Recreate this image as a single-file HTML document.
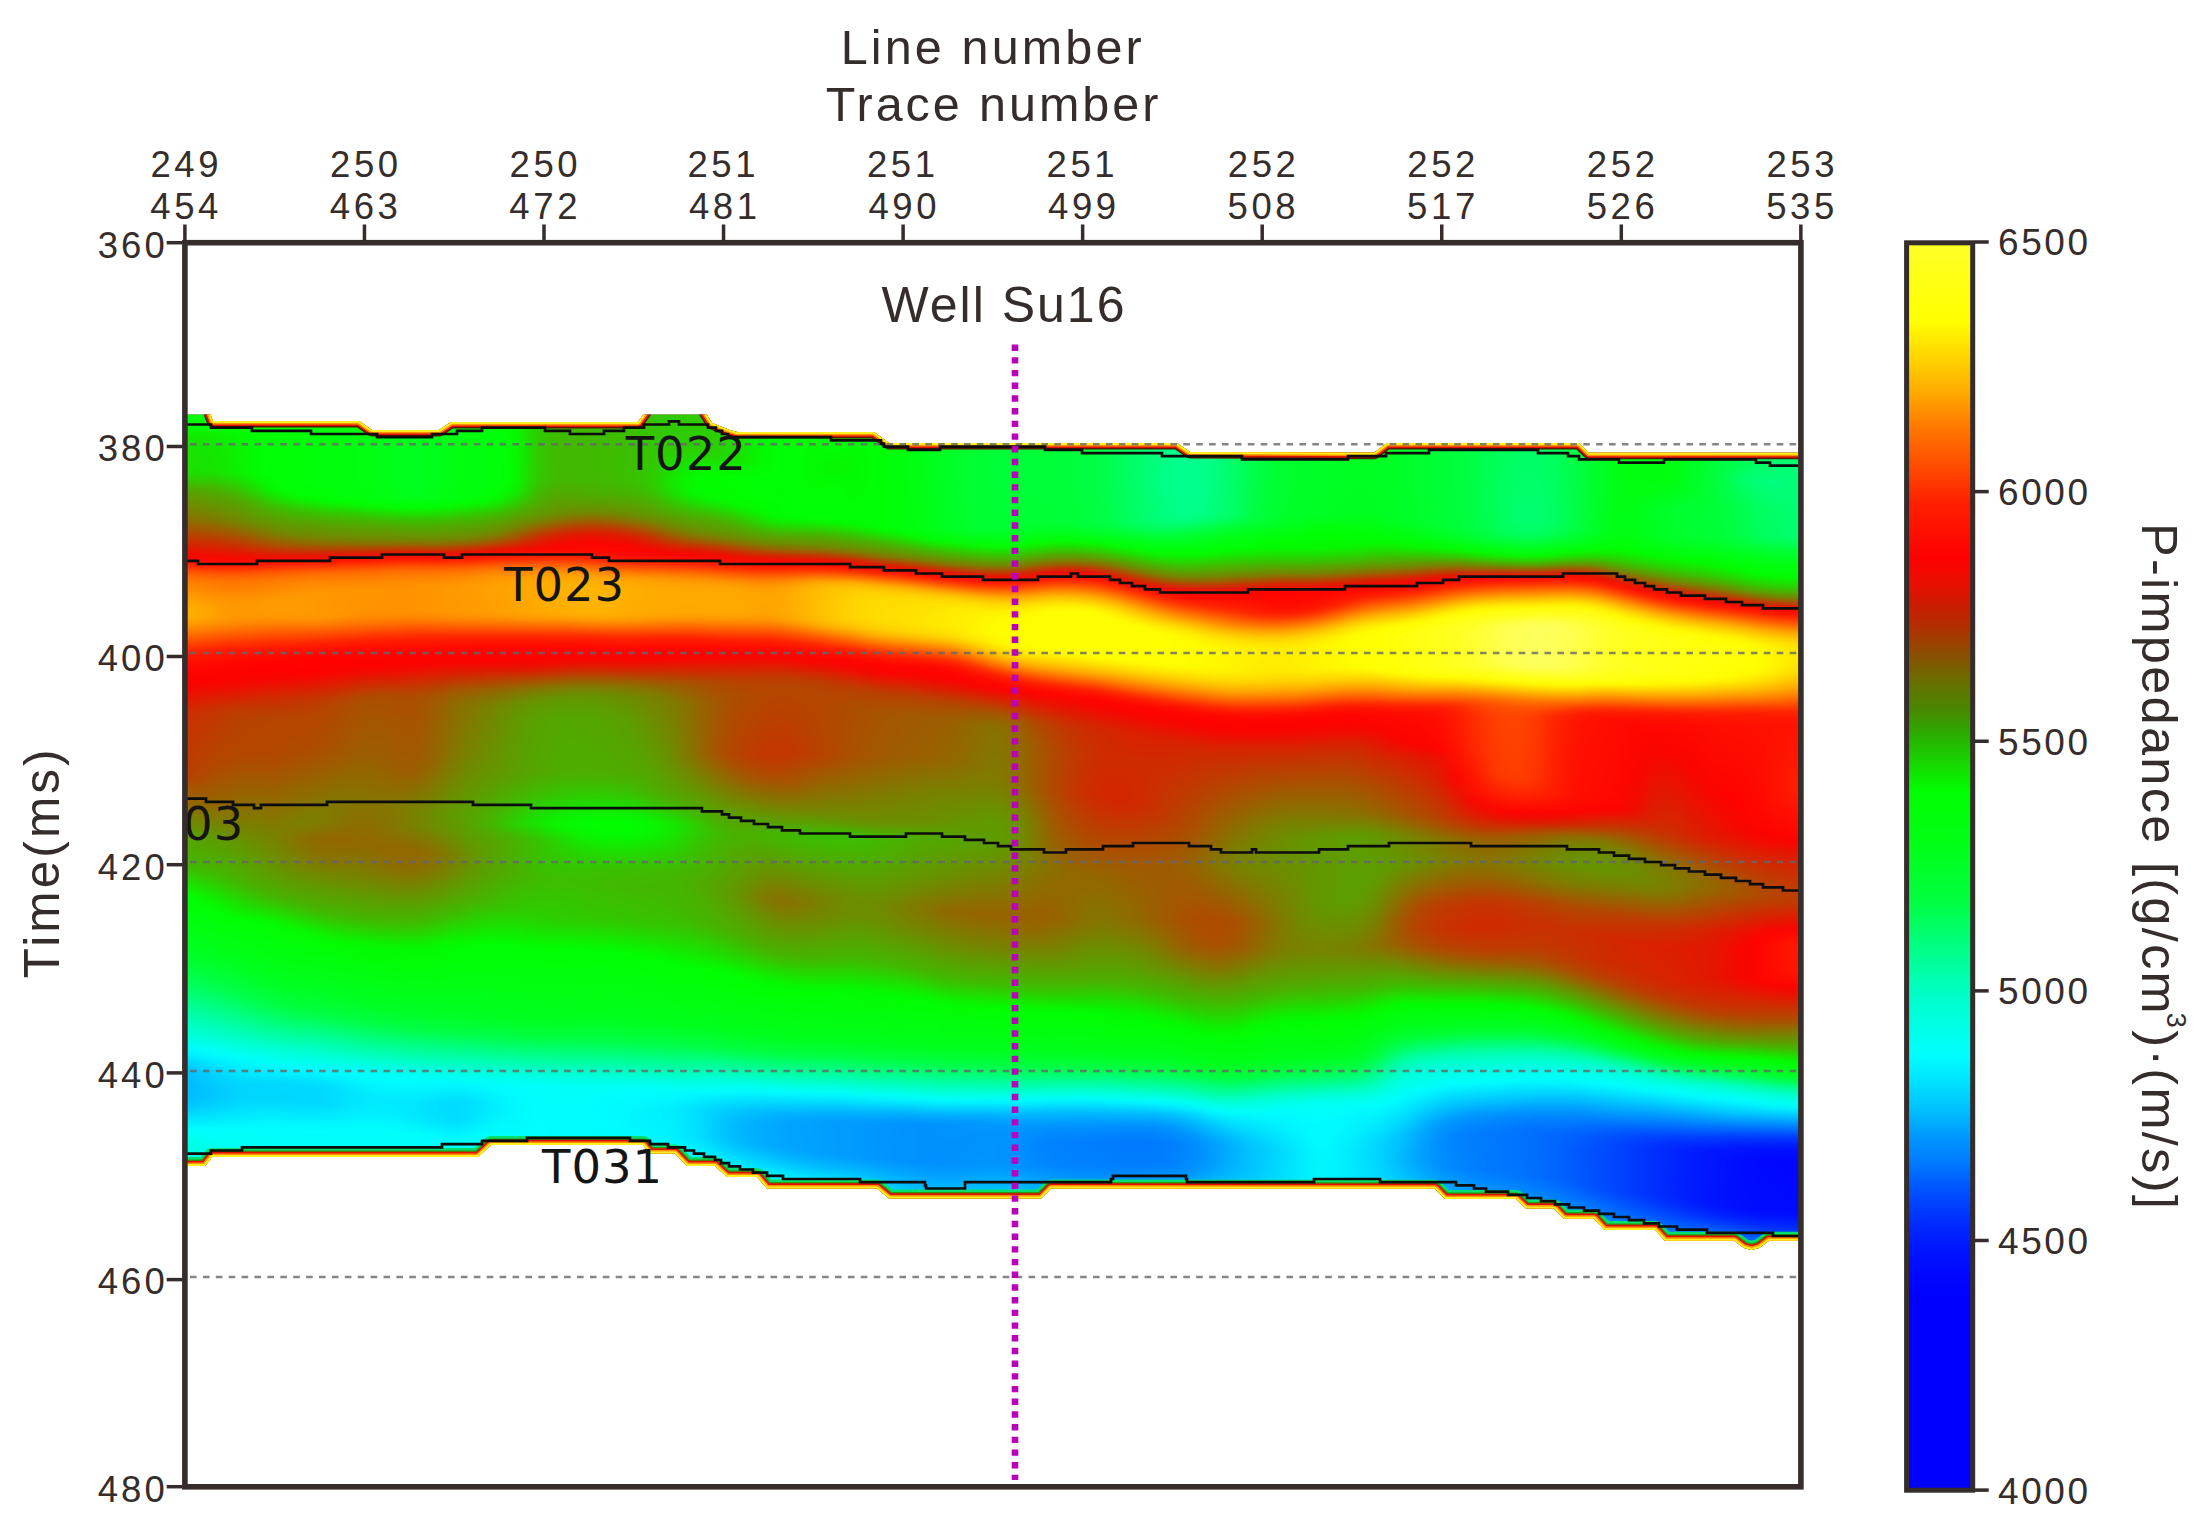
<!DOCTYPE html>
<html lang="en"><head><meta charset="utf-8"><title>P-impedance section</title><style>html,body{margin:0;padding:0;background:#fff}svg{display:block}</style></head><body>
<svg width="2211" height="1539" viewBox="0 0 2211 1539">
<defs>
<linearGradient id="c0" x1="0" y1="0" x2="0" y2="1"><stop offset="0" stop-color="#00ff16"/><stop offset="0.02326" stop-color="#00ff0f"/><stop offset="0.03256" stop-color="#00ff01"/><stop offset="0.04186" stop-color="#16e500"/><stop offset="0.08372" stop-color="#1ddd00"/><stop offset="0.1047" stop-color="#57a300"/><stop offset="0.1372" stop-color="#897100"/><stop offset="0.1814" stop-color="#fc0200"/><stop offset="0.186" stop-color="#ff0d00"/><stop offset="0.1907" stop-color="#ff2200"/><stop offset="0.1977" stop-color="#ff5400"/><stop offset="0.2047" stop-color="#ff7300"/><stop offset="0.2326" stop-color="#ffa900"/><stop offset="0.2465" stop-color="#ffb700"/><stop offset="0.2605" stop-color="#ff9d00"/><stop offset="0.293" stop-color="#ff1e00"/><stop offset="0.3163" stop-color="#ff0200"/><stop offset="0.3349" stop-color="#fc0200"/><stop offset="0.3605" stop-color="#d02a00"/><stop offset="0.393" stop-color="#c63400"/><stop offset="0.4326" stop-color="#c03a00"/><stop offset="0.4721" stop-color="#8e6c00"/><stop offset="0.5023" stop-color="#5b9f00"/><stop offset="0.5419" stop-color="#3fbb00"/><stop offset="0.5721" stop-color="#00ff00"/><stop offset="0.6372" stop-color="#00ff23"/><stop offset="0.6651" stop-color="#00ff48"/><stop offset="0.7535" stop-color="#00fcff"/><stop offset="0.7744" stop-color="#00c5ff"/><stop offset="0.7884" stop-color="#00b4ff"/><stop offset="0.814" stop-color="#00b8ff"/><stop offset="0.8488" stop-color="#00fffc"/><stop offset="0.8674" stop-color="#00ffe0"/><stop offset="0.9605" stop-color="#00ffdc"/><stop offset="1" stop-color="#00ffdc"/></linearGradient>
<linearGradient id="c1" x1="0" y1="0" x2="0" y2="1"><stop offset="0" stop-color="#00ff15"/><stop offset="0.02326" stop-color="#00ff0e"/><stop offset="0.03256" stop-color="#00ff01"/><stop offset="0.04186" stop-color="#16e500"/><stop offset="0.08372" stop-color="#1ddd00"/><stop offset="0.09302" stop-color="#35c500"/><stop offset="0.1023" stop-color="#52a800"/><stop offset="0.1395" stop-color="#8d6d00"/><stop offset="0.1814" stop-color="#fa0300"/><stop offset="0.1837" stop-color="#ff0300"/><stop offset="0.1907" stop-color="#ff1f00"/><stop offset="0.2" stop-color="#ff5e00"/><stop offset="0.2093" stop-color="#ff7d00"/><stop offset="0.2395" stop-color="#ffb200"/><stop offset="0.2488" stop-color="#ffb400"/><stop offset="0.2628" stop-color="#ff9600"/><stop offset="0.293" stop-color="#ff1f00"/><stop offset="0.3163" stop-color="#ff0200"/><stop offset="0.3349" stop-color="#fb0300"/><stop offset="0.3605" stop-color="#d02a00"/><stop offset="0.393" stop-color="#c53500"/><stop offset="0.4326" stop-color="#c03a00"/><stop offset="0.4721" stop-color="#8e6c00"/><stop offset="0.5023" stop-color="#5c9e00"/><stop offset="0.5419" stop-color="#40ba00"/><stop offset="0.5721" stop-color="#01fe00"/><stop offset="0.6372" stop-color="#00ff22"/><stop offset="0.6651" stop-color="#00ff46"/><stop offset="0.7535" stop-color="#00fdff"/><stop offset="0.7744" stop-color="#00c7ff"/><stop offset="0.7884" stop-color="#00b6ff"/><stop offset="0.814" stop-color="#00b9ff"/><stop offset="0.8488" stop-color="#00fffc"/><stop offset="0.8674" stop-color="#00ffe1"/><stop offset="0.9605" stop-color="#00ffdc"/><stop offset="1" stop-color="#00ffdc"/></linearGradient>
<linearGradient id="c2" x1="0" y1="0" x2="0" y2="1"><stop offset="0" stop-color="#00ff10"/><stop offset="0.02558" stop-color="#00ff09"/><stop offset="0.03256" stop-color="#00ff00"/><stop offset="0.04186" stop-color="#14e700"/><stop offset="0.08372" stop-color="#1bdf00"/><stop offset="0.09302" stop-color="#2fcb00"/><stop offset="0.1023" stop-color="#4eac00"/><stop offset="0.1395" stop-color="#887200"/><stop offset="0.1767" stop-color="#e91100"/><stop offset="0.1837" stop-color="#fd0200"/><stop offset="0.1907" stop-color="#ff1800"/><stop offset="0.2023" stop-color="#ff6200"/><stop offset="0.2116" stop-color="#ff7d00"/><stop offset="0.2395" stop-color="#ffaa00"/><stop offset="0.2512" stop-color="#ffad00"/><stop offset="0.2628" stop-color="#ff9300"/><stop offset="0.293" stop-color="#ff1d00"/><stop offset="0.3163" stop-color="#ff0200"/><stop offset="0.3326" stop-color="#f90400"/><stop offset="0.3628" stop-color="#ca3000"/><stop offset="0.4372" stop-color="#b74300"/><stop offset="0.4767" stop-color="#8a7000"/><stop offset="0.507" stop-color="#5b9f00"/><stop offset="0.5442" stop-color="#41b900"/><stop offset="0.5791" stop-color="#00ff00"/><stop offset="0.6395" stop-color="#00ff1f"/><stop offset="0.6698" stop-color="#00ff45"/><stop offset="0.7558" stop-color="#00fdff"/><stop offset="0.7767" stop-color="#00ccff"/><stop offset="0.7953" stop-color="#00bdff"/><stop offset="0.8163" stop-color="#00c2ff"/><stop offset="0.8488" stop-color="#00fffd"/><stop offset="0.8698" stop-color="#00ffe3"/><stop offset="0.9628" stop-color="#00ffe1"/><stop offset="1" stop-color="#00ffe1"/></linearGradient>
<linearGradient id="c3" x1="0" y1="0" x2="0" y2="1"><stop offset="0" stop-color="#00ff08"/><stop offset="0.03256" stop-color="#01fd00"/><stop offset="0.04419" stop-color="#12e900"/><stop offset="0.08372" stop-color="#16e500"/><stop offset="0.107" stop-color="#50aa00"/><stop offset="0.1395" stop-color="#7e7c00"/><stop offset="0.1744" stop-color="#e11900"/><stop offset="0.186" stop-color="#ff0100"/><stop offset="0.193" stop-color="#ff1b00"/><stop offset="0.2023" stop-color="#ff5900"/><stop offset="0.2093" stop-color="#ff7300"/><stop offset="0.2349" stop-color="#ff9b00"/><stop offset="0.2512" stop-color="#ffa100"/><stop offset="0.2605" stop-color="#ff9100"/><stop offset="0.2907" stop-color="#ff1d00"/><stop offset="0.3093" stop-color="#ff0500"/><stop offset="0.3279" stop-color="#fc0200"/><stop offset="0.3628" stop-color="#c33700"/><stop offset="0.4256" stop-color="#b24800"/><stop offset="0.4651" stop-color="#986200"/><stop offset="0.4953" stop-color="#728800"/><stop offset="0.5116" stop-color="#5c9e00"/><stop offset="0.5488" stop-color="#44b600"/><stop offset="0.5907" stop-color="#00ff01"/><stop offset="0.6465" stop-color="#00ff1d"/><stop offset="0.6791" stop-color="#00ff47"/><stop offset="0.7605" stop-color="#00feff"/><stop offset="0.7814" stop-color="#00d5ff"/><stop offset="0.807" stop-color="#00c7ff"/><stop offset="0.8233" stop-color="#00d4ff"/><stop offset="0.8488" stop-color="#00fffe"/><stop offset="0.8744" stop-color="#00ffe9"/><stop offset="0.9674" stop-color="#00ffe8"/><stop offset="1" stop-color="#00ffe8"/></linearGradient>
<linearGradient id="c4" x1="0" y1="0" x2="0" y2="1"><stop offset="0" stop-color="#00ff02"/><stop offset="0.03488" stop-color="#03fb00"/><stop offset="0.05349" stop-color="#0bf100"/><stop offset="0.08605" stop-color="#0fed00"/><stop offset="0.1116" stop-color="#4dad00"/><stop offset="0.1419" stop-color="#778300"/><stop offset="0.1767" stop-color="#e11900"/><stop offset="0.186" stop-color="#fc0200"/><stop offset="0.193" stop-color="#ff1a00"/><stop offset="0.2023" stop-color="#ff5700"/><stop offset="0.2093" stop-color="#ff7100"/><stop offset="0.2349" stop-color="#ff9600"/><stop offset="0.2535" stop-color="#ff9700"/><stop offset="0.2628" stop-color="#ff8200"/><stop offset="0.2884" stop-color="#ff1e00"/><stop offset="0.307" stop-color="#ff0300"/><stop offset="0.3279" stop-color="#fb0300"/><stop offset="0.3628" stop-color="#bc3e00"/><stop offset="0.4186" stop-color="#b14900"/><stop offset="0.4884" stop-color="#847600"/><stop offset="0.514" stop-color="#629800"/><stop offset="0.5581" stop-color="#46b400"/><stop offset="0.5884" stop-color="#13e900"/><stop offset="0.6023" stop-color="#00ff01"/><stop offset="0.6558" stop-color="#00ff1e"/><stop offset="0.686" stop-color="#00ff43"/><stop offset="0.7628" stop-color="#00fffb"/><stop offset="0.7953" stop-color="#00d3ff"/><stop offset="0.8163" stop-color="#00d4ff"/><stop offset="0.8488" stop-color="#00fffd"/><stop offset="0.8791" stop-color="#00ffee"/><stop offset="0.9721" stop-color="#00ffee"/><stop offset="1" stop-color="#00ffee"/></linearGradient>
<linearGradient id="c5" x1="0" y1="0" x2="0" y2="1"><stop offset="0" stop-color="#00ff03"/><stop offset="0.08837" stop-color="#02fd00"/><stop offset="0.1023" stop-color="#1ae000"/><stop offset="0.1209" stop-color="#4baf00"/><stop offset="0.1465" stop-color="#718900"/><stop offset="0.1651" stop-color="#ac4e00"/><stop offset="0.186" stop-color="#ff0100"/><stop offset="0.193" stop-color="#ff1f00"/><stop offset="0.2023" stop-color="#ff5d00"/><stop offset="0.2116" stop-color="#ff7900"/><stop offset="0.2349" stop-color="#ff9900"/><stop offset="0.2512" stop-color="#ff9800"/><stop offset="0.2605" stop-color="#ff8400"/><stop offset="0.2884" stop-color="#ff1c00"/><stop offset="0.3047" stop-color="#ff0300"/><stop offset="0.3256" stop-color="#fa0400"/><stop offset="0.3558" stop-color="#c33700"/><stop offset="0.3721" stop-color="#b64400"/><stop offset="0.4163" stop-color="#b24800"/><stop offset="0.5047" stop-color="#748600"/><stop offset="0.5674" stop-color="#49b100"/><stop offset="0.593" stop-color="#19e100"/><stop offset="0.6047" stop-color="#01fe00"/><stop offset="0.6651" stop-color="#00ff1e"/><stop offset="0.6977" stop-color="#00ff47"/><stop offset="0.7395" stop-color="#00ffb4"/><stop offset="0.7581" stop-color="#00ffe7"/><stop offset="0.7721" stop-color="#00fcff"/><stop offset="0.7953" stop-color="#00d6ff"/><stop offset="0.8163" stop-color="#00d8ff"/><stop offset="0.8488" stop-color="#00fffc"/><stop offset="0.886" stop-color="#00fff0"/><stop offset="0.9791" stop-color="#00fff0"/><stop offset="1" stop-color="#00fff0"/></linearGradient>
<linearGradient id="c6" x1="0" y1="0" x2="0" y2="1"><stop offset="0" stop-color="#00ff05"/><stop offset="0.09302" stop-color="#00ff04"/><stop offset="0.1047" stop-color="#01fe00"/><stop offset="0.1279" stop-color="#46b400"/><stop offset="0.1558" stop-color="#788200"/><stop offset="0.1698" stop-color="#ac4e00"/><stop offset="0.1837" stop-color="#f60700"/><stop offset="0.186" stop-color="#ff0500"/><stop offset="0.193" stop-color="#ff2900"/><stop offset="0.2" stop-color="#ff5800"/><stop offset="0.207" stop-color="#ff7400"/><stop offset="0.2302" stop-color="#ff9900"/><stop offset="0.2465" stop-color="#ff9f00"/><stop offset="0.2581" stop-color="#ff8900"/><stop offset="0.286" stop-color="#ff1e00"/><stop offset="0.3023" stop-color="#ff0200"/><stop offset="0.3233" stop-color="#fb0300"/><stop offset="0.3488" stop-color="#ca3000"/><stop offset="0.3698" stop-color="#b64400"/><stop offset="0.4163" stop-color="#b14900"/><stop offset="0.5" stop-color="#7d7d00"/><stop offset="0.5442" stop-color="#679300"/><stop offset="0.5791" stop-color="#45b500"/><stop offset="0.6093" stop-color="#01fe00"/><stop offset="0.6767" stop-color="#00ff20"/><stop offset="0.707" stop-color="#00ff48"/><stop offset="0.7581" stop-color="#00ffde"/><stop offset="0.7744" stop-color="#00ffff"/><stop offset="0.793" stop-color="#00d9ff"/><stop offset="0.814" stop-color="#00d7ff"/><stop offset="0.8465" stop-color="#00fffe"/><stop offset="0.8884" stop-color="#00fff2"/><stop offset="0.9814" stop-color="#00fff2"/><stop offset="1" stop-color="#00fff2"/></linearGradient>
<linearGradient id="c7" x1="0" y1="0" x2="0" y2="1"><stop offset="0" stop-color="#00ff07"/><stop offset="0.09302" stop-color="#00ff07"/><stop offset="0.1116" stop-color="#00ff00"/><stop offset="0.1302" stop-color="#40ba00"/><stop offset="0.1581" stop-color="#748600"/><stop offset="0.1698" stop-color="#a25800"/><stop offset="0.1837" stop-color="#f70600"/><stop offset="0.186" stop-color="#ff0600"/><stop offset="0.193" stop-color="#ff2f00"/><stop offset="0.2" stop-color="#ff5e00"/><stop offset="0.207" stop-color="#ff7800"/><stop offset="0.2256" stop-color="#ff9700"/><stop offset="0.2465" stop-color="#ff9e00"/><stop offset="0.2558" stop-color="#ff9100"/><stop offset="0.286" stop-color="#ff1c00"/><stop offset="0.3" stop-color="#ff0300"/><stop offset="0.3209" stop-color="#fc0200"/><stop offset="0.3465" stop-color="#ca3000"/><stop offset="0.3674" stop-color="#b64400"/><stop offset="0.414" stop-color="#ae4c00"/><stop offset="0.4907" stop-color="#7b7f00"/><stop offset="0.514" stop-color="#867400"/><stop offset="0.5512" stop-color="#6a9000"/><stop offset="0.586" stop-color="#45b500"/><stop offset="0.6163" stop-color="#02fd00"/><stop offset="0.6814" stop-color="#00ff1f"/><stop offset="0.7093" stop-color="#00ff41"/><stop offset="0.7581" stop-color="#00ffd6"/><stop offset="0.7767" stop-color="#00ffff"/><stop offset="0.7953" stop-color="#00d8ff"/><stop offset="0.8163" stop-color="#00d6ff"/><stop offset="0.8488" stop-color="#00fffd"/><stop offset="0.8907" stop-color="#00fff2"/><stop offset="0.9837" stop-color="#00fff2"/><stop offset="1" stop-color="#00fff2"/></linearGradient>
<linearGradient id="c8" x1="0" y1="0" x2="0" y2="1"><stop offset="0" stop-color="#00ff0a"/><stop offset="0.09302" stop-color="#00ff0a"/><stop offset="0.114" stop-color="#00ff03"/><stop offset="0.1163" stop-color="#01fd00"/><stop offset="0.1302" stop-color="#35c500"/><stop offset="0.1419" stop-color="#53a700"/><stop offset="0.1605" stop-color="#758500"/><stop offset="0.1698" stop-color="#9c5e00"/><stop offset="0.1814" stop-color="#ea1000"/><stop offset="0.1837" stop-color="#fa0400"/><stop offset="0.1884" stop-color="#ff1600"/><stop offset="0.2" stop-color="#ff6400"/><stop offset="0.2093" stop-color="#ff8100"/><stop offset="0.2233" stop-color="#ff9800"/><stop offset="0.2512" stop-color="#ff9900"/><stop offset="0.2581" stop-color="#ff8a00"/><stop offset="0.2837" stop-color="#ff1e00"/><stop offset="0.2977" stop-color="#ff0300"/><stop offset="0.3186" stop-color="#fd0200"/><stop offset="0.3465" stop-color="#c63400"/><stop offset="0.3628" stop-color="#b54500"/><stop offset="0.407" stop-color="#ae4c00"/><stop offset="0.4837" stop-color="#7b7f00"/><stop offset="0.4953" stop-color="#7e7c00"/><stop offset="0.5093" stop-color="#926800"/><stop offset="0.5326" stop-color="#867400"/><stop offset="0.593" stop-color="#43b700"/><stop offset="0.6233" stop-color="#03fc00"/><stop offset="0.686" stop-color="#00ff21"/><stop offset="0.7116" stop-color="#00ff3f"/><stop offset="0.7628" stop-color="#00ffdb"/><stop offset="0.7791" stop-color="#00fdff"/><stop offset="0.7977" stop-color="#00d8ff"/><stop offset="0.8163" stop-color="#00d5ff"/><stop offset="0.8488" stop-color="#00fffe"/><stop offset="0.8884" stop-color="#00fff2"/><stop offset="0.9814" stop-color="#00fff2"/><stop offset="1" stop-color="#00fff2"/></linearGradient>
<linearGradient id="c9" x1="0" y1="0" x2="0" y2="1"><stop offset="0" stop-color="#00ff0c"/><stop offset="0.09302" stop-color="#00ff0c"/><stop offset="0.114" stop-color="#00ff07"/><stop offset="0.1186" stop-color="#00ff00"/><stop offset="0.1326" stop-color="#36c400"/><stop offset="0.1442" stop-color="#54a600"/><stop offset="0.1605" stop-color="#718900"/><stop offset="0.1698" stop-color="#996100"/><stop offset="0.1791" stop-color="#e11900"/><stop offset="0.1837" stop-color="#ff0000"/><stop offset="0.1907" stop-color="#ff2900"/><stop offset="0.1977" stop-color="#ff5c00"/><stop offset="0.2047" stop-color="#ff7800"/><stop offset="0.2209" stop-color="#ff9600"/><stop offset="0.2512" stop-color="#ff9600"/><stop offset="0.2605" stop-color="#ff7c00"/><stop offset="0.2814" stop-color="#ff2000"/><stop offset="0.2953" stop-color="#ff0400"/><stop offset="0.3163" stop-color="#fc0200"/><stop offset="0.3512" stop-color="#b54500"/><stop offset="0.407" stop-color="#a75300"/><stop offset="0.4698" stop-color="#817900"/><stop offset="0.493" stop-color="#837700"/><stop offset="0.5093" stop-color="#966400"/><stop offset="0.5372" stop-color="#857500"/><stop offset="0.5977" stop-color="#44b600"/><stop offset="0.6302" stop-color="#01fe00"/><stop offset="0.6907" stop-color="#00ff21"/><stop offset="0.7163" stop-color="#00ff41"/><stop offset="0.7651" stop-color="#00ffda"/><stop offset="0.7814" stop-color="#00fdff"/><stop offset="0.8" stop-color="#00ddff"/><stop offset="0.8209" stop-color="#00deff"/><stop offset="0.8488" stop-color="#00fffd"/><stop offset="0.8907" stop-color="#00fff2"/><stop offset="0.9837" stop-color="#00fff2"/><stop offset="1" stop-color="#00fff2"/></linearGradient>
<linearGradient id="c10" x1="0" y1="0" x2="0" y2="1"><stop offset="0" stop-color="#00ff0f"/><stop offset="0.09302" stop-color="#00ff0f"/><stop offset="0.1163" stop-color="#00ff08"/><stop offset="0.1209" stop-color="#00ff00"/><stop offset="0.1302" stop-color="#27d300"/><stop offset="0.1419" stop-color="#4cae00"/><stop offset="0.1605" stop-color="#6f8b00"/><stop offset="0.1674" stop-color="#8a7000"/><stop offset="0.1744" stop-color="#be3c00"/><stop offset="0.1814" stop-color="#f40900"/><stop offset="0.1837" stop-color="#ff0500"/><stop offset="0.1907" stop-color="#ff2f00"/><stop offset="0.1977" stop-color="#ff6000"/><stop offset="0.207" stop-color="#ff7e00"/><stop offset="0.2209" stop-color="#ff9500"/><stop offset="0.2512" stop-color="#ff9200"/><stop offset="0.2628" stop-color="#ff6c00"/><stop offset="0.2814" stop-color="#ff1c00"/><stop offset="0.2953" stop-color="#ff0300"/><stop offset="0.314" stop-color="#fb0300"/><stop offset="0.3488" stop-color="#ac4e00"/><stop offset="0.407" stop-color="#9f5b00"/><stop offset="0.4651" stop-color="#847600"/><stop offset="0.514" stop-color="#936700"/><stop offset="0.5488" stop-color="#7c7e00"/><stop offset="0.6023" stop-color="#43b700"/><stop offset="0.6326" stop-color="#03fb00"/><stop offset="0.6977" stop-color="#00ff22"/><stop offset="0.7209" stop-color="#00ff42"/><stop offset="0.7698" stop-color="#00ffde"/><stop offset="0.7837" stop-color="#00ffff"/><stop offset="0.8047" stop-color="#00e5ff"/><stop offset="0.8256" stop-color="#00e9ff"/><stop offset="0.8488" stop-color="#00fffc"/><stop offset="0.893" stop-color="#00fff2"/><stop offset="0.986" stop-color="#00fff2"/><stop offset="1" stop-color="#00fff2"/></linearGradient>
<linearGradient id="c11" x1="0" y1="0" x2="0" y2="1"><stop offset="0" stop-color="#00ff13"/><stop offset="0.09302" stop-color="#00ff13"/><stop offset="0.1163" stop-color="#00ff0c"/><stop offset="0.1233" stop-color="#00ff00"/><stop offset="0.1326" stop-color="#28d200"/><stop offset="0.1442" stop-color="#4eac00"/><stop offset="0.1628" stop-color="#748600"/><stop offset="0.1698" stop-color="#996100"/><stop offset="0.1791" stop-color="#ea1000"/><stop offset="0.1814" stop-color="#fb0300"/><stop offset="0.1884" stop-color="#ff2300"/><stop offset="0.1953" stop-color="#ff5700"/><stop offset="0.2023" stop-color="#ff7500"/><stop offset="0.2186" stop-color="#ff9300"/><stop offset="0.2488" stop-color="#ff9200"/><stop offset="0.2581" stop-color="#ff7900"/><stop offset="0.2791" stop-color="#ff1f00"/><stop offset="0.293" stop-color="#ff0400"/><stop offset="0.3116" stop-color="#fc0200"/><stop offset="0.3465" stop-color="#a95100"/><stop offset="0.414" stop-color="#9c5e00"/><stop offset="0.4674" stop-color="#857500"/><stop offset="0.5209" stop-color="#916900"/><stop offset="0.5488" stop-color="#827800"/><stop offset="0.6047" stop-color="#44b600"/><stop offset="0.6349" stop-color="#04fa00"/><stop offset="0.6535" stop-color="#00ff07"/><stop offset="0.7047" stop-color="#00ff24"/><stop offset="0.7256" stop-color="#00ff43"/><stop offset="0.7744" stop-color="#00ffe4"/><stop offset="0.7884" stop-color="#00fdff"/><stop offset="0.8116" stop-color="#00eaff"/><stop offset="0.8326" stop-color="#00f0ff"/><stop offset="0.8488" stop-color="#00fffc"/><stop offset="0.893" stop-color="#00fff2"/><stop offset="0.986" stop-color="#00fff2"/><stop offset="1" stop-color="#00fff2"/></linearGradient>
<linearGradient id="c12" x1="0" y1="0" x2="0" y2="1"><stop offset="0" stop-color="#00ff1a"/><stop offset="0.09302" stop-color="#00ff1a"/><stop offset="0.114" stop-color="#00ff15"/><stop offset="0.1256" stop-color="#00ff00"/><stop offset="0.1326" stop-color="#21d900"/><stop offset="0.1442" stop-color="#4ab000"/><stop offset="0.1628" stop-color="#738700"/><stop offset="0.1698" stop-color="#9b5f00"/><stop offset="0.1767" stop-color="#de1c00"/><stop offset="0.1814" stop-color="#ff0100"/><stop offset="0.1884" stop-color="#ff2a00"/><stop offset="0.1953" stop-color="#ff5c00"/><stop offset="0.2023" stop-color="#ff7800"/><stop offset="0.2163" stop-color="#ff9200"/><stop offset="0.2488" stop-color="#ff9100"/><stop offset="0.2581" stop-color="#ff7600"/><stop offset="0.2791" stop-color="#ff1d00"/><stop offset="0.293" stop-color="#ff0300"/><stop offset="0.3116" stop-color="#f90400"/><stop offset="0.3442" stop-color="#ad4d00"/><stop offset="0.3698" stop-color="#a75300"/><stop offset="0.4302" stop-color="#9d5d00"/><stop offset="0.4721" stop-color="#817900"/><stop offset="0.4977" stop-color="#847600"/><stop offset="0.5233" stop-color="#936700"/><stop offset="0.5465" stop-color="#8b6f00"/><stop offset="0.6093" stop-color="#3ebc00"/><stop offset="0.6372" stop-color="#04fb00"/><stop offset="0.7047" stop-color="#00ff21"/><stop offset="0.7279" stop-color="#00ff41"/><stop offset="0.7767" stop-color="#00ffe5"/><stop offset="0.7884" stop-color="#00fffe"/><stop offset="0.8163" stop-color="#00e9ff"/><stop offset="0.8349" stop-color="#00efff"/><stop offset="0.8488" stop-color="#00fffd"/><stop offset="0.8907" stop-color="#00fff2"/><stop offset="0.9837" stop-color="#00fff2"/><stop offset="1" stop-color="#00fff2"/></linearGradient>
<linearGradient id="c13" x1="0" y1="0" x2="0" y2="1"><stop offset="0" stop-color="#00ff20"/><stop offset="0.09302" stop-color="#00ff20"/><stop offset="0.1116" stop-color="#00ff1c"/><stop offset="0.1256" stop-color="#00ff03"/><stop offset="0.1395" stop-color="#39c100"/><stop offset="0.1628" stop-color="#738700"/><stop offset="0.1698" stop-color="#9e5c00"/><stop offset="0.1767" stop-color="#e21800"/><stop offset="0.1791" stop-color="#f30900"/><stop offset="0.1814" stop-color="#ff0400"/><stop offset="0.186" stop-color="#ff1d00"/><stop offset="0.1953" stop-color="#ff6000"/><stop offset="0.2047" stop-color="#ff7f00"/><stop offset="0.2163" stop-color="#ff9300"/><stop offset="0.2488" stop-color="#ff9100"/><stop offset="0.2581" stop-color="#ff7400"/><stop offset="0.2767" stop-color="#ff2000"/><stop offset="0.293" stop-color="#ff0300"/><stop offset="0.3093" stop-color="#fa0400"/><stop offset="0.3442" stop-color="#ad4d00"/><stop offset="0.4326" stop-color="#9e5c00"/><stop offset="0.4744" stop-color="#798100"/><stop offset="0.4953" stop-color="#778300"/><stop offset="0.5233" stop-color="#946600"/><stop offset="0.5465" stop-color="#8e6c00"/><stop offset="0.6093" stop-color="#3ebc00"/><stop offset="0.6372" stop-color="#04fa00"/><stop offset="0.6558" stop-color="#00ff06"/><stop offset="0.7116" stop-color="#00ff24"/><stop offset="0.7326" stop-color="#00ff47"/><stop offset="0.7814" stop-color="#00ffed"/><stop offset="0.7907" stop-color="#00ffff"/><stop offset="0.8209" stop-color="#00e6ff"/><stop offset="0.8349" stop-color="#00e9ff"/><stop offset="0.8535" stop-color="#00fffc"/><stop offset="0.8953" stop-color="#00fff3"/><stop offset="0.9884" stop-color="#00fff3"/><stop offset="1" stop-color="#00fff3"/></linearGradient>
<linearGradient id="c14" x1="0" y1="0" x2="0" y2="1"><stop offset="0" stop-color="#00ff1a"/><stop offset="0.09302" stop-color="#00ff1a"/><stop offset="0.1163" stop-color="#00ff12"/><stop offset="0.1256" stop-color="#00ff01"/><stop offset="0.1349" stop-color="#28d200"/><stop offset="0.1465" stop-color="#4eac00"/><stop offset="0.1628" stop-color="#708a00"/><stop offset="0.1698" stop-color="#986200"/><stop offset="0.1767" stop-color="#dc1e00"/><stop offset="0.1814" stop-color="#ff0000"/><stop offset="0.1884" stop-color="#ff2900"/><stop offset="0.1953" stop-color="#ff5c00"/><stop offset="0.2023" stop-color="#ff7a00"/><stop offset="0.2163" stop-color="#ff9500"/><stop offset="0.2488" stop-color="#ff9500"/><stop offset="0.2558" stop-color="#ff8100"/><stop offset="0.2767" stop-color="#ff2000"/><stop offset="0.293" stop-color="#ff0300"/><stop offset="0.307" stop-color="#fb0300"/><stop offset="0.3419" stop-color="#a85200"/><stop offset="0.3581" stop-color="#9d5d00"/><stop offset="0.4209" stop-color="#946600"/><stop offset="0.4791" stop-color="#6b8f00"/><stop offset="0.4977" stop-color="#6d8d00"/><stop offset="0.5279" stop-color="#8b6f00"/><stop offset="0.5488" stop-color="#817900"/><stop offset="0.6047" stop-color="#3ebc00"/><stop offset="0.6349" stop-color="#04fa00"/><stop offset="0.6674" stop-color="#00ff0b"/><stop offset="0.714" stop-color="#00ff24"/><stop offset="0.7326" stop-color="#00ff41"/><stop offset="0.7837" stop-color="#00ffef"/><stop offset="0.793" stop-color="#00fcff"/><stop offset="0.8186" stop-color="#00deff"/><stop offset="0.8372" stop-color="#00e2ff"/><stop offset="0.8581" stop-color="#00ffff"/><stop offset="0.8953" stop-color="#00fff6"/><stop offset="0.9884" stop-color="#00fff6"/><stop offset="1" stop-color="#00fff6"/></linearGradient>
<linearGradient id="c15" x1="0" y1="0" x2="0" y2="1"><stop offset="0" stop-color="#00ff11"/><stop offset="0.09302" stop-color="#00ff11"/><stop offset="0.1163" stop-color="#00ff0b"/><stop offset="0.1233" stop-color="#02fd00"/><stop offset="0.1326" stop-color="#29d100"/><stop offset="0.1442" stop-color="#4eac00"/><stop offset="0.1605" stop-color="#6e8c00"/><stop offset="0.1674" stop-color="#8f6b00"/><stop offset="0.1767" stop-color="#e31700"/><stop offset="0.1791" stop-color="#f30900"/><stop offset="0.1814" stop-color="#ff0500"/><stop offset="0.1884" stop-color="#ff2f00"/><stop offset="0.1953" stop-color="#ff6000"/><stop offset="0.2047" stop-color="#ff8500"/><stop offset="0.2163" stop-color="#ff9900"/><stop offset="0.2488" stop-color="#ff9800"/><stop offset="0.2558" stop-color="#ff8400"/><stop offset="0.2767" stop-color="#ff1f00"/><stop offset="0.2907" stop-color="#ff0400"/><stop offset="0.3047" stop-color="#fd0200"/><stop offset="0.3163" stop-color="#df1b00"/><stop offset="0.3372" stop-color="#a45600"/><stop offset="0.3535" stop-color="#8e6c00"/><stop offset="0.4093" stop-color="#837700"/><stop offset="0.4814" stop-color="#5e9c00"/><stop offset="0.5023" stop-color="#649600"/><stop offset="0.5302" stop-color="#798100"/><stop offset="0.5535" stop-color="#6d8d00"/><stop offset="0.5977" stop-color="#3ebc00"/><stop offset="0.6302" stop-color="#05f900"/><stop offset="0.6442" stop-color="#00ff04"/><stop offset="0.714" stop-color="#00ff22"/><stop offset="0.7349" stop-color="#00ff42"/><stop offset="0.786" stop-color="#00fff1"/><stop offset="0.7953" stop-color="#00f9ff"/><stop offset="0.8163" stop-color="#00daff"/><stop offset="0.8372" stop-color="#00dbff"/><stop offset="0.8628" stop-color="#00feff"/><stop offset="0.9302" stop-color="#00fffa"/><stop offset="1" stop-color="#00fffa"/></linearGradient>
<linearGradient id="c16" x1="0" y1="0" x2="0" y2="1"><stop offset="0" stop-color="#00ff0e"/><stop offset="0.09302" stop-color="#00ff0e"/><stop offset="0.114" stop-color="#00ff09"/><stop offset="0.1209" stop-color="#03fb00"/><stop offset="0.1302" stop-color="#29d100"/><stop offset="0.1419" stop-color="#4eac00"/><stop offset="0.1581" stop-color="#6e8c00"/><stop offset="0.1651" stop-color="#8c6e00"/><stop offset="0.1767" stop-color="#ea1000"/><stop offset="0.1791" stop-color="#fb0300"/><stop offset="0.186" stop-color="#ff2200"/><stop offset="0.1953" stop-color="#ff6500"/><stop offset="0.2047" stop-color="#ff8b00"/><stop offset="0.2163" stop-color="#ff9d00"/><stop offset="0.2488" stop-color="#ff9b00"/><stop offset="0.2558" stop-color="#ff8700"/><stop offset="0.2767" stop-color="#ff1f00"/><stop offset="0.2907" stop-color="#ff0300"/><stop offset="0.3047" stop-color="#fc0200"/><stop offset="0.3163" stop-color="#dc1e00"/><stop offset="0.3372" stop-color="#9c5e00"/><stop offset="0.3558" stop-color="#807a00"/><stop offset="0.4302" stop-color="#6d8d00"/><stop offset="0.4884" stop-color="#51a900"/><stop offset="0.5349" stop-color="#669400"/><stop offset="0.5791" stop-color="#4dad00"/><stop offset="0.6093" stop-color="#20da00"/><stop offset="0.6326" stop-color="#00ff00"/><stop offset="0.7163" stop-color="#00ff22"/><stop offset="0.7372" stop-color="#00ff45"/><stop offset="0.786" stop-color="#00ffee"/><stop offset="0.7953" stop-color="#00fbff"/><stop offset="0.8163" stop-color="#00e1ff"/><stop offset="0.8372" stop-color="#00e5ff"/><stop offset="0.8581" stop-color="#00ffff"/><stop offset="0.9209" stop-color="#00fff9"/><stop offset="1" stop-color="#00fff9"/></linearGradient>
<linearGradient id="c17" x1="0" y1="0" x2="0" y2="1"><stop offset="0" stop-color="#00ff0a"/><stop offset="0.09302" stop-color="#00ff0a"/><stop offset="0.114" stop-color="#00ff03"/><stop offset="0.1163" stop-color="#01fe00"/><stop offset="0.1326" stop-color="#3ebc00"/><stop offset="0.1558" stop-color="#738700"/><stop offset="0.1628" stop-color="#936700"/><stop offset="0.1744" stop-color="#e71300"/><stop offset="0.1767" stop-color="#f60700"/><stop offset="0.1791" stop-color="#ff0600"/><stop offset="0.186" stop-color="#ff2e00"/><stop offset="0.1953" stop-color="#ff6f00"/><stop offset="0.2047" stop-color="#ff9400"/><stop offset="0.2163" stop-color="#ffa100"/><stop offset="0.2488" stop-color="#ff9e00"/><stop offset="0.2558" stop-color="#ff8800"/><stop offset="0.2767" stop-color="#ff1e00"/><stop offset="0.2907" stop-color="#ff0300"/><stop offset="0.3047" stop-color="#fc0200"/><stop offset="0.3163" stop-color="#d92100"/><stop offset="0.3372" stop-color="#956500"/><stop offset="0.3558" stop-color="#758500"/><stop offset="0.4349" stop-color="#639700"/><stop offset="0.493" stop-color="#3fbb00"/><stop offset="0.5116" stop-color="#55a500"/><stop offset="0.5512" stop-color="#55a500"/><stop offset="0.5884" stop-color="#3ac000"/><stop offset="0.6326" stop-color="#00ff01"/><stop offset="0.7186" stop-color="#00ff21"/><stop offset="0.7395" stop-color="#00ff46"/><stop offset="0.786" stop-color="#00ffe9"/><stop offset="0.7977" stop-color="#00fdff"/><stop offset="0.8209" stop-color="#00eeff"/><stop offset="0.8558" stop-color="#00fffc"/><stop offset="0.9488" stop-color="#00fff8"/><stop offset="1" stop-color="#00fff8"/></linearGradient>
<linearGradient id="c18" x1="0" y1="0" x2="0" y2="1"><stop offset="0" stop-color="#00ff01"/><stop offset="0.09302" stop-color="#00ff00"/><stop offset="0.107" stop-color="#08f500"/><stop offset="0.1302" stop-color="#4ab000"/><stop offset="0.1488" stop-color="#748600"/><stop offset="0.1628" stop-color="#b34700"/><stop offset="0.1767" stop-color="#fd0100"/><stop offset="0.1837" stop-color="#ff1f00"/><stop offset="0.1953" stop-color="#ff7300"/><stop offset="0.2047" stop-color="#ff9a00"/><stop offset="0.2163" stop-color="#ffa600"/><stop offset="0.2488" stop-color="#ffa300"/><stop offset="0.2558" stop-color="#ff8d00"/><stop offset="0.2767" stop-color="#ff1e00"/><stop offset="0.2907" stop-color="#ff0300"/><stop offset="0.3047" stop-color="#fb0300"/><stop offset="0.314" stop-color="#e11900"/><stop offset="0.3349" stop-color="#916900"/><stop offset="0.3512" stop-color="#6f8b00"/><stop offset="0.3721" stop-color="#619900"/><stop offset="0.4372" stop-color="#5aa000"/><stop offset="0.4721" stop-color="#3dbd00"/><stop offset="0.4907" stop-color="#28d200"/><stop offset="0.4977" stop-color="#2fcb00"/><stop offset="0.507" stop-color="#46b400"/><stop offset="0.5488" stop-color="#4baf00"/><stop offset="0.593" stop-color="#31c900"/><stop offset="0.6349" stop-color="#00ff01"/><stop offset="0.7186" stop-color="#00ff1f"/><stop offset="0.7395" stop-color="#00ff40"/><stop offset="0.786" stop-color="#00ffe6"/><stop offset="0.7977" stop-color="#00fffd"/><stop offset="0.8279" stop-color="#00f7ff"/><stop offset="0.8581" stop-color="#00fffa"/><stop offset="0.9512" stop-color="#00fff9"/><stop offset="1" stop-color="#00fff9"/></linearGradient>
<linearGradient id="c19" x1="0" y1="0" x2="0" y2="1"><stop offset="0" stop-color="#2bcf00"/><stop offset="0.09302" stop-color="#2fcb00"/><stop offset="0.1209" stop-color="#4eac00"/><stop offset="0.1395" stop-color="#6b8f00"/><stop offset="0.1512" stop-color="#9f5b00"/><stop offset="0.1605" stop-color="#cd2d00"/><stop offset="0.1744" stop-color="#fb0300"/><stop offset="0.1791" stop-color="#ff0e00"/><stop offset="0.1837" stop-color="#ff2200"/><stop offset="0.1953" stop-color="#ff7700"/><stop offset="0.2023" stop-color="#ff9800"/><stop offset="0.2116" stop-color="#ffa900"/><stop offset="0.2488" stop-color="#ffa800"/><stop offset="0.2558" stop-color="#ff9200"/><stop offset="0.2767" stop-color="#ff1e00"/><stop offset="0.2907" stop-color="#ff0300"/><stop offset="0.3047" stop-color="#fb0300"/><stop offset="0.314" stop-color="#de1c00"/><stop offset="0.3349" stop-color="#877300"/><stop offset="0.3488" stop-color="#679300"/><stop offset="0.3698" stop-color="#58a200"/><stop offset="0.4349" stop-color="#54a600"/><stop offset="0.4651" stop-color="#37c300"/><stop offset="0.4907" stop-color="#13e800"/><stop offset="0.5116" stop-color="#39c100"/><stop offset="0.5581" stop-color="#40ba00"/><stop offset="0.6047" stop-color="#28d200"/><stop offset="0.6372" stop-color="#00ff01"/><stop offset="0.7209" stop-color="#00ff1f"/><stop offset="0.7419" stop-color="#00ff40"/><stop offset="0.786" stop-color="#00ffe1"/><stop offset="0.7977" stop-color="#00fffb"/><stop offset="0.8488" stop-color="#00fffe"/><stop offset="0.9419" stop-color="#00fffa"/><stop offset="1" stop-color="#00fffa"/></linearGradient>
<linearGradient id="c20" x1="0" y1="0" x2="0" y2="1"><stop offset="0" stop-color="#3ebc00"/><stop offset="0.09302" stop-color="#41b900"/><stop offset="0.1302" stop-color="#659500"/><stop offset="0.1395" stop-color="#7f7b00"/><stop offset="0.1581" stop-color="#dc1e00"/><stop offset="0.1721" stop-color="#ff0100"/><stop offset="0.1814" stop-color="#ff1a00"/><stop offset="0.1977" stop-color="#ff8700"/><stop offset="0.2047" stop-color="#ffa400"/><stop offset="0.2163" stop-color="#ffaf00"/><stop offset="0.2488" stop-color="#ffac00"/><stop offset="0.2558" stop-color="#ff9500"/><stop offset="0.2744" stop-color="#ff2800"/><stop offset="0.286" stop-color="#ff0900"/><stop offset="0.3" stop-color="#fe0100"/><stop offset="0.3093" stop-color="#e91100"/><stop offset="0.3349" stop-color="#807a00"/><stop offset="0.3488" stop-color="#619900"/><stop offset="0.3721" stop-color="#53a700"/><stop offset="0.4349" stop-color="#4eac00"/><stop offset="0.4628" stop-color="#30ca00"/><stop offset="0.4907" stop-color="#07f700"/><stop offset="0.4977" stop-color="#0cf000"/><stop offset="0.5116" stop-color="#28d200"/><stop offset="0.5581" stop-color="#3cbe00"/><stop offset="0.6047" stop-color="#2cce00"/><stop offset="0.6372" stop-color="#00ff00"/><stop offset="0.7233" stop-color="#00ff20"/><stop offset="0.7442" stop-color="#00ff46"/><stop offset="0.786" stop-color="#00ffde"/><stop offset="0.7977" stop-color="#00fff8"/><stop offset="0.8326" stop-color="#00feff"/><stop offset="0.9256" stop-color="#00fffb"/><stop offset="1" stop-color="#00fffb"/></linearGradient>
<linearGradient id="c21" x1="0" y1="0" x2="0" y2="1"><stop offset="0" stop-color="#41b900"/><stop offset="0.09302" stop-color="#42b800"/><stop offset="0.1186" stop-color="#59a100"/><stop offset="0.1326" stop-color="#748600"/><stop offset="0.1558" stop-color="#e01a00"/><stop offset="0.1674" stop-color="#fd0100"/><stop offset="0.1767" stop-color="#ff0b00"/><stop offset="0.1837" stop-color="#ff2500"/><stop offset="0.1977" stop-color="#ff8600"/><stop offset="0.2047" stop-color="#ffa600"/><stop offset="0.2163" stop-color="#ffb400"/><stop offset="0.2488" stop-color="#ffb000"/><stop offset="0.2558" stop-color="#ff9800"/><stop offset="0.2744" stop-color="#ff2800"/><stop offset="0.286" stop-color="#ff0900"/><stop offset="0.3" stop-color="#fd0200"/><stop offset="0.3093" stop-color="#e41600"/><stop offset="0.3326" stop-color="#827800"/><stop offset="0.3465" stop-color="#629800"/><stop offset="0.3721" stop-color="#52a800"/><stop offset="0.4349" stop-color="#4dad00"/><stop offset="0.4628" stop-color="#2cce00"/><stop offset="0.4884" stop-color="#04fb00"/><stop offset="0.4977" stop-color="#04fa00"/><stop offset="0.5302" stop-color="#2bcf00"/><stop offset="0.5581" stop-color="#3dbd00"/><stop offset="0.6047" stop-color="#2ecc00"/><stop offset="0.6395" stop-color="#00ff01"/><stop offset="0.7209" stop-color="#00ff1e"/><stop offset="0.7442" stop-color="#00ff44"/><stop offset="0.786" stop-color="#00ffdb"/><stop offset="0.7977" stop-color="#00fff5"/><stop offset="0.8279" stop-color="#00feff"/><stop offset="0.9209" stop-color="#00fffb"/><stop offset="1" stop-color="#00fffb"/></linearGradient>
<linearGradient id="c22" x1="0" y1="0" x2="0" y2="1"><stop offset="0" stop-color="#40ba00"/><stop offset="0.09302" stop-color="#40ba00"/><stop offset="0.1116" stop-color="#4eac00"/><stop offset="0.1302" stop-color="#6e8c00"/><stop offset="0.1419" stop-color="#a45600"/><stop offset="0.1535" stop-color="#dc1e00"/><stop offset="0.1651" stop-color="#fc0200"/><stop offset="0.1791" stop-color="#ff0d00"/><stop offset="0.1837" stop-color="#ff1c00"/><stop offset="0.2" stop-color="#ff8b00"/><stop offset="0.207" stop-color="#ffa900"/><stop offset="0.2186" stop-color="#ffb600"/><stop offset="0.2488" stop-color="#ffb300"/><stop offset="0.2558" stop-color="#ff9f00"/><stop offset="0.2767" stop-color="#ff1f00"/><stop offset="0.2907" stop-color="#ff0300"/><stop offset="0.3023" stop-color="#f90400"/><stop offset="0.3116" stop-color="#da2000"/><stop offset="0.3326" stop-color="#817900"/><stop offset="0.3465" stop-color="#639700"/><stop offset="0.3721" stop-color="#54a600"/><stop offset="0.4349" stop-color="#4dad00"/><stop offset="0.4628" stop-color="#2ad000"/><stop offset="0.4884" stop-color="#01fe00"/><stop offset="0.5047" stop-color="#04fa00"/><stop offset="0.5465" stop-color="#39c100"/><stop offset="0.5674" stop-color="#3ebc00"/><stop offset="0.6047" stop-color="#31c900"/><stop offset="0.6395" stop-color="#00ff01"/><stop offset="0.7186" stop-color="#00ff1c"/><stop offset="0.7442" stop-color="#00ff44"/><stop offset="0.786" stop-color="#00ffda"/><stop offset="0.8" stop-color="#00fff7"/><stop offset="0.8256" stop-color="#00fdff"/><stop offset="0.9186" stop-color="#00fffc"/><stop offset="1" stop-color="#00fffc"/></linearGradient>
<linearGradient id="c23" x1="0" y1="0" x2="0" y2="1"><stop offset="0" stop-color="#3ebc00"/><stop offset="0.09302" stop-color="#3ebc00"/><stop offset="0.1093" stop-color="#48b200"/><stop offset="0.1326" stop-color="#6f8b00"/><stop offset="0.1419" stop-color="#976300"/><stop offset="0.1535" stop-color="#d32700"/><stop offset="0.1651" stop-color="#f70600"/><stop offset="0.1721" stop-color="#ff0300"/><stop offset="0.1814" stop-color="#ff0d00"/><stop offset="0.186" stop-color="#ff1c00"/><stop offset="0.2023" stop-color="#ff8c00"/><stop offset="0.2093" stop-color="#ffa900"/><stop offset="0.2233" stop-color="#ffb300"/><stop offset="0.2512" stop-color="#ffae00"/><stop offset="0.2581" stop-color="#ff9400"/><stop offset="0.2767" stop-color="#ff2200"/><stop offset="0.2907" stop-color="#ff0400"/><stop offset="0.3023" stop-color="#fa0400"/><stop offset="0.3116" stop-color="#dc1e00"/><stop offset="0.3326" stop-color="#867400"/><stop offset="0.3442" stop-color="#6b8f00"/><stop offset="0.3698" stop-color="#59a100"/><stop offset="0.4349" stop-color="#4eac00"/><stop offset="0.4605" stop-color="#2fcb00"/><stop offset="0.4884" stop-color="#01fe00"/><stop offset="0.507" stop-color="#03fb00"/><stop offset="0.5465" stop-color="#3bbf00"/><stop offset="0.5651" stop-color="#41b900"/><stop offset="0.607" stop-color="#31c900"/><stop offset="0.6419" stop-color="#00ff01"/><stop offset="0.7209" stop-color="#00ff1e"/><stop offset="0.7465" stop-color="#00ff48"/><stop offset="0.7884" stop-color="#00ffe0"/><stop offset="0.8" stop-color="#00fff8"/><stop offset="0.8209" stop-color="#00faff"/><stop offset="0.914" stop-color="#00fffd"/><stop offset="1" stop-color="#00fffd"/></linearGradient>
<linearGradient id="c24" x1="0" y1="0" x2="0" y2="1"><stop offset="0" stop-color="#3bbf00"/><stop offset="0.09302" stop-color="#39c100"/><stop offset="0.1093" stop-color="#45b500"/><stop offset="0.1349" stop-color="#6c8e00"/><stop offset="0.1442" stop-color="#926800"/><stop offset="0.1558" stop-color="#cd2d00"/><stop offset="0.1651" stop-color="#eb0f00"/><stop offset="0.1744" stop-color="#ff0100"/><stop offset="0.1837" stop-color="#ff1000"/><stop offset="0.1884" stop-color="#ff2000"/><stop offset="0.2023" stop-color="#ff8300"/><stop offset="0.2093" stop-color="#ffa400"/><stop offset="0.2209" stop-color="#ffaf00"/><stop offset="0.2512" stop-color="#ffaa00"/><stop offset="0.2581" stop-color="#ff9000"/><stop offset="0.2767" stop-color="#ff2200"/><stop offset="0.2907" stop-color="#ff0400"/><stop offset="0.3023" stop-color="#fb0300"/><stop offset="0.3116" stop-color="#dd1d00"/><stop offset="0.3326" stop-color="#8b6f00"/><stop offset="0.3442" stop-color="#728800"/><stop offset="0.3721" stop-color="#5f9b00"/><stop offset="0.4372" stop-color="#50aa00"/><stop offset="0.4605" stop-color="#37c300"/><stop offset="0.4884" stop-color="#03fc00"/><stop offset="0.5047" stop-color="#02fc00"/><stop offset="0.5465" stop-color="#3dbd00"/><stop offset="0.5651" stop-color="#43b700"/><stop offset="0.607" stop-color="#35c500"/><stop offset="0.6442" stop-color="#00ff00"/><stop offset="0.7209" stop-color="#00ff1c"/><stop offset="0.7465" stop-color="#00ff43"/><stop offset="0.7907" stop-color="#00ffe4"/><stop offset="0.8023" stop-color="#00fffd"/><stop offset="0.8326" stop-color="#00f4ff"/><stop offset="0.886" stop-color="#00ffff"/><stop offset="0.9791" stop-color="#00ffff"/><stop offset="1" stop-color="#00ffff"/></linearGradient>
<linearGradient id="c25" x1="0" y1="0" x2="0" y2="1"><stop offset="0" stop-color="#36c400"/><stop offset="0.07209" stop-color="#31c900"/><stop offset="0.1" stop-color="#2bcf00"/><stop offset="0.1326" stop-color="#5d9d00"/><stop offset="0.1442" stop-color="#7b7f00"/><stop offset="0.1628" stop-color="#d02a00"/><stop offset="0.1767" stop-color="#fc0300"/><stop offset="0.1837" stop-color="#ff0e00"/><stop offset="0.1884" stop-color="#ff1e00"/><stop offset="0.2047" stop-color="#ff8c00"/><stop offset="0.2116" stop-color="#ffa500"/><stop offset="0.2326" stop-color="#ffac00"/><stop offset="0.2512" stop-color="#ffa600"/><stop offset="0.2581" stop-color="#ff8a00"/><stop offset="0.2767" stop-color="#ff2000"/><stop offset="0.2907" stop-color="#ff0300"/><stop offset="0.3023" stop-color="#fa0400"/><stop offset="0.3116" stop-color="#dc1e00"/><stop offset="0.3326" stop-color="#926800"/><stop offset="0.3465" stop-color="#788200"/><stop offset="0.386" stop-color="#699100"/><stop offset="0.4512" stop-color="#50aa00"/><stop offset="0.4674" stop-color="#3cbe00"/><stop offset="0.4907" stop-color="#08f600"/><stop offset="0.5023" stop-color="#07f600"/><stop offset="0.5465" stop-color="#3fbb00"/><stop offset="0.5674" stop-color="#44b600"/><stop offset="0.6093" stop-color="#36c400"/><stop offset="0.6488" stop-color="#00ff00"/><stop offset="0.7233" stop-color="#00ff1c"/><stop offset="0.7488" stop-color="#00ff46"/><stop offset="0.7907" stop-color="#00ffe1"/><stop offset="0.8023" stop-color="#00fffd"/><stop offset="0.8279" stop-color="#00f0ff"/><stop offset="0.8558" stop-color="#00f6ff"/><stop offset="0.8791" stop-color="#00fffe"/><stop offset="0.9721" stop-color="#00fffe"/><stop offset="1" stop-color="#00fffe"/></linearGradient>
<linearGradient id="c26" x1="0" y1="0" x2="0" y2="1"><stop offset="0" stop-color="#31c900"/><stop offset="0.05814" stop-color="#2dcd00"/><stop offset="0.0907" stop-color="#0fed00"/><stop offset="0.107" stop-color="#14e700"/><stop offset="0.1209" stop-color="#34c600"/><stop offset="0.1349" stop-color="#55a500"/><stop offset="0.1488" stop-color="#718900"/><stop offset="0.1605" stop-color="#a35700"/><stop offset="0.1744" stop-color="#e91100"/><stop offset="0.1791" stop-color="#fc0300"/><stop offset="0.186" stop-color="#ff1200"/><stop offset="0.1907" stop-color="#ff2600"/><stop offset="0.2023" stop-color="#ff7800"/><stop offset="0.2093" stop-color="#ff9900"/><stop offset="0.2186" stop-color="#ffa900"/><stop offset="0.2488" stop-color="#ffa700"/><stop offset="0.2558" stop-color="#ff9300"/><stop offset="0.2767" stop-color="#ff2000"/><stop offset="0.2907" stop-color="#ff0300"/><stop offset="0.3023" stop-color="#f90500"/><stop offset="0.314" stop-color="#d22800"/><stop offset="0.3326" stop-color="#9a6000"/><stop offset="0.3512" stop-color="#807a00"/><stop offset="0.4186" stop-color="#708a00"/><stop offset="0.4651" stop-color="#51a900"/><stop offset="0.493" stop-color="#13e800"/><stop offset="0.5047" stop-color="#15e600"/><stop offset="0.5488" stop-color="#43b700"/><stop offset="0.5884" stop-color="#43b700"/><stop offset="0.614" stop-color="#34c600"/><stop offset="0.6535" stop-color="#01fd00"/><stop offset="0.7256" stop-color="#00ff1c"/><stop offset="0.7512" stop-color="#00ff48"/><stop offset="0.793" stop-color="#00ffe4"/><stop offset="0.8047" stop-color="#00ffff"/><stop offset="0.8233" stop-color="#00ecff"/><stop offset="0.8581" stop-color="#00f0ff"/><stop offset="0.8767" stop-color="#00fffe"/><stop offset="0.9698" stop-color="#00fffd"/><stop offset="1" stop-color="#00fffd"/></linearGradient>
<linearGradient id="c27" x1="0" y1="0" x2="0" y2="1"><stop offset="0" stop-color="#2fcb00"/><stop offset="0.05814" stop-color="#2bcf00"/><stop offset="0.08605" stop-color="#03fc00"/><stop offset="0.1093" stop-color="#03fc00"/><stop offset="0.1163" stop-color="#11eb00"/><stop offset="0.1326" stop-color="#46b400"/><stop offset="0.1535" stop-color="#6d8d00"/><stop offset="0.1628" stop-color="#996100"/><stop offset="0.1744" stop-color="#e31700"/><stop offset="0.1814" stop-color="#ff0100"/><stop offset="0.1907" stop-color="#ff2000"/><stop offset="0.2023" stop-color="#ff7300"/><stop offset="0.2116" stop-color="#ff9d00"/><stop offset="0.2233" stop-color="#ffa900"/><stop offset="0.2488" stop-color="#ffa600"/><stop offset="0.2558" stop-color="#ff9100"/><stop offset="0.2767" stop-color="#ff2000"/><stop offset="0.2907" stop-color="#ff0300"/><stop offset="0.3" stop-color="#fb0300"/><stop offset="0.3116" stop-color="#db1f00"/><stop offset="0.3302" stop-color="#a75300"/><stop offset="0.3535" stop-color="#906a00"/><stop offset="0.414" stop-color="#8b6f00"/><stop offset="0.4744" stop-color="#4eac00"/><stop offset="0.4953" stop-color="#27d300"/><stop offset="0.5581" stop-color="#4dad00"/><stop offset="0.607" stop-color="#42b800"/><stop offset="0.6605" stop-color="#00ff00"/><stop offset="0.7279" stop-color="#00ff1c"/><stop offset="0.7512" stop-color="#00ff44"/><stop offset="0.7884" stop-color="#00ffd5"/><stop offset="0.8047" stop-color="#00fdff"/><stop offset="0.8233" stop-color="#00e1ff"/><stop offset="0.8581" stop-color="#00e3ff"/><stop offset="0.8837" stop-color="#00fffd"/><stop offset="0.9767" stop-color="#00fffc"/><stop offset="1" stop-color="#00fffc"/></linearGradient>
<linearGradient id="c28" x1="0" y1="0" x2="0" y2="1"><stop offset="0" stop-color="#2dcd00"/><stop offset="0.06279" stop-color="#2ad000"/><stop offset="0.07442" stop-color="#16e500"/><stop offset="0.08605" stop-color="#00ff00"/><stop offset="0.1163" stop-color="#03fb00"/><stop offset="0.1372" stop-color="#47b300"/><stop offset="0.1558" stop-color="#6a9000"/><stop offset="0.1628" stop-color="#877300"/><stop offset="0.1767" stop-color="#e31700"/><stop offset="0.1837" stop-color="#ff0200"/><stop offset="0.193" stop-color="#ff2500"/><stop offset="0.2047" stop-color="#ff7700"/><stop offset="0.2116" stop-color="#ff9900"/><stop offset="0.2209" stop-color="#ffaa00"/><stop offset="0.2488" stop-color="#ffa800"/><stop offset="0.2558" stop-color="#ff9500"/><stop offset="0.2791" stop-color="#ff1b00"/><stop offset="0.2907" stop-color="#ff0400"/><stop offset="0.3" stop-color="#fb0300"/><stop offset="0.3279" stop-color="#b14900"/><stop offset="0.3535" stop-color="#a05a00"/><stop offset="0.4116" stop-color="#a65400"/><stop offset="0.5023" stop-color="#3cbe00"/><stop offset="0.5674" stop-color="#58a200"/><stop offset="0.614" stop-color="#46b400"/><stop offset="0.6442" stop-color="#1bdf00"/><stop offset="0.6628" stop-color="#00ff00"/><stop offset="0.7302" stop-color="#00ff1b"/><stop offset="0.7535" stop-color="#00ff44"/><stop offset="0.7884" stop-color="#00ffd7"/><stop offset="0.8047" stop-color="#00fcff"/><stop offset="0.8256" stop-color="#00d0ff"/><stop offset="0.8558" stop-color="#00cbff"/><stop offset="0.8767" stop-color="#00e6ff"/><stop offset="0.893" stop-color="#00fffe"/><stop offset="0.986" stop-color="#00fffb"/><stop offset="1" stop-color="#00fffb"/></linearGradient>
<linearGradient id="c29" x1="0" y1="0" x2="0" y2="1"><stop offset="0" stop-color="#21d900"/><stop offset="0.06977" stop-color="#1edc00"/><stop offset="0.08837" stop-color="#00ff01"/><stop offset="0.1209" stop-color="#02fd00"/><stop offset="0.1442" stop-color="#4ab000"/><stop offset="0.1605" stop-color="#6d8d00"/><stop offset="0.1674" stop-color="#8f6b00"/><stop offset="0.1791" stop-color="#e11900"/><stop offset="0.186" stop-color="#ff0200"/><stop offset="0.1953" stop-color="#ff2800"/><stop offset="0.207" stop-color="#ff7a00"/><stop offset="0.214" stop-color="#ff9a00"/><stop offset="0.2233" stop-color="#ffaa00"/><stop offset="0.2488" stop-color="#ffa900"/><stop offset="0.2558" stop-color="#ff9800"/><stop offset="0.2791" stop-color="#ff1e00"/><stop offset="0.293" stop-color="#ff0200"/><stop offset="0.3023" stop-color="#f50700"/><stop offset="0.3256" stop-color="#b94100"/><stop offset="0.3419" stop-color="#ad4d00"/><stop offset="0.414" stop-color="#b74300"/><stop offset="0.4395" stop-color="#996100"/><stop offset="0.4814" stop-color="#5b9f00"/><stop offset="0.507" stop-color="#48b200"/><stop offset="0.5744" stop-color="#639700"/><stop offset="0.6209" stop-color="#4baf00"/><stop offset="0.6488" stop-color="#20da00"/><stop offset="0.6674" stop-color="#00ff00"/><stop offset="0.7349" stop-color="#00ff1c"/><stop offset="0.7558" stop-color="#00ff43"/><stop offset="0.793" stop-color="#00ffe3"/><stop offset="0.8023" stop-color="#00ffff"/><stop offset="0.8279" stop-color="#00c4ff"/><stop offset="0.8419" stop-color="#00b8ff"/><stop offset="0.8651" stop-color="#00beff"/><stop offset="0.9" stop-color="#00ffff"/><stop offset="0.993" stop-color="#00fffb"/><stop offset="1" stop-color="#00fffb"/></linearGradient>
<linearGradient id="c30" x1="0" y1="0" x2="0" y2="1"><stop offset="0" stop-color="#09f400"/><stop offset="0.07442" stop-color="#07f600"/><stop offset="0.0907" stop-color="#00ff03"/><stop offset="0.1279" stop-color="#02fd00"/><stop offset="0.1442" stop-color="#2ecc00"/><stop offset="0.1535" stop-color="#4fab00"/><stop offset="0.1651" stop-color="#708a00"/><stop offset="0.1721" stop-color="#966400"/><stop offset="0.1814" stop-color="#e01a00"/><stop offset="0.186" stop-color="#f80500"/><stop offset="0.1884" stop-color="#ff0400"/><stop offset="0.1953" stop-color="#ff1e00"/><stop offset="0.207" stop-color="#ff7100"/><stop offset="0.2163" stop-color="#ff9a00"/><stop offset="0.2279" stop-color="#ffa700"/><stop offset="0.2512" stop-color="#ffa200"/><stop offset="0.2581" stop-color="#ff8c00"/><stop offset="0.2791" stop-color="#ff1f00"/><stop offset="0.293" stop-color="#ff0300"/><stop offset="0.3" stop-color="#f80500"/><stop offset="0.3256" stop-color="#ba4000"/><stop offset="0.3442" stop-color="#b14900"/><stop offset="0.414" stop-color="#c13900"/><stop offset="0.4395" stop-color="#a85200"/><stop offset="0.486" stop-color="#5b9f00"/><stop offset="0.5047" stop-color="#48b200"/><stop offset="0.5767" stop-color="#788200"/><stop offset="0.6349" stop-color="#48b200"/><stop offset="0.6744" stop-color="#01fe00"/><stop offset="0.7372" stop-color="#00ff1b"/><stop offset="0.7581" stop-color="#00ff43"/><stop offset="0.793" stop-color="#00ffdc"/><stop offset="0.8023" stop-color="#00fffc"/><stop offset="0.8256" stop-color="#00c2ff"/><stop offset="0.8419" stop-color="#00aeff"/><stop offset="0.8674" stop-color="#00b2ff"/><stop offset="0.9047" stop-color="#00ffff"/><stop offset="0.9977" stop-color="#00fffb"/><stop offset="1" stop-color="#00fffb"/></linearGradient>
<linearGradient id="c31" x1="0" y1="0" x2="0" y2="1"><stop offset="0" stop-color="#00ff03"/><stop offset="0.09302" stop-color="#00ff04"/><stop offset="0.1372" stop-color="#02fc00"/><stop offset="0.1581" stop-color="#53a700"/><stop offset="0.1698" stop-color="#7a8000"/><stop offset="0.1767" stop-color="#ac4e00"/><stop offset="0.1814" stop-color="#d72300"/><stop offset="0.186" stop-color="#f40900"/><stop offset="0.1884" stop-color="#ff0100"/><stop offset="0.1953" stop-color="#ff1c00"/><stop offset="0.207" stop-color="#ff7000"/><stop offset="0.2163" stop-color="#ff9900"/><stop offset="0.2279" stop-color="#ffa700"/><stop offset="0.2512" stop-color="#ffa300"/><stop offset="0.2581" stop-color="#ff8d00"/><stop offset="0.2791" stop-color="#ff2100"/><stop offset="0.293" stop-color="#ff0300"/><stop offset="0.3" stop-color="#fa0400"/><stop offset="0.3209" stop-color="#c13900"/><stop offset="0.3326" stop-color="#b34700"/><stop offset="0.4116" stop-color="#c53500"/><stop offset="0.4326" stop-color="#b74300"/><stop offset="0.4651" stop-color="#877300"/><stop offset="0.5047" stop-color="#42b800"/><stop offset="0.5209" stop-color="#4eac00"/><stop offset="0.5814" stop-color="#8b6f00"/><stop offset="0.6465" stop-color="#42b800"/><stop offset="0.6767" stop-color="#05f800"/><stop offset="0.6884" stop-color="#00ff03"/><stop offset="0.7419" stop-color="#00ff1e"/><stop offset="0.7605" stop-color="#00ff45"/><stop offset="0.7977" stop-color="#00ffe8"/><stop offset="0.8047" stop-color="#00feff"/><stop offset="0.8279" stop-color="#00b6ff"/><stop offset="0.8395" stop-color="#00a8ff"/><stop offset="0.8698" stop-color="#00a9ff"/><stop offset="0.8884" stop-color="#00ceff"/><stop offset="0.9047" stop-color="#00faff"/><stop offset="0.9302" stop-color="#00fffc"/><stop offset="1" stop-color="#00fffc"/></linearGradient>
<linearGradient id="c32" x1="0" y1="0" x2="0" y2="1"><stop offset="0" stop-color="#00ff05"/><stop offset="0.09302" stop-color="#00ff03"/><stop offset="0.1372" stop-color="#00ff02"/><stop offset="0.1419" stop-color="#0af300"/><stop offset="0.1581" stop-color="#4fab00"/><stop offset="0.1698" stop-color="#738700"/><stop offset="0.1767" stop-color="#a35700"/><stop offset="0.1837" stop-color="#e31700"/><stop offset="0.1884" stop-color="#fe0100"/><stop offset="0.1953" stop-color="#ff1d00"/><stop offset="0.2093" stop-color="#ff8800"/><stop offset="0.2163" stop-color="#ffa700"/><stop offset="0.2302" stop-color="#ffb100"/><stop offset="0.2535" stop-color="#ffad00"/><stop offset="0.2605" stop-color="#ff9800"/><stop offset="0.2814" stop-color="#ff2300"/><stop offset="0.293" stop-color="#ff0600"/><stop offset="0.3023" stop-color="#fa0400"/><stop offset="0.3233" stop-color="#bf3b00"/><stop offset="0.3349" stop-color="#b34700"/><stop offset="0.4116" stop-color="#c23800"/><stop offset="0.4465" stop-color="#a35700"/><stop offset="0.4814" stop-color="#6d8d00"/><stop offset="0.507" stop-color="#3ebc00"/><stop offset="0.5186" stop-color="#45b500"/><stop offset="0.5837" stop-color="#897100"/><stop offset="0.6465" stop-color="#48b200"/><stop offset="0.6837" stop-color="#01fd00"/><stop offset="0.7419" stop-color="#00ff1a"/><stop offset="0.7628" stop-color="#00ff46"/><stop offset="0.7977" stop-color="#00ffe2"/><stop offset="0.807" stop-color="#00faff"/><stop offset="0.8302" stop-color="#00afff"/><stop offset="0.8419" stop-color="#00a2ff"/><stop offset="0.8744" stop-color="#00a5ff"/><stop offset="0.8907" stop-color="#00c6ff"/><stop offset="0.9093" stop-color="#00fbff"/><stop offset="0.9651" stop-color="#00fffd"/><stop offset="1" stop-color="#00fffd"/></linearGradient>
<linearGradient id="c33" x1="0" y1="0" x2="0" y2="1"><stop offset="0" stop-color="#00ff06"/><stop offset="0.07907" stop-color="#04fb00"/><stop offset="0.1372" stop-color="#00ff03"/><stop offset="0.1395" stop-color="#00ff00"/><stop offset="0.1581" stop-color="#4dad00"/><stop offset="0.1698" stop-color="#6f8b00"/><stop offset="0.1767" stop-color="#9c5e00"/><stop offset="0.1837" stop-color="#e01a00"/><stop offset="0.1884" stop-color="#fc0200"/><stop offset="0.1953" stop-color="#ff1d00"/><stop offset="0.2093" stop-color="#ff9600"/><stop offset="0.214" stop-color="#ffb000"/><stop offset="0.2233" stop-color="#ffbe00"/><stop offset="0.2558" stop-color="#ffba00"/><stop offset="0.2628" stop-color="#ffa500"/><stop offset="0.2837" stop-color="#ff2700"/><stop offset="0.2953" stop-color="#ff0600"/><stop offset="0.3047" stop-color="#fa0400"/><stop offset="0.3279" stop-color="#ba4000"/><stop offset="0.3419" stop-color="#b34700"/><stop offset="0.414" stop-color="#ba4000"/><stop offset="0.4791" stop-color="#748600"/><stop offset="0.507" stop-color="#3ac000"/><stop offset="0.5209" stop-color="#45b500"/><stop offset="0.5814" stop-color="#7c7e00"/><stop offset="0.6023" stop-color="#738700"/><stop offset="0.6512" stop-color="#42b800"/><stop offset="0.686" stop-color="#00ff00"/><stop offset="0.7442" stop-color="#00ff1c"/><stop offset="0.7628" stop-color="#00ff43"/><stop offset="0.8" stop-color="#00ffe8"/><stop offset="0.807" stop-color="#00fcff"/><stop offset="0.8279" stop-color="#00b4ff"/><stop offset="0.8372" stop-color="#00a0ff"/><stop offset="0.8767" stop-color="#00a1ff"/><stop offset="0.8907" stop-color="#00baff"/><stop offset="0.9116" stop-color="#00f8ff"/><stop offset="0.9698" stop-color="#00fdff"/><stop offset="1" stop-color="#00fdff"/></linearGradient>
<linearGradient id="c34" x1="0" y1="0" x2="0" y2="1"><stop offset="0" stop-color="#00ff07"/><stop offset="0.05814" stop-color="#00ff02"/><stop offset="0.07674" stop-color="#09f400"/><stop offset="0.09767" stop-color="#00ff02"/><stop offset="0.1395" stop-color="#00ff03"/><stop offset="0.1419" stop-color="#00ff00"/><stop offset="0.1605" stop-color="#4eac00"/><stop offset="0.1721" stop-color="#718900"/><stop offset="0.1767" stop-color="#8c6e00"/><stop offset="0.186" stop-color="#e51500"/><stop offset="0.1907" stop-color="#ff0200"/><stop offset="0.1977" stop-color="#ff2900"/><stop offset="0.2116" stop-color="#ffaa00"/><stop offset="0.2186" stop-color="#ffc400"/><stop offset="0.2465" stop-color="#ffcc00"/><stop offset="0.2581" stop-color="#ffc600"/><stop offset="0.2651" stop-color="#ffb000"/><stop offset="0.2884" stop-color="#ff1f00"/><stop offset="0.3" stop-color="#ff0400"/><stop offset="0.307" stop-color="#fb0300"/><stop offset="0.3326" stop-color="#b94100"/><stop offset="0.3581" stop-color="#b14900"/><stop offset="0.4163" stop-color="#b14900"/><stop offset="0.4884" stop-color="#689200"/><stop offset="0.507" stop-color="#39c100"/><stop offset="0.5186" stop-color="#40ba00"/><stop offset="0.5791" stop-color="#738700"/><stop offset="0.6" stop-color="#708a00"/><stop offset="0.6488" stop-color="#44b600"/><stop offset="0.686" stop-color="#01fe00"/><stop offset="0.7442" stop-color="#00ff1c"/><stop offset="0.7628" stop-color="#00ff41"/><stop offset="0.8" stop-color="#00ffe6"/><stop offset="0.807" stop-color="#00feff"/><stop offset="0.8256" stop-color="#00b9ff"/><stop offset="0.8372" stop-color="#009dff"/><stop offset="0.8791" stop-color="#009eff"/><stop offset="0.893" stop-color="#00b9ff"/><stop offset="0.9116" stop-color="#00efff"/><stop offset="0.9744" stop-color="#00f4ff"/><stop offset="1" stop-color="#00f4ff"/></linearGradient>
<linearGradient id="c35" x1="0" y1="0" x2="0" y2="1"><stop offset="0" stop-color="#00ff07"/><stop offset="0.08605" stop-color="#04fa00"/><stop offset="0.1419" stop-color="#00ff03"/><stop offset="0.1465" stop-color="#06f800"/><stop offset="0.1628" stop-color="#4cae00"/><stop offset="0.1744" stop-color="#6f8b00"/><stop offset="0.1791" stop-color="#8c6e00"/><stop offset="0.186" stop-color="#d32700"/><stop offset="0.1907" stop-color="#f50800"/><stop offset="0.193" stop-color="#ff0400"/><stop offset="0.1977" stop-color="#ff1c00"/><stop offset="0.2116" stop-color="#ffa800"/><stop offset="0.2186" stop-color="#ffc900"/><stop offset="0.2326" stop-color="#ffd500"/><stop offset="0.2558" stop-color="#ffd400"/><stop offset="0.2651" stop-color="#ffc200"/><stop offset="0.2721" stop-color="#ff9d00"/><stop offset="0.2907" stop-color="#ff2300"/><stop offset="0.3023" stop-color="#ff0400"/><stop offset="0.3116" stop-color="#fa0400"/><stop offset="0.3349" stop-color="#bb3f00"/><stop offset="0.3535" stop-color="#ad4d00"/><stop offset="0.4163" stop-color="#a85200"/><stop offset="0.4698" stop-color="#7b7f00"/><stop offset="0.4907" stop-color="#699100"/><stop offset="0.507" stop-color="#3bbf00"/><stop offset="0.5186" stop-color="#40ba00"/><stop offset="0.5791" stop-color="#6d8d00"/><stop offset="0.6023" stop-color="#6a9000"/><stop offset="0.6488" stop-color="#44b600"/><stop offset="0.686" stop-color="#03fc00"/><stop offset="0.7465" stop-color="#00ff1c"/><stop offset="0.7651" stop-color="#00ff43"/><stop offset="0.8023" stop-color="#00ffe8"/><stop offset="0.8093" stop-color="#00fbff"/><stop offset="0.8279" stop-color="#00b3ff"/><stop offset="0.8395" stop-color="#009aff"/><stop offset="0.8814" stop-color="#009bff"/><stop offset="0.8977" stop-color="#00bbff"/><stop offset="0.914" stop-color="#00e4ff"/><stop offset="1" stop-color="#00e7ff"/></linearGradient>
<linearGradient id="c36" x1="0" y1="0" x2="0" y2="1"><stop offset="0" stop-color="#00ff09"/><stop offset="0.09302" stop-color="#00ff03"/><stop offset="0.1465" stop-color="#00ff04"/><stop offset="0.1512" stop-color="#06f800"/><stop offset="0.1651" stop-color="#46b400"/><stop offset="0.1791" stop-color="#758500"/><stop offset="0.1837" stop-color="#976300"/><stop offset="0.1907" stop-color="#e11900"/><stop offset="0.1953" stop-color="#ff0100"/><stop offset="0.2" stop-color="#ff1a00"/><stop offset="0.214" stop-color="#ffa800"/><stop offset="0.2209" stop-color="#ffcc00"/><stop offset="0.2326" stop-color="#ffda00"/><stop offset="0.2558" stop-color="#ffdc00"/><stop offset="0.2674" stop-color="#ffcb00"/><stop offset="0.2744" stop-color="#ffab00"/><stop offset="0.293" stop-color="#ff2d00"/><stop offset="0.2977" stop-color="#ff1700"/><stop offset="0.307" stop-color="#ff0300"/><stop offset="0.3163" stop-color="#fb0300"/><stop offset="0.3395" stop-color="#ba4000"/><stop offset="0.3628" stop-color="#a75300"/><stop offset="0.4163" stop-color="#a25800"/><stop offset="0.4651" stop-color="#7b7f00"/><stop offset="0.493" stop-color="#6a9000"/><stop offset="0.5093" stop-color="#3ebc00"/><stop offset="0.586" stop-color="#6e8c00"/><stop offset="0.607" stop-color="#6a9000"/><stop offset="0.6535" stop-color="#42b800"/><stop offset="0.6884" stop-color="#03fb00"/><stop offset="0.7488" stop-color="#00ff1d"/><stop offset="0.7674" stop-color="#00ff44"/><stop offset="0.8047" stop-color="#00ffea"/><stop offset="0.8093" stop-color="#00fffb"/><stop offset="0.8326" stop-color="#00a7ff"/><stop offset="0.8419" stop-color="#0096ff"/><stop offset="0.8837" stop-color="#0097ff"/><stop offset="0.9" stop-color="#00b5ff"/><stop offset="0.9163" stop-color="#00d8ff"/><stop offset="1" stop-color="#00ddff"/></linearGradient>
<linearGradient id="c37" x1="0" y1="0" x2="0" y2="1"><stop offset="0" stop-color="#00ff0d"/><stop offset="0.09302" stop-color="#00ff0a"/><stop offset="0.1488" stop-color="#00ff09"/><stop offset="0.1535" stop-color="#00ff02"/><stop offset="0.1651" stop-color="#33c700"/><stop offset="0.1721" stop-color="#53a700"/><stop offset="0.1814" stop-color="#738700"/><stop offset="0.186" stop-color="#966400"/><stop offset="0.193" stop-color="#e21800"/><stop offset="0.1977" stop-color="#ff0300"/><stop offset="0.2023" stop-color="#ff1c00"/><stop offset="0.2163" stop-color="#ffab00"/><stop offset="0.2233" stop-color="#ffce00"/><stop offset="0.2349" stop-color="#ffdd00"/><stop offset="0.2581" stop-color="#ffdf00"/><stop offset="0.2698" stop-color="#ffcf00"/><stop offset="0.2767" stop-color="#ffae00"/><stop offset="0.2977" stop-color="#ff2100"/><stop offset="0.3093" stop-color="#ff0400"/><stop offset="0.3186" stop-color="#fb0300"/><stop offset="0.3419" stop-color="#ba4000"/><stop offset="0.3651" stop-color="#a45600"/><stop offset="0.4163" stop-color="#9e5c00"/><stop offset="0.4628" stop-color="#7a8000"/><stop offset="0.493" stop-color="#6a9000"/><stop offset="0.507" stop-color="#48b200"/><stop offset="0.5279" stop-color="#4eac00"/><stop offset="0.5907" stop-color="#778300"/><stop offset="0.614" stop-color="#6d8d00"/><stop offset="0.6581" stop-color="#41b900"/><stop offset="0.6907" stop-color="#02fc00"/><stop offset="0.7488" stop-color="#00ff1b"/><stop offset="0.7674" stop-color="#00ff40"/><stop offset="0.8047" stop-color="#00ffe6"/><stop offset="0.8116" stop-color="#00fdff"/><stop offset="0.8279" stop-color="#00b5ff"/><stop offset="0.8395" stop-color="#0095ff"/><stop offset="0.8837" stop-color="#0092ff"/><stop offset="0.9023" stop-color="#00aeff"/><stop offset="0.9186" stop-color="#00cfff"/><stop offset="0.9465" stop-color="#00d6ff"/><stop offset="1" stop-color="#00d6ff"/></linearGradient>
<linearGradient id="c38" x1="0" y1="0" x2="0" y2="1"><stop offset="0" stop-color="#00ff13"/><stop offset="0.09302" stop-color="#00ff12"/><stop offset="0.1512" stop-color="#00ff0f"/><stop offset="0.1581" stop-color="#00ff03"/><stop offset="0.1605" stop-color="#05f900"/><stop offset="0.1721" stop-color="#44b600"/><stop offset="0.1837" stop-color="#708a00"/><stop offset="0.1884" stop-color="#926800"/><stop offset="0.1953" stop-color="#df1b00"/><stop offset="0.2" stop-color="#ff0100"/><stop offset="0.2047" stop-color="#ff1b00"/><stop offset="0.2186" stop-color="#ffa700"/><stop offset="0.2256" stop-color="#ffcf00"/><stop offset="0.2349" stop-color="#ffdf00"/><stop offset="0.2581" stop-color="#ffe300"/><stop offset="0.2698" stop-color="#ffd800"/><stop offset="0.2767" stop-color="#ffbd00"/><stop offset="0.3" stop-color="#ff2000"/><stop offset="0.3093" stop-color="#ff0600"/><stop offset="0.3209" stop-color="#fc0300"/><stop offset="0.3442" stop-color="#ba4000"/><stop offset="0.3651" stop-color="#a15900"/><stop offset="0.4163" stop-color="#9a6000"/><stop offset="0.4605" stop-color="#788200"/><stop offset="0.4907" stop-color="#6c8e00"/><stop offset="0.507" stop-color="#4dad00"/><stop offset="0.5512" stop-color="#619900"/><stop offset="0.5907" stop-color="#817900"/><stop offset="0.6116" stop-color="#778300"/><stop offset="0.6628" stop-color="#42b800"/><stop offset="0.6953" stop-color="#00ff00"/><stop offset="0.7512" stop-color="#00ff1d"/><stop offset="0.7698" stop-color="#00ff44"/><stop offset="0.8093" stop-color="#00fff3"/><stop offset="0.8116" stop-color="#00fffc"/><stop offset="0.8326" stop-color="#00a6ff"/><stop offset="0.8419" stop-color="#0091ff"/><stop offset="0.8884" stop-color="#0092ff"/><stop offset="0.9093" stop-color="#00b2ff"/><stop offset="0.9256" stop-color="#00ceff"/><stop offset="1" stop-color="#00d1ff"/></linearGradient>
<linearGradient id="c39" x1="0" y1="0" x2="0" y2="1"><stop offset="0" stop-color="#00ff1e"/><stop offset="0.09302" stop-color="#00ff1e"/><stop offset="0.1512" stop-color="#00ff1a"/><stop offset="0.1628" stop-color="#00ff03"/><stop offset="0.1651" stop-color="#07f700"/><stop offset="0.1767" stop-color="#47b300"/><stop offset="0.1884" stop-color="#798100"/><stop offset="0.193" stop-color="#a35700"/><stop offset="0.1977" stop-color="#d82200"/><stop offset="0.2023" stop-color="#fb0300"/><stop offset="0.207" stop-color="#ff1800"/><stop offset="0.2093" stop-color="#ff2800"/><stop offset="0.2209" stop-color="#ffa200"/><stop offset="0.2279" stop-color="#ffcf00"/><stop offset="0.2372" stop-color="#ffe300"/><stop offset="0.2605" stop-color="#ffe900"/><stop offset="0.2721" stop-color="#ffdc00"/><stop offset="0.2791" stop-color="#ffbf00"/><stop offset="0.3023" stop-color="#ff2000"/><stop offset="0.3116" stop-color="#ff0500"/><stop offset="0.3233" stop-color="#fd0200"/><stop offset="0.3349" stop-color="#dd1d00"/><stop offset="0.3512" stop-color="#b24800"/><stop offset="0.3721" stop-color="#9d5d00"/><stop offset="0.4163" stop-color="#986200"/><stop offset="0.4581" stop-color="#778300"/><stop offset="0.493" stop-color="#689200"/><stop offset="0.5093" stop-color="#51a900"/><stop offset="0.5512" stop-color="#669400"/><stop offset="0.593" stop-color="#8c6e00"/><stop offset="0.6186" stop-color="#798100"/><stop offset="0.6698" stop-color="#41b900"/><stop offset="0.7" stop-color="#00ff00"/><stop offset="0.7535" stop-color="#00ff1e"/><stop offset="0.7721" stop-color="#00ff46"/><stop offset="0.8116" stop-color="#00fff6"/><stop offset="0.814" stop-color="#00feff"/><stop offset="0.8326" stop-color="#00aaff"/><stop offset="0.8419" stop-color="#0092ff"/><stop offset="0.8884" stop-color="#008fff"/><stop offset="0.907" stop-color="#00a7ff"/><stop offset="0.9256" stop-color="#00ccff"/><stop offset="1" stop-color="#00d0ff"/></linearGradient>
<linearGradient id="c40" x1="0" y1="0" x2="0" y2="1"><stop offset="0" stop-color="#00ff2b"/><stop offset="0.09302" stop-color="#00ff2b"/><stop offset="0.1512" stop-color="#00ff27"/><stop offset="0.1674" stop-color="#04fb00"/><stop offset="0.1767" stop-color="#37c300"/><stop offset="0.1907" stop-color="#7a8000"/><stop offset="0.1953" stop-color="#a65400"/><stop offset="0.2" stop-color="#db1f00"/><stop offset="0.2047" stop-color="#fe0100"/><stop offset="0.2116" stop-color="#ff2b00"/><stop offset="0.2256" stop-color="#ffb600"/><stop offset="0.2326" stop-color="#ffda00"/><stop offset="0.2442" stop-color="#ffeb00"/><stop offset="0.2651" stop-color="#ffed00"/><stop offset="0.2744" stop-color="#ffe100"/><stop offset="0.2814" stop-color="#ffc400"/><stop offset="0.3" stop-color="#ff4700"/><stop offset="0.3047" stop-color="#ff2400"/><stop offset="0.314" stop-color="#ff0800"/><stop offset="0.3256" stop-color="#fe0100"/><stop offset="0.3372" stop-color="#e01a00"/><stop offset="0.3512" stop-color="#b74300"/><stop offset="0.3721" stop-color="#9a6000"/><stop offset="0.4186" stop-color="#926800"/><stop offset="0.4651" stop-color="#728800"/><stop offset="0.4977" stop-color="#619900"/><stop offset="0.514" stop-color="#55a500"/><stop offset="0.5512" stop-color="#6b8f00"/><stop offset="0.5953" stop-color="#946600"/><stop offset="0.6302" stop-color="#758500"/><stop offset="0.6744" stop-color="#42b800"/><stop offset="0.7023" stop-color="#03fb00"/><stop offset="0.7535" stop-color="#00ff1c"/><stop offset="0.7721" stop-color="#00ff41"/><stop offset="0.814" stop-color="#00fffe"/><stop offset="0.8326" stop-color="#00abff"/><stop offset="0.8419" stop-color="#0093ff"/><stop offset="0.8884" stop-color="#0090ff"/><stop offset="0.907" stop-color="#00a7ff"/><stop offset="0.9256" stop-color="#00ccff"/><stop offset="1" stop-color="#00d0ff"/></linearGradient>
<linearGradient id="c41" x1="0" y1="0" x2="0" y2="1"><stop offset="0" stop-color="#00ff32"/><stop offset="0.09302" stop-color="#00ff32"/><stop offset="0.1512" stop-color="#00ff2e"/><stop offset="0.1698" stop-color="#03fb00"/><stop offset="0.1814" stop-color="#42b800"/><stop offset="0.193" stop-color="#7b7f00"/><stop offset="0.1977" stop-color="#a85200"/><stop offset="0.2023" stop-color="#dc1e00"/><stop offset="0.207" stop-color="#ff0000"/><stop offset="0.214" stop-color="#ff2b00"/><stop offset="0.2279" stop-color="#ffb100"/><stop offset="0.2349" stop-color="#ffd800"/><stop offset="0.2465" stop-color="#fff000"/><stop offset="0.2674" stop-color="#fff500"/><stop offset="0.2791" stop-color="#ffe800"/><stop offset="0.2907" stop-color="#ffb500"/><stop offset="0.3023" stop-color="#ff6500"/><stop offset="0.3116" stop-color="#ff2000"/><stop offset="0.3233" stop-color="#ff0500"/><stop offset="0.3326" stop-color="#f90400"/><stop offset="0.3605" stop-color="#a75300"/><stop offset="0.3767" stop-color="#906a00"/><stop offset="0.4256" stop-color="#887200"/><stop offset="0.4907" stop-color="#639700"/><stop offset="0.5186" stop-color="#5aa000"/><stop offset="0.5605" stop-color="#788200"/><stop offset="0.5977" stop-color="#976300"/><stop offset="0.6372" stop-color="#738700"/><stop offset="0.6767" stop-color="#41b900"/><stop offset="0.7047" stop-color="#02fd00"/><stop offset="0.7558" stop-color="#00ff1e"/><stop offset="0.7744" stop-color="#00ff48"/><stop offset="0.814" stop-color="#00ffff"/><stop offset="0.8302" stop-color="#00b3ff"/><stop offset="0.8395" stop-color="#0097ff"/><stop offset="0.8605" stop-color="#0090ff"/><stop offset="0.893" stop-color="#0096ff"/><stop offset="0.9256" stop-color="#00cdff"/><stop offset="1" stop-color="#00d0ff"/></linearGradient>
<linearGradient id="c42" x1="0" y1="0" x2="0" y2="1"><stop offset="0" stop-color="#00ff36"/><stop offset="0.09302" stop-color="#00ff36"/><stop offset="0.1512" stop-color="#00ff32"/><stop offset="0.1698" stop-color="#00ff02"/><stop offset="0.193" stop-color="#738700"/><stop offset="0.1977" stop-color="#9c5e00"/><stop offset="0.2023" stop-color="#d22800"/><stop offset="0.207" stop-color="#f70600"/><stop offset="0.2093" stop-color="#ff0700"/><stop offset="0.214" stop-color="#ff1f00"/><stop offset="0.2302" stop-color="#ffb300"/><stop offset="0.2372" stop-color="#ffd800"/><stop offset="0.2488" stop-color="#fff600"/><stop offset="0.2674" stop-color="#fffe00"/><stop offset="0.2814" stop-color="#fff600"/><stop offset="0.293" stop-color="#ffd100"/><stop offset="0.3023" stop-color="#ff9c00"/><stop offset="0.3186" stop-color="#ff1f00"/><stop offset="0.3302" stop-color="#ff0300"/><stop offset="0.3372" stop-color="#f80500"/><stop offset="0.3651" stop-color="#a05a00"/><stop offset="0.3814" stop-color="#877300"/><stop offset="0.4442" stop-color="#7e7c00"/><stop offset="0.4907" stop-color="#5f9b00"/><stop offset="0.5233" stop-color="#5f9b00"/><stop offset="0.6" stop-color="#986200"/><stop offset="0.6326" stop-color="#7c7e00"/><stop offset="0.6791" stop-color="#3fbb00"/><stop offset="0.707" stop-color="#00ff00"/><stop offset="0.7558" stop-color="#00ff1c"/><stop offset="0.7744" stop-color="#00ff43"/><stop offset="0.8116" stop-color="#00fff3"/><stop offset="0.814" stop-color="#00fffd"/><stop offset="0.8326" stop-color="#00aeff"/><stop offset="0.8442" stop-color="#0095ff"/><stop offset="0.8884" stop-color="#0094ff"/><stop offset="0.9256" stop-color="#00ccff"/><stop offset="1" stop-color="#00cfff"/></linearGradient>
<linearGradient id="c43" x1="0" y1="0" x2="0" y2="1"><stop offset="0" stop-color="#00ff38"/><stop offset="0.09302" stop-color="#00ff38"/><stop offset="0.1488" stop-color="#00ff34"/><stop offset="0.1698" stop-color="#00ff01"/><stop offset="0.193" stop-color="#778300"/><stop offset="0.2047" stop-color="#e71300"/><stop offset="0.207" stop-color="#f80600"/><stop offset="0.2093" stop-color="#ff0700"/><stop offset="0.214" stop-color="#ff2000"/><stop offset="0.2302" stop-color="#ffaf00"/><stop offset="0.2395" stop-color="#ffdf00"/><stop offset="0.2512" stop-color="#fffd00"/><stop offset="0.286" stop-color="#fffd00"/><stop offset="0.2977" stop-color="#ffda00"/><stop offset="0.307" stop-color="#ffa400"/><stop offset="0.3233" stop-color="#ff2400"/><stop offset="0.3326" stop-color="#ff0800"/><stop offset="0.3395" stop-color="#fb0300"/><stop offset="0.3698" stop-color="#a45600"/><stop offset="0.3837" stop-color="#8f6b00"/><stop offset="0.4488" stop-color="#877300"/><stop offset="0.4907" stop-color="#689200"/><stop offset="0.5163" stop-color="#659500"/><stop offset="0.6023" stop-color="#996100"/><stop offset="0.6372" stop-color="#7a8000"/><stop offset="0.6814" stop-color="#3ebc00"/><stop offset="0.707" stop-color="#02fd00"/><stop offset="0.7581" stop-color="#00ff1e"/><stop offset="0.7767" stop-color="#00ff47"/><stop offset="0.8093" stop-color="#00ffe8"/><stop offset="0.814" stop-color="#00fffb"/><stop offset="0.8326" stop-color="#00b1ff"/><stop offset="0.8442" stop-color="#0095ff"/><stop offset="0.8767" stop-color="#008eff"/><stop offset="0.8953" stop-color="#0097ff"/><stop offset="0.9209" stop-color="#00c2ff"/><stop offset="0.9512" stop-color="#00c9ff"/><stop offset="1" stop-color="#00c9ff"/></linearGradient>
<linearGradient id="c44" x1="0" y1="0" x2="0" y2="1"><stop offset="0" stop-color="#00ff37"/><stop offset="0.09302" stop-color="#00ff37"/><stop offset="0.1465" stop-color="#00ff32"/><stop offset="0.1674" stop-color="#01fe00"/><stop offset="0.1814" stop-color="#4cae00"/><stop offset="0.1907" stop-color="#7e7c00"/><stop offset="0.2" stop-color="#d72300"/><stop offset="0.2047" stop-color="#f90500"/><stop offset="0.207" stop-color="#ff0800"/><stop offset="0.2116" stop-color="#ff2000"/><stop offset="0.2279" stop-color="#ffac00"/><stop offset="0.2372" stop-color="#ffde00"/><stop offset="0.2465" stop-color="#fffc00"/><stop offset="0.2907" stop-color="#fffd00"/><stop offset="0.3" stop-color="#ffdf00"/><stop offset="0.3116" stop-color="#ffa000"/><stop offset="0.3279" stop-color="#ff2500"/><stop offset="0.3372" stop-color="#ff0800"/><stop offset="0.3419" stop-color="#fe0100"/><stop offset="0.3767" stop-color="#ae4c00"/><stop offset="0.4023" stop-color="#9f5b00"/><stop offset="0.4512" stop-color="#9e5c00"/><stop offset="0.4907" stop-color="#847600"/><stop offset="0.5349" stop-color="#7c7e00"/><stop offset="0.5977" stop-color="#9b5f00"/><stop offset="0.6186" stop-color="#916900"/><stop offset="0.6814" stop-color="#42b800"/><stop offset="0.7093" stop-color="#01fe00"/><stop offset="0.7581" stop-color="#00ff1d"/><stop offset="0.7767" stop-color="#00ff44"/><stop offset="0.8093" stop-color="#00ffea"/><stop offset="0.814" stop-color="#00fffe"/><stop offset="0.8279" stop-color="#00c0ff"/><stop offset="0.8419" stop-color="#0098ff"/><stop offset="0.8628" stop-color="#0086ff"/><stop offset="0.8907" stop-color="#008aff"/><stop offset="0.9186" stop-color="#00b7ff"/><stop offset="0.9674" stop-color="#00bcff"/><stop offset="1" stop-color="#00bcff"/></linearGradient>
<linearGradient id="c45" x1="0" y1="0" x2="0" y2="1"><stop offset="0" stop-color="#00ff38"/><stop offset="0.09302" stop-color="#00ff38"/><stop offset="0.1442" stop-color="#00ff34"/><stop offset="0.1651" stop-color="#02fd00"/><stop offset="0.1814" stop-color="#59a100"/><stop offset="0.1884" stop-color="#827800"/><stop offset="0.1977" stop-color="#da2000"/><stop offset="0.2023" stop-color="#fa0300"/><stop offset="0.2093" stop-color="#ff2100"/><stop offset="0.2279" stop-color="#ffb900"/><stop offset="0.2372" stop-color="#ffe800"/><stop offset="0.2442" stop-color="#fffe00"/><stop offset="0.2907" stop-color="#ffff02"/><stop offset="0.2977" stop-color="#fff100"/><stop offset="0.3116" stop-color="#ffb200"/><stop offset="0.3326" stop-color="#ff1c00"/><stop offset="0.3442" stop-color="#ff0100"/><stop offset="0.3767" stop-color="#c03a00"/><stop offset="0.407" stop-color="#b14900"/><stop offset="0.4535" stop-color="#b34700"/><stop offset="0.5442" stop-color="#8c6e00"/><stop offset="0.6023" stop-color="#996100"/><stop offset="0.6442" stop-color="#738700"/><stop offset="0.6837" stop-color="#3ebc00"/><stop offset="0.7093" stop-color="#02fd00"/><stop offset="0.7581" stop-color="#00ff1c"/><stop offset="0.7767" stop-color="#00ff45"/><stop offset="0.8093" stop-color="#00ffee"/><stop offset="0.814" stop-color="#00faff"/><stop offset="0.8279" stop-color="#00bcff"/><stop offset="0.8442" stop-color="#0092ff"/><stop offset="0.8628" stop-color="#0080ff"/><stop offset="0.8907" stop-color="#0084ff"/><stop offset="0.9163" stop-color="#00adff"/><stop offset="1" stop-color="#00b0ff"/></linearGradient>
<linearGradient id="c46" x1="0" y1="0" x2="0" y2="1"><stop offset="0" stop-color="#00ff3c"/><stop offset="0.09302" stop-color="#00ff3c"/><stop offset="0.1442" stop-color="#00ff38"/><stop offset="0.1651" stop-color="#00ff00"/><stop offset="0.1767" stop-color="#3fbb00"/><stop offset="0.1884" stop-color="#837700"/><stop offset="0.1977" stop-color="#de1c00"/><stop offset="0.2023" stop-color="#fd0100"/><stop offset="0.2093" stop-color="#ff2100"/><stop offset="0.2279" stop-color="#ffb500"/><stop offset="0.2395" stop-color="#fff100"/><stop offset="0.2442" stop-color="#ffff01"/><stop offset="0.2907" stop-color="#ffff04"/><stop offset="0.2977" stop-color="#fffb00"/><stop offset="0.3116" stop-color="#ffc100"/><stop offset="0.3186" stop-color="#ff9800"/><stop offset="0.3349" stop-color="#ff1e00"/><stop offset="0.3465" stop-color="#ff0200"/><stop offset="0.3628" stop-color="#e41600"/><stop offset="0.3814" stop-color="#c83200"/><stop offset="0.4116" stop-color="#c13900"/><stop offset="0.4581" stop-color="#c53500"/><stop offset="0.5488" stop-color="#936700"/><stop offset="0.6093" stop-color="#8c6e00"/><stop offset="0.6744" stop-color="#4eac00"/><stop offset="0.6977" stop-color="#1ddd00"/><stop offset="0.7116" stop-color="#00ff00"/><stop offset="0.7581" stop-color="#00ff1a"/><stop offset="0.7767" stop-color="#00ff42"/><stop offset="0.8093" stop-color="#00ffee"/><stop offset="0.814" stop-color="#00fbff"/><stop offset="0.8279" stop-color="#00bcff"/><stop offset="0.8442" stop-color="#0092ff"/><stop offset="0.8628" stop-color="#007eff"/><stop offset="0.8907" stop-color="#0081ff"/><stop offset="0.9163" stop-color="#00a7ff"/><stop offset="1" stop-color="#00a8ff"/></linearGradient>
<linearGradient id="c47" x1="0" y1="0" x2="0" y2="1"><stop offset="0" stop-color="#00ff43"/><stop offset="0.09302" stop-color="#00ff43"/><stop offset="0.1442" stop-color="#00ff3f"/><stop offset="0.1535" stop-color="#00ff28"/><stop offset="0.1651" stop-color="#00ff04"/><stop offset="0.1674" stop-color="#04fb00"/><stop offset="0.1884" stop-color="#788200"/><stop offset="0.2" stop-color="#e31700"/><stop offset="0.2047" stop-color="#ff0100"/><stop offset="0.2116" stop-color="#ff2400"/><stop offset="0.2302" stop-color="#ffb400"/><stop offset="0.2419" stop-color="#fff200"/><stop offset="0.2465" stop-color="#ffff01"/><stop offset="0.293" stop-color="#ffff05"/><stop offset="0.3" stop-color="#fffd00"/><stop offset="0.314" stop-color="#ffc200"/><stop offset="0.3209" stop-color="#ff9a00"/><stop offset="0.3372" stop-color="#ff1f00"/><stop offset="0.3465" stop-color="#ff0500"/><stop offset="0.3535" stop-color="#fd0100"/><stop offset="0.3814" stop-color="#d12900"/><stop offset="0.407" stop-color="#cb2f00"/><stop offset="0.4581" stop-color="#d22800"/><stop offset="0.5023" stop-color="#b94100"/><stop offset="0.5488" stop-color="#966400"/><stop offset="0.614" stop-color="#807a00"/><stop offset="0.6744" stop-color="#4cae00"/><stop offset="0.6977" stop-color="#1cde00"/><stop offset="0.7116" stop-color="#01fe00"/><stop offset="0.7581" stop-color="#00ff19"/><stop offset="0.7767" stop-color="#00ff43"/><stop offset="0.8093" stop-color="#00ffef"/><stop offset="0.814" stop-color="#00f9ff"/><stop offset="0.8279" stop-color="#00bcff"/><stop offset="0.8442" stop-color="#0091ff"/><stop offset="0.8605" stop-color="#007dff"/><stop offset="0.8907" stop-color="#0080ff"/><stop offset="0.9163" stop-color="#00a2ff"/><stop offset="1" stop-color="#00a3ff"/></linearGradient>
<linearGradient id="c48" x1="0" y1="0" x2="0" y2="1"><stop offset="0" stop-color="#00ff54"/><stop offset="0.09302" stop-color="#00ff54"/><stop offset="0.1419" stop-color="#00ff51"/><stop offset="0.1558" stop-color="#00ff2b"/><stop offset="0.1651" stop-color="#00ff0d"/><stop offset="0.1698" stop-color="#00ff02"/><stop offset="0.1814" stop-color="#3cbe00"/><stop offset="0.193" stop-color="#7d7d00"/><stop offset="0.2047" stop-color="#e31700"/><stop offset="0.2093" stop-color="#ff0200"/><stop offset="0.2163" stop-color="#ff2500"/><stop offset="0.2349" stop-color="#ffb100"/><stop offset="0.2465" stop-color="#ffeb00"/><stop offset="0.2535" stop-color="#ffff01"/><stop offset="0.2977" stop-color="#ffff04"/><stop offset="0.3023" stop-color="#ffff00"/><stop offset="0.3163" stop-color="#ffc700"/><stop offset="0.3256" stop-color="#ff9000"/><stop offset="0.3419" stop-color="#ff1d00"/><stop offset="0.3512" stop-color="#ff0500"/><stop offset="0.3605" stop-color="#fc0200"/><stop offset="0.3837" stop-color="#d62400"/><stop offset="0.414" stop-color="#d02a00"/><stop offset="0.4674" stop-color="#d52500"/><stop offset="0.5465" stop-color="#9b5f00"/><stop offset="0.6116" stop-color="#847600"/><stop offset="0.6767" stop-color="#4ab000"/><stop offset="0.7116" stop-color="#04fa00"/><stop offset="0.7372" stop-color="#00ff0a"/><stop offset="0.7628" stop-color="#00ff1f"/><stop offset="0.7767" stop-color="#00ff3f"/><stop offset="0.807" stop-color="#00ffdf"/><stop offset="0.814" stop-color="#00ffff"/><stop offset="0.8279" stop-color="#00c0ff"/><stop offset="0.8419" stop-color="#0095ff"/><stop offset="0.8605" stop-color="#007bff"/><stop offset="0.8907" stop-color="#007eff"/><stop offset="0.914" stop-color="#00a0ff"/><stop offset="1" stop-color="#00a1ff"/></linearGradient>
<linearGradient id="c49" x1="0" y1="0" x2="0" y2="1"><stop offset="0" stop-color="#00ff67"/><stop offset="0.09302" stop-color="#00ff68"/><stop offset="0.1419" stop-color="#00ff63"/><stop offset="0.1488" stop-color="#00ff53"/><stop offset="0.1628" stop-color="#00ff1c"/><stop offset="0.1744" stop-color="#00ff00"/><stop offset="0.186" stop-color="#3ebc00"/><stop offset="0.1977" stop-color="#798100"/><stop offset="0.2093" stop-color="#dc1e00"/><stop offset="0.214" stop-color="#f90400"/><stop offset="0.2186" stop-color="#ff1300"/><stop offset="0.2233" stop-color="#ff2d00"/><stop offset="0.2419" stop-color="#ffb100"/><stop offset="0.2581" stop-color="#fff800"/><stop offset="0.2628" stop-color="#ffff02"/><stop offset="0.3047" stop-color="#ffff00"/><stop offset="0.3163" stop-color="#ffd600"/><stop offset="0.3279" stop-color="#ff9700"/><stop offset="0.3465" stop-color="#ff1c00"/><stop offset="0.3558" stop-color="#ff0400"/><stop offset="0.3674" stop-color="#f90500"/><stop offset="0.386" stop-color="#da2000"/><stop offset="0.4186" stop-color="#d02a00"/><stop offset="0.4698" stop-color="#d22800"/><stop offset="0.5419" stop-color="#a05a00"/><stop offset="0.607" stop-color="#8f6b00"/><stop offset="0.6791" stop-color="#4ab000"/><stop offset="0.7116" stop-color="#07f600"/><stop offset="0.7233" stop-color="#00ff02"/><stop offset="0.7628" stop-color="#00ff1d"/><stop offset="0.7791" stop-color="#00ff44"/><stop offset="0.8116" stop-color="#00fff0"/><stop offset="0.8163" stop-color="#00f8ff"/><stop offset="0.8326" stop-color="#00b0ff"/><stop offset="0.8465" stop-color="#008aff"/><stop offset="0.8628" stop-color="#0078ff"/><stop offset="0.8907" stop-color="#007dff"/><stop offset="0.914" stop-color="#00a0ff"/><stop offset="1" stop-color="#00a1ff"/></linearGradient>
<linearGradient id="c50" x1="0" y1="0" x2="0" y2="1"><stop offset="0" stop-color="#00ff79"/><stop offset="0.09302" stop-color="#00ff7d"/><stop offset="0.1395" stop-color="#00ff75"/><stop offset="0.1488" stop-color="#00ff5e"/><stop offset="0.1605" stop-color="#00ff2d"/><stop offset="0.1721" stop-color="#00ff0d"/><stop offset="0.1791" stop-color="#04fb00"/><stop offset="0.1953" stop-color="#56a400"/><stop offset="0.2023" stop-color="#758500"/><stop offset="0.2093" stop-color="#ac4e00"/><stop offset="0.214" stop-color="#d72300"/><stop offset="0.2186" stop-color="#f50800"/><stop offset="0.2209" stop-color="#ff0400"/><stop offset="0.2279" stop-color="#ff2000"/><stop offset="0.2488" stop-color="#ffae00"/><stop offset="0.2628" stop-color="#fff100"/><stop offset="0.2674" stop-color="#fffe00"/><stop offset="0.307" stop-color="#ffff00"/><stop offset="0.3186" stop-color="#ffda00"/><stop offset="0.3302" stop-color="#ff9e00"/><stop offset="0.3488" stop-color="#ff2100"/><stop offset="0.3581" stop-color="#ff0500"/><stop offset="0.3698" stop-color="#fc0200"/><stop offset="0.3907" stop-color="#db1f00"/><stop offset="0.4233" stop-color="#ce2c00"/><stop offset="0.4767" stop-color="#c83200"/><stop offset="0.5395" stop-color="#a05a00"/><stop offset="0.607" stop-color="#9a6000"/><stop offset="0.6628" stop-color="#639700"/><stop offset="0.6907" stop-color="#3dbd00"/><stop offset="0.7163" stop-color="#07f600"/><stop offset="0.7279" stop-color="#00ff03"/><stop offset="0.7628" stop-color="#00ff1b"/><stop offset="0.7791" stop-color="#00ff40"/><stop offset="0.8116" stop-color="#00ffec"/><stop offset="0.8163" stop-color="#00fdff"/><stop offset="0.8302" stop-color="#00bcff"/><stop offset="0.8442" stop-color="#0091ff"/><stop offset="0.8605" stop-color="#007bff"/><stop offset="0.8884" stop-color="#007dff"/><stop offset="0.914" stop-color="#00a3ff"/><stop offset="1" stop-color="#00a4ff"/></linearGradient>
<linearGradient id="c51" x1="0" y1="0" x2="0" y2="1"><stop offset="0" stop-color="#00ff87"/><stop offset="0.07442" stop-color="#00ff8c"/><stop offset="0.1047" stop-color="#00ff8d"/><stop offset="0.1372" stop-color="#00ff85"/><stop offset="0.1442" stop-color="#00ff75"/><stop offset="0.1581" stop-color="#00ff35"/><stop offset="0.1698" stop-color="#00ff13"/><stop offset="0.1791" stop-color="#00ff02"/><stop offset="0.2047" stop-color="#6e8c00"/><stop offset="0.2116" stop-color="#a25800"/><stop offset="0.2186" stop-color="#e31700"/><stop offset="0.2233" stop-color="#fe0100"/><stop offset="0.2349" stop-color="#ff2900"/><stop offset="0.2581" stop-color="#ffc200"/><stop offset="0.2698" stop-color="#fff600"/><stop offset="0.2767" stop-color="#ffff01"/><stop offset="0.3093" stop-color="#fffe00"/><stop offset="0.3209" stop-color="#ffdb00"/><stop offset="0.3326" stop-color="#ffa200"/><stop offset="0.3535" stop-color="#ff1b00"/><stop offset="0.3628" stop-color="#ff0300"/><stop offset="0.3767" stop-color="#f90500"/><stop offset="0.3977" stop-color="#d72300"/><stop offset="0.4907" stop-color="#b84200"/><stop offset="0.5419" stop-color="#9d5d00"/><stop offset="0.6047" stop-color="#a75300"/><stop offset="0.6372" stop-color="#936700"/><stop offset="0.6977" stop-color="#3bbf00"/><stop offset="0.7233" stop-color="#05f900"/><stop offset="0.7349" stop-color="#00ff05"/><stop offset="0.7651" stop-color="#00ff1c"/><stop offset="0.7814" stop-color="#00ff41"/><stop offset="0.814" stop-color="#00ffee"/><stop offset="0.8186" stop-color="#00fbff"/><stop offset="0.8326" stop-color="#00bcff"/><stop offset="0.8488" stop-color="#0090ff"/><stop offset="0.8651" stop-color="#007fff"/><stop offset="0.8907" stop-color="#0083ff"/><stop offset="0.914" stop-color="#00a7ff"/><stop offset="1" stop-color="#00a8ff"/></linearGradient>
<linearGradient id="c52" x1="0" y1="0" x2="0" y2="1"><stop offset="0" stop-color="#00ff89"/><stop offset="0.07442" stop-color="#00ff8d"/><stop offset="0.1023" stop-color="#00ff8f"/><stop offset="0.1349" stop-color="#00ff87"/><stop offset="0.1419" stop-color="#00ff77"/><stop offset="0.1535" stop-color="#00ff3c"/><stop offset="0.1674" stop-color="#00ff15"/><stop offset="0.1791" stop-color="#00ff01"/><stop offset="0.207" stop-color="#758500"/><stop offset="0.214" stop-color="#af4b00"/><stop offset="0.2186" stop-color="#db1f00"/><stop offset="0.2233" stop-color="#f70600"/><stop offset="0.2256" stop-color="#ff0300"/><stop offset="0.2372" stop-color="#ff2000"/><stop offset="0.2535" stop-color="#ff8500"/><stop offset="0.2605" stop-color="#ffb500"/><stop offset="0.2721" stop-color="#ffec00"/><stop offset="0.2814" stop-color="#fffd00"/><stop offset="0.3116" stop-color="#fffb00"/><stop offset="0.3233" stop-color="#ffdb00"/><stop offset="0.3349" stop-color="#ffa500"/><stop offset="0.3558" stop-color="#ff1d00"/><stop offset="0.3651" stop-color="#ff0400"/><stop offset="0.3791" stop-color="#fc0200"/><stop offset="0.4023" stop-color="#d52500"/><stop offset="0.4953" stop-color="#ab4f00"/><stop offset="0.5395" stop-color="#946600"/><stop offset="0.6023" stop-color="#ae4c00"/><stop offset="0.6349" stop-color="#a45600"/><stop offset="0.6628" stop-color="#7a8000"/><stop offset="0.7023" stop-color="#3bbf00"/><stop offset="0.7302" stop-color="#02fc00"/><stop offset="0.7674" stop-color="#00ff19"/><stop offset="0.7837" stop-color="#00ff3f"/><stop offset="0.814" stop-color="#00ffdf"/><stop offset="0.8209" stop-color="#00fffd"/><stop offset="0.8349" stop-color="#00c7ff"/><stop offset="0.8558" stop-color="#0094ff"/><stop offset="0.8721" stop-color="#008aff"/><stop offset="0.893" stop-color="#0090ff"/><stop offset="0.914" stop-color="#00b1ff"/><stop offset="1" stop-color="#00b2ff"/></linearGradient>
<linearGradient id="c53" x1="0" y1="0" x2="0" y2="1"><stop offset="0" stop-color="#00ff7d"/><stop offset="0.09302" stop-color="#00ff81"/><stop offset="0.1326" stop-color="#00ff7a"/><stop offset="0.1395" stop-color="#00ff69"/><stop offset="0.1488" stop-color="#00ff3c"/><stop offset="0.1651" stop-color="#00ff12"/><stop offset="0.1767" stop-color="#00ff00"/><stop offset="0.207" stop-color="#7a8000"/><stop offset="0.214" stop-color="#b34700"/><stop offset="0.2186" stop-color="#db1f00"/><stop offset="0.2256" stop-color="#ff0100"/><stop offset="0.2419" stop-color="#ff2600"/><stop offset="0.2698" stop-color="#ffcb00"/><stop offset="0.2791" stop-color="#ffee00"/><stop offset="0.2907" stop-color="#fffa00"/><stop offset="0.314" stop-color="#fff700"/><stop offset="0.3256" stop-color="#ffdb00"/><stop offset="0.3372" stop-color="#ffa900"/><stop offset="0.3558" stop-color="#ff3200"/><stop offset="0.3581" stop-color="#ff2100"/><stop offset="0.3674" stop-color="#ff0500"/><stop offset="0.3814" stop-color="#fd0100"/><stop offset="0.407" stop-color="#d42600"/><stop offset="0.5" stop-color="#986200"/><stop offset="0.5395" stop-color="#847600"/><stop offset="0.6047" stop-color="#b04a00"/><stop offset="0.6349" stop-color="#aa5000"/><stop offset="0.6605" stop-color="#867400"/><stop offset="0.7093" stop-color="#33c700"/><stop offset="0.7372" stop-color="#00ff00"/><stop offset="0.7721" stop-color="#00ff19"/><stop offset="0.7884" stop-color="#00ff42"/><stop offset="0.8163" stop-color="#00ffd8"/><stop offset="0.8256" stop-color="#00fffd"/><stop offset="0.8442" stop-color="#00c8ff"/><stop offset="0.8651" stop-color="#009fff"/><stop offset="0.8907" stop-color="#00a0ff"/><stop offset="0.914" stop-color="#00c0ff"/><stop offset="1" stop-color="#00c1ff"/></linearGradient>
<linearGradient id="c54" x1="0" y1="0" x2="0" y2="1"><stop offset="0" stop-color="#00ff66"/><stop offset="0.09302" stop-color="#00ff67"/><stop offset="0.1326" stop-color="#00ff63"/><stop offset="0.1395" stop-color="#00ff51"/><stop offset="0.1512" stop-color="#00ff28"/><stop offset="0.1628" stop-color="#00ff0f"/><stop offset="0.1744" stop-color="#00ff00"/><stop offset="0.2047" stop-color="#768400"/><stop offset="0.2116" stop-color="#a95100"/><stop offset="0.2186" stop-color="#e31700"/><stop offset="0.2233" stop-color="#fa0400"/><stop offset="0.2326" stop-color="#ff0e00"/><stop offset="0.2442" stop-color="#ff2200"/><stop offset="0.2605" stop-color="#ff7b00"/><stop offset="0.2698" stop-color="#ffb800"/><stop offset="0.2791" stop-color="#ffe200"/><stop offset="0.2884" stop-color="#fff400"/><stop offset="0.3163" stop-color="#fff200"/><stop offset="0.3279" stop-color="#ffd600"/><stop offset="0.3395" stop-color="#ffa400"/><stop offset="0.3605" stop-color="#ff1e00"/><stop offset="0.3698" stop-color="#ff0400"/><stop offset="0.386" stop-color="#fa0400"/><stop offset="0.407" stop-color="#d42600"/><stop offset="0.4977" stop-color="#8c6e00"/><stop offset="0.5279" stop-color="#788200"/><stop offset="0.5488" stop-color="#7c7e00"/><stop offset="0.607" stop-color="#ac4e00"/><stop offset="0.6349" stop-color="#a65400"/><stop offset="0.6605" stop-color="#827800"/><stop offset="0.707" stop-color="#37c300"/><stop offset="0.7349" stop-color="#02fd00"/><stop offset="0.7698" stop-color="#00ff15"/><stop offset="0.7884" stop-color="#00ff40"/><stop offset="0.8163" stop-color="#00ffd4"/><stop offset="0.8279" stop-color="#00fffc"/><stop offset="0.8558" stop-color="#00c4ff"/><stop offset="0.8698" stop-color="#00b3ff"/><stop offset="0.893" stop-color="#00b7ff"/><stop offset="0.9163" stop-color="#00cbff"/><stop offset="1" stop-color="#00ccff"/></linearGradient>
<linearGradient id="c55" x1="0" y1="0" x2="0" y2="1"><stop offset="0" stop-color="#00ff44"/><stop offset="0.09302" stop-color="#00ff44"/><stop offset="0.1349" stop-color="#00ff40"/><stop offset="0.1465" stop-color="#00ff2b"/><stop offset="0.1581" stop-color="#00ff0f"/><stop offset="0.1721" stop-color="#00ff00"/><stop offset="0.186" stop-color="#2dcd00"/><stop offset="0.2023" stop-color="#708a00"/><stop offset="0.2093" stop-color="#a15900"/><stop offset="0.2163" stop-color="#dd1d00"/><stop offset="0.2233" stop-color="#ff0000"/><stop offset="0.2465" stop-color="#ff1c00"/><stop offset="0.2512" stop-color="#ff2e00"/><stop offset="0.2721" stop-color="#ffb900"/><stop offset="0.2814" stop-color="#ffe100"/><stop offset="0.2907" stop-color="#fff000"/><stop offset="0.3163" stop-color="#ffed00"/><stop offset="0.3279" stop-color="#ffd400"/><stop offset="0.3395" stop-color="#ffa400"/><stop offset="0.3581" stop-color="#ff2f00"/><stop offset="0.3628" stop-color="#ff1600"/><stop offset="0.3721" stop-color="#ff0200"/><stop offset="0.386" stop-color="#fa0400"/><stop offset="0.407" stop-color="#d42600"/><stop offset="0.4977" stop-color="#807a00"/><stop offset="0.5209" stop-color="#728800"/><stop offset="0.5488" stop-color="#758500"/><stop offset="0.6093" stop-color="#9b5f00"/><stop offset="0.6395" stop-color="#916900"/><stop offset="0.6977" stop-color="#3fbb00"/><stop offset="0.7279" stop-color="#02fd00"/><stop offset="0.7674" stop-color="#00ff17"/><stop offset="0.786" stop-color="#00ff40"/><stop offset="0.814" stop-color="#00ffd3"/><stop offset="0.8279" stop-color="#00fffd"/><stop offset="0.8651" stop-color="#00c8ff"/><stop offset="0.893" stop-color="#00c6ff"/><stop offset="0.9209" stop-color="#00d4ff"/><stop offset="1" stop-color="#00d4ff"/></linearGradient>
<linearGradient id="c56" x1="0" y1="0" x2="0" y2="1"><stop offset="0" stop-color="#00ff32"/><stop offset="0.09302" stop-color="#00ff32"/><stop offset="0.1395" stop-color="#00ff2d"/><stop offset="0.1605" stop-color="#00ff06"/><stop offset="0.1721" stop-color="#03fb00"/><stop offset="0.186" stop-color="#2fcb00"/><stop offset="0.2023" stop-color="#788200"/><stop offset="0.2093" stop-color="#ae4c00"/><stop offset="0.214" stop-color="#d72300"/><stop offset="0.2209" stop-color="#fc0300"/><stop offset="0.2442" stop-color="#ff1000"/><stop offset="0.2512" stop-color="#ff2400"/><stop offset="0.2721" stop-color="#ffb600"/><stop offset="0.2814" stop-color="#ffdf00"/><stop offset="0.2907" stop-color="#ffed00"/><stop offset="0.3163" stop-color="#ffea00"/><stop offset="0.3302" stop-color="#ffc800"/><stop offset="0.3395" stop-color="#ffa000"/><stop offset="0.3605" stop-color="#ff1c00"/><stop offset="0.3698" stop-color="#ff0400"/><stop offset="0.3837" stop-color="#fc0200"/><stop offset="0.4093" stop-color="#d12900"/><stop offset="0.5023" stop-color="#728800"/><stop offset="0.5395" stop-color="#6c8e00"/><stop offset="0.6116" stop-color="#887200"/><stop offset="0.6419" stop-color="#7e7c00"/><stop offset="0.6884" stop-color="#49b100"/><stop offset="0.7209" stop-color="#03fb00"/><stop offset="0.7674" stop-color="#00ff1b"/><stop offset="0.7837" stop-color="#00ff42"/><stop offset="0.8116" stop-color="#00ffd3"/><stop offset="0.8233" stop-color="#00fff8"/><stop offset="0.8326" stop-color="#00f9ff"/><stop offset="0.8721" stop-color="#00d3ff"/><stop offset="0.9395" stop-color="#00dfff"/><stop offset="1" stop-color="#00dfff"/></linearGradient>
<linearGradient id="c57" x1="0" y1="0" x2="0" y2="1"><stop offset="0" stop-color="#00ff2b"/><stop offset="0.09302" stop-color="#00ff2b"/><stop offset="0.1372" stop-color="#00ff27"/><stop offset="0.1605" stop-color="#00ff03"/><stop offset="0.1721" stop-color="#04fb00"/><stop offset="0.186" stop-color="#2fcb00"/><stop offset="0.2023" stop-color="#788200"/><stop offset="0.2093" stop-color="#af4b00"/><stop offset="0.214" stop-color="#d82200"/><stop offset="0.2209" stop-color="#fc0200"/><stop offset="0.2419" stop-color="#ff0d00"/><stop offset="0.2488" stop-color="#ff1e00"/><stop offset="0.2698" stop-color="#ffb100"/><stop offset="0.2791" stop-color="#ffdd00"/><stop offset="0.2884" stop-color="#ffef00"/><stop offset="0.3163" stop-color="#ffec00"/><stop offset="0.3302" stop-color="#ffc700"/><stop offset="0.3395" stop-color="#ff9c00"/><stop offset="0.3605" stop-color="#ff1900"/><stop offset="0.3698" stop-color="#ff0300"/><stop offset="0.3837" stop-color="#fb0300"/><stop offset="0.4093" stop-color="#d02a00"/><stop offset="0.4953" stop-color="#768400"/><stop offset="0.514" stop-color="#669400"/><stop offset="0.5884" stop-color="#728800"/><stop offset="0.6395" stop-color="#798100"/><stop offset="0.6814" stop-color="#51a900"/><stop offset="0.7209" stop-color="#01fe00"/><stop offset="0.7674" stop-color="#00ff1d"/><stop offset="0.7814" stop-color="#00ff3f"/><stop offset="0.8093" stop-color="#00ffd0"/><stop offset="0.8209" stop-color="#00fff6"/><stop offset="0.8349" stop-color="#00fbff"/><stop offset="0.8791" stop-color="#00e5ff"/><stop offset="0.9488" stop-color="#00eeff"/><stop offset="1" stop-color="#00eeff"/></linearGradient>
<linearGradient id="c58" x1="0" y1="0" x2="0" y2="1"><stop offset="0" stop-color="#00ff28"/><stop offset="0.09302" stop-color="#00ff28"/><stop offset="0.1349" stop-color="#00ff24"/><stop offset="0.1558" stop-color="#00ff03"/><stop offset="0.1721" stop-color="#04fb00"/><stop offset="0.1837" stop-color="#27d300"/><stop offset="0.2023" stop-color="#7a8000"/><stop offset="0.2093" stop-color="#b04a00"/><stop offset="0.214" stop-color="#d92100"/><stop offset="0.2209" stop-color="#fd0200"/><stop offset="0.2419" stop-color="#ff1400"/><stop offset="0.2465" stop-color="#ff2200"/><stop offset="0.2674" stop-color="#ffb700"/><stop offset="0.2767" stop-color="#ffe300"/><stop offset="0.286" stop-color="#fff400"/><stop offset="0.314" stop-color="#fff200"/><stop offset="0.3256" stop-color="#ffd500"/><stop offset="0.3372" stop-color="#ffa200"/><stop offset="0.3581" stop-color="#ff1c00"/><stop offset="0.3674" stop-color="#ff0400"/><stop offset="0.3814" stop-color="#fc0200"/><stop offset="0.407" stop-color="#d02a00"/><stop offset="0.4907" stop-color="#7b7f00"/><stop offset="0.5093" stop-color="#629800"/><stop offset="0.586" stop-color="#649600"/><stop offset="0.6395" stop-color="#778300"/><stop offset="0.6698" stop-color="#5c9e00"/><stop offset="0.6907" stop-color="#3ebc00"/><stop offset="0.7186" stop-color="#03fb00"/><stop offset="0.7651" stop-color="#00ff1b"/><stop offset="0.7814" stop-color="#00ff45"/><stop offset="0.807" stop-color="#00ffce"/><stop offset="0.8186" stop-color="#00fff5"/><stop offset="0.8349" stop-color="#00feff"/><stop offset="0.8907" stop-color="#00f6ff"/><stop offset="0.9837" stop-color="#00fbff"/><stop offset="1" stop-color="#00fbff"/></linearGradient>
<linearGradient id="c59" x1="0" y1="0" x2="0" y2="1"><stop offset="0" stop-color="#00ff25"/><stop offset="0.09302" stop-color="#00ff25"/><stop offset="0.1349" stop-color="#00ff20"/><stop offset="0.1558" stop-color="#00ff01"/><stop offset="0.1721" stop-color="#05f900"/><stop offset="0.186" stop-color="#36c400"/><stop offset="0.2" stop-color="#748600"/><stop offset="0.207" stop-color="#a95100"/><stop offset="0.214" stop-color="#e31700"/><stop offset="0.2186" stop-color="#fa0400"/><stop offset="0.2302" stop-color="#ff0f00"/><stop offset="0.2395" stop-color="#ff1e00"/><stop offset="0.2488" stop-color="#ff5a00"/><stop offset="0.2628" stop-color="#ffbd00"/><stop offset="0.2721" stop-color="#ffe700"/><stop offset="0.2814" stop-color="#fffa00"/><stop offset="0.3116" stop-color="#fff900"/><stop offset="0.3233" stop-color="#ffd900"/><stop offset="0.3349" stop-color="#ffa500"/><stop offset="0.3558" stop-color="#ff1e00"/><stop offset="0.3651" stop-color="#ff0400"/><stop offset="0.3814" stop-color="#fa0400"/><stop offset="0.4047" stop-color="#d12900"/><stop offset="0.486" stop-color="#817900"/><stop offset="0.507" stop-color="#5f9b00"/><stop offset="0.586" stop-color="#5e9c00"/><stop offset="0.6395" stop-color="#788200"/><stop offset="0.6674" stop-color="#5d9d00"/><stop offset="0.6907" stop-color="#3bbf00"/><stop offset="0.7186" stop-color="#01fe00"/><stop offset="0.7628" stop-color="#00ff1a"/><stop offset="0.7791" stop-color="#00ff42"/><stop offset="0.807" stop-color="#00ffd4"/><stop offset="0.8186" stop-color="#00fff8"/><stop offset="0.8395" stop-color="#00faff"/><stop offset="0.8907" stop-color="#00f4ff"/><stop offset="0.9837" stop-color="#00f9ff"/><stop offset="1" stop-color="#00f9ff"/></linearGradient>
<linearGradient id="c60" x1="0" y1="0" x2="0" y2="1"><stop offset="0" stop-color="#00ff22"/><stop offset="0.09302" stop-color="#00ff22"/><stop offset="0.1349" stop-color="#00ff1e"/><stop offset="0.1558" stop-color="#00ff02"/><stop offset="0.1698" stop-color="#04fa00"/><stop offset="0.1837" stop-color="#31c900"/><stop offset="0.2" stop-color="#7f7b00"/><stop offset="0.2116" stop-color="#e01a00"/><stop offset="0.2163" stop-color="#f80500"/><stop offset="0.2186" stop-color="#ff0200"/><stop offset="0.2326" stop-color="#ff1f00"/><stop offset="0.2442" stop-color="#ff6500"/><stop offset="0.2558" stop-color="#ffb800"/><stop offset="0.2651" stop-color="#ffe900"/><stop offset="0.2744" stop-color="#ffff00"/><stop offset="0.3116" stop-color="#fffe00"/><stop offset="0.3233" stop-color="#ffd700"/><stop offset="0.3349" stop-color="#ff9e00"/><stop offset="0.3558" stop-color="#ff1a00"/><stop offset="0.3651" stop-color="#ff0300"/><stop offset="0.3791" stop-color="#fc0300"/><stop offset="0.4023" stop-color="#d42600"/><stop offset="0.4837" stop-color="#867400"/><stop offset="0.507" stop-color="#5d9d00"/><stop offset="0.5814" stop-color="#5b9f00"/><stop offset="0.6186" stop-color="#718900"/><stop offset="0.6395" stop-color="#7c7e00"/><stop offset="0.6837" stop-color="#48b200"/><stop offset="0.7163" stop-color="#01fd00"/><stop offset="0.7605" stop-color="#00ff1c"/><stop offset="0.7767" stop-color="#00ff40"/><stop offset="0.807" stop-color="#00ffd6"/><stop offset="0.8186" stop-color="#00fff9"/><stop offset="0.8349" stop-color="#00f7ff"/><stop offset="0.8744" stop-color="#00e6ff"/><stop offset="0.9605" stop-color="#00eeff"/><stop offset="1" stop-color="#00eeff"/></linearGradient>
<linearGradient id="c61" x1="0" y1="0" x2="0" y2="1"><stop offset="0" stop-color="#00ff23"/><stop offset="0.09302" stop-color="#00ff23"/><stop offset="0.1349" stop-color="#00ff1f"/><stop offset="0.1628" stop-color="#00ff01"/><stop offset="0.1698" stop-color="#0af300"/><stop offset="0.1837" stop-color="#3cbe00"/><stop offset="0.1977" stop-color="#7b7f00"/><stop offset="0.2093" stop-color="#db1f00"/><stop offset="0.2163" stop-color="#ff0000"/><stop offset="0.2279" stop-color="#ff1e00"/><stop offset="0.2419" stop-color="#ff7400"/><stop offset="0.2512" stop-color="#ffb600"/><stop offset="0.2651" stop-color="#fffe00"/><stop offset="0.3" stop-color="#ffff06"/><stop offset="0.314" stop-color="#ffff00"/><stop offset="0.3302" stop-color="#ffb900"/><stop offset="0.3465" stop-color="#ff5600"/><stop offset="0.3535" stop-color="#ff2400"/><stop offset="0.3628" stop-color="#ff0800"/><stop offset="0.3814" stop-color="#fb0300"/><stop offset="0.4" stop-color="#e01a00"/><stop offset="0.4395" stop-color="#b94100"/><stop offset="0.4814" stop-color="#916900"/><stop offset="0.507" stop-color="#609a00"/><stop offset="0.5581" stop-color="#5c9e00"/><stop offset="0.6349" stop-color="#887200"/><stop offset="0.6837" stop-color="#41b900"/><stop offset="0.7093" stop-color="#01fd00"/><stop offset="0.7465" stop-color="#00ff1f"/><stop offset="0.7651" stop-color="#00ff3e"/><stop offset="0.8" stop-color="#00ffcc"/><stop offset="0.8186" stop-color="#00fffd"/><stop offset="0.8674" stop-color="#00d6ff"/><stop offset="0.9372" stop-color="#00e2ff"/><stop offset="1" stop-color="#00e2ff"/></linearGradient>
<linearGradient id="c62" x1="0" y1="0" x2="0" y2="1"><stop offset="0" stop-color="#00ff27"/><stop offset="0.09302" stop-color="#00ff27"/><stop offset="0.1395" stop-color="#00ff23"/><stop offset="0.1674" stop-color="#03fc00"/><stop offset="0.1814" stop-color="#36c400"/><stop offset="0.1953" stop-color="#748600"/><stop offset="0.2023" stop-color="#a85200"/><stop offset="0.2093" stop-color="#e11900"/><stop offset="0.214" stop-color="#f90500"/><stop offset="0.2163" stop-color="#ff0400"/><stop offset="0.2279" stop-color="#ff2800"/><stop offset="0.2488" stop-color="#ffb600"/><stop offset="0.2628" stop-color="#ffff00"/><stop offset="0.2767" stop-color="#ffff0b"/><stop offset="0.314" stop-color="#ffff06"/><stop offset="0.3186" stop-color="#fffc00"/><stop offset="0.3372" stop-color="#ff9d00"/><stop offset="0.3558" stop-color="#ff1f00"/><stop offset="0.3651" stop-color="#ff0800"/><stop offset="0.3953" stop-color="#fa0300"/><stop offset="0.4209" stop-color="#d22800"/><stop offset="0.4814" stop-color="#9f5b00"/><stop offset="0.507" stop-color="#6c8e00"/><stop offset="0.5419" stop-color="#629800"/><stop offset="0.607" stop-color="#9e5c00"/><stop offset="0.6326" stop-color="#9b5f00"/><stop offset="0.6814" stop-color="#3dbd00"/><stop offset="0.7023" stop-color="#02fd00"/><stop offset="0.7349" stop-color="#00ff1f"/><stop offset="0.7512" stop-color="#00ff46"/><stop offset="0.7721" stop-color="#00ffa4"/><stop offset="0.7884" stop-color="#00ffd3"/><stop offset="0.814" stop-color="#00feff"/><stop offset="0.8581" stop-color="#00c8ff"/><stop offset="0.886" stop-color="#00c1ff"/><stop offset="0.9209" stop-color="#00d4ff"/><stop offset="1" stop-color="#00d4ff"/></linearGradient>
<linearGradient id="c63" x1="0" y1="0" x2="0" y2="1"><stop offset="0" stop-color="#00ff2d"/><stop offset="0.09302" stop-color="#00ff2d"/><stop offset="0.1419" stop-color="#00ff29"/><stop offset="0.1698" stop-color="#01fe00"/><stop offset="0.1907" stop-color="#639700"/><stop offset="0.1977" stop-color="#8f6b00"/><stop offset="0.207" stop-color="#e01a00"/><stop offset="0.2116" stop-color="#f90500"/><stop offset="0.2163" stop-color="#ff0c00"/><stop offset="0.2233" stop-color="#ff1f00"/><stop offset="0.2372" stop-color="#ff7b00"/><stop offset="0.2465" stop-color="#ffbf00"/><stop offset="0.2581" stop-color="#fffe00"/><stop offset="0.2721" stop-color="#ffff12"/><stop offset="0.3116" stop-color="#ffff0f"/><stop offset="0.3209" stop-color="#fffe00"/><stop offset="0.3372" stop-color="#ffa300"/><stop offset="0.3558" stop-color="#ff1f00"/><stop offset="0.3651" stop-color="#ff0900"/><stop offset="0.4" stop-color="#fd0200"/><stop offset="0.414" stop-color="#e11900"/><stop offset="0.4837" stop-color="#aa5000"/><stop offset="0.5093" stop-color="#758500"/><stop offset="0.5395" stop-color="#6b8f00"/><stop offset="0.5674" stop-color="#8d6d00"/><stop offset="0.5907" stop-color="#ae4c00"/><stop offset="0.6163" stop-color="#b64400"/><stop offset="0.6372" stop-color="#a45600"/><stop offset="0.6814" stop-color="#3ebc00"/><stop offset="0.7023" stop-color="#00ff00"/><stop offset="0.7302" stop-color="#00ff1e"/><stop offset="0.7442" stop-color="#00ff41"/><stop offset="0.7674" stop-color="#00ffb5"/><stop offset="0.7791" stop-color="#00ffd6"/><stop offset="0.8047" stop-color="#00feff"/><stop offset="0.8512" stop-color="#00b2ff"/><stop offset="0.8814" stop-color="#00a5ff"/><stop offset="0.9" stop-color="#00b4ff"/><stop offset="0.9163" stop-color="#00c4ff"/><stop offset="1" stop-color="#00c4ff"/></linearGradient>
<linearGradient id="c64" x1="0" y1="0" x2="0" y2="1"><stop offset="0" stop-color="#00ff34"/><stop offset="0.09302" stop-color="#00ff34"/><stop offset="0.1465" stop-color="#00ff30"/><stop offset="0.1605" stop-color="#00ff16"/><stop offset="0.1721" stop-color="#02fd00"/><stop offset="0.1814" stop-color="#31c900"/><stop offset="0.1953" stop-color="#8a7000"/><stop offset="0.2047" stop-color="#e11900"/><stop offset="0.2093" stop-color="#fc0200"/><stop offset="0.2209" stop-color="#ff2700"/><stop offset="0.2349" stop-color="#ff8a00"/><stop offset="0.2442" stop-color="#ffce00"/><stop offset="0.2535" stop-color="#ffff01"/><stop offset="0.2674" stop-color="#ffff19"/><stop offset="0.3116" stop-color="#ffff17"/><stop offset="0.3233" stop-color="#fffb00"/><stop offset="0.3372" stop-color="#ffa500"/><stop offset="0.3558" stop-color="#ff1f00"/><stop offset="0.3651" stop-color="#ff0d00"/><stop offset="0.4" stop-color="#ff0600"/><stop offset="0.4047" stop-color="#ff0000"/><stop offset="0.4186" stop-color="#e61400"/><stop offset="0.4837" stop-color="#b84200"/><stop offset="0.4977" stop-color="#9e5c00"/><stop offset="0.5093" stop-color="#827800"/><stop offset="0.5372" stop-color="#748600"/><stop offset="0.5605" stop-color="#906a00"/><stop offset="0.586" stop-color="#b84200"/><stop offset="0.6116" stop-color="#c63400"/><stop offset="0.6372" stop-color="#b14900"/><stop offset="0.6558" stop-color="#857500"/><stop offset="0.6837" stop-color="#3cbe00"/><stop offset="0.7023" stop-color="#01fe00"/><stop offset="0.7302" stop-color="#00ff21"/><stop offset="0.7419" stop-color="#00ff41"/><stop offset="0.7628" stop-color="#00ffaf"/><stop offset="0.7744" stop-color="#00ffd5"/><stop offset="0.8" stop-color="#00fcff"/><stop offset="0.8442" stop-color="#009bff"/><stop offset="0.8651" stop-color="#0090ff"/><stop offset="0.893" stop-color="#0094ff"/><stop offset="0.9163" stop-color="#00b0ff"/><stop offset="1" stop-color="#00b1ff"/></linearGradient>
<linearGradient id="c65" x1="0" y1="0" x2="0" y2="1"><stop offset="0" stop-color="#00ff3c"/><stop offset="0.09302" stop-color="#00ff3c"/><stop offset="0.1488" stop-color="#00ff38"/><stop offset="0.1605" stop-color="#00ff21"/><stop offset="0.1744" stop-color="#03fc00"/><stop offset="0.1837" stop-color="#3cbe00"/><stop offset="0.1953" stop-color="#916900"/><stop offset="0.2023" stop-color="#da2000"/><stop offset="0.207" stop-color="#f90400"/><stop offset="0.2116" stop-color="#ff1000"/><stop offset="0.2163" stop-color="#ff2100"/><stop offset="0.2395" stop-color="#ffcd00"/><stop offset="0.2465" stop-color="#fff700"/><stop offset="0.2512" stop-color="#ffff09"/><stop offset="0.2651" stop-color="#ffff21"/><stop offset="0.3093" stop-color="#ffff20"/><stop offset="0.3233" stop-color="#ffff01"/><stop offset="0.3395" stop-color="#ff9200"/><stop offset="0.3535" stop-color="#ff3400"/><stop offset="0.3581" stop-color="#ff1f00"/><stop offset="0.3744" stop-color="#ff1700"/><stop offset="0.4047" stop-color="#ff1100"/><stop offset="0.4419" stop-color="#fb0300"/><stop offset="0.4907" stop-color="#c13900"/><stop offset="0.5093" stop-color="#8f6b00"/><stop offset="0.5372" stop-color="#7c7e00"/><stop offset="0.5605" stop-color="#9a6000"/><stop offset="0.5884" stop-color="#c53500"/><stop offset="0.6163" stop-color="#cc2e00"/><stop offset="0.6395" stop-color="#b64400"/><stop offset="0.6558" stop-color="#8e6c00"/><stop offset="0.6837" stop-color="#3ebc00"/><stop offset="0.7023" stop-color="#00ff00"/><stop offset="0.7279" stop-color="#00ff1f"/><stop offset="0.7395" stop-color="#00ff3f"/><stop offset="0.7581" stop-color="#00ffa4"/><stop offset="0.7698" stop-color="#00ffd0"/><stop offset="0.7953" stop-color="#00ffff"/><stop offset="0.8372" stop-color="#0094ff"/><stop offset="0.8558" stop-color="#0083ff"/><stop offset="0.893" stop-color="#0087ff"/><stop offset="0.9209" stop-color="#00a6ff"/><stop offset="1" stop-color="#00a7ff"/></linearGradient>
<linearGradient id="c66" x1="0" y1="0" x2="0" y2="1"><stop offset="0" stop-color="#00ff47"/><stop offset="0.09302" stop-color="#00ff47"/><stop offset="0.1488" stop-color="#00ff44"/><stop offset="0.1605" stop-color="#00ff30"/><stop offset="0.1767" stop-color="#01fe00"/><stop offset="0.1837" stop-color="#2cce00"/><stop offset="0.1953" stop-color="#8b6f00"/><stop offset="0.2023" stop-color="#dd1d00"/><stop offset="0.207" stop-color="#ff0000"/><stop offset="0.214" stop-color="#ff2000"/><stop offset="0.2349" stop-color="#ffc400"/><stop offset="0.2442" stop-color="#ffff00"/><stop offset="0.2628" stop-color="#ffff2b"/><stop offset="0.2744" stop-color="#ffff33"/><stop offset="0.307" stop-color="#ffff2e"/><stop offset="0.3256" stop-color="#fffb00"/><stop offset="0.3465" stop-color="#ff6700"/><stop offset="0.3558" stop-color="#ff3d00"/><stop offset="0.3674" stop-color="#ff2e00"/><stop offset="0.4093" stop-color="#ff2600"/><stop offset="0.4558" stop-color="#ff0e00"/><stop offset="0.4674" stop-color="#ff0000"/><stop offset="0.4953" stop-color="#c53500"/><stop offset="0.5093" stop-color="#996100"/><stop offset="0.5372" stop-color="#827800"/><stop offset="0.5605" stop-color="#9f5b00"/><stop offset="0.586" stop-color="#c73300"/><stop offset="0.614" stop-color="#d02a00"/><stop offset="0.6395" stop-color="#bb3f00"/><stop offset="0.6558" stop-color="#956500"/><stop offset="0.686" stop-color="#37c300"/><stop offset="0.7023" stop-color="#00ff01"/><stop offset="0.7256" stop-color="#00ff1b"/><stop offset="0.7395" stop-color="#00ff44"/><stop offset="0.7581" stop-color="#00ffa9"/><stop offset="0.7698" stop-color="#00ffd2"/><stop offset="0.793" stop-color="#00fffd"/><stop offset="0.8163" stop-color="#00c4ff"/><stop offset="0.8326" stop-color="#0093ff"/><stop offset="0.8512" stop-color="#007dff"/><stop offset="0.8953" stop-color="#007eff"/><stop offset="0.9279" stop-color="#00a2ff"/><stop offset="1" stop-color="#00a3ff"/></linearGradient>
<linearGradient id="c67" x1="0" y1="0" x2="0" y2="1"><stop offset="0" stop-color="#00ff55"/><stop offset="0.09302" stop-color="#00ff58"/><stop offset="0.1488" stop-color="#00ff57"/><stop offset="0.1581" stop-color="#00ff47"/><stop offset="0.1767" stop-color="#00ff07"/><stop offset="0.1791" stop-color="#01fe00"/><stop offset="0.186" stop-color="#2ecc00"/><stop offset="0.1953" stop-color="#857500"/><stop offset="0.2023" stop-color="#e01a00"/><stop offset="0.2047" stop-color="#f20a00"/><stop offset="0.207" stop-color="#ff0400"/><stop offset="0.214" stop-color="#ff2a00"/><stop offset="0.2326" stop-color="#ffbf00"/><stop offset="0.2419" stop-color="#fffd00"/><stop offset="0.2558" stop-color="#ffff27"/><stop offset="0.2628" stop-color="#ffff44"/><stop offset="0.3023" stop-color="#ffff48"/><stop offset="0.3093" stop-color="#ffff40"/><stop offset="0.314" stop-color="#ffff28"/><stop offset="0.3256" stop-color="#ffff05"/><stop offset="0.3279" stop-color="#fff700"/><stop offset="0.3465" stop-color="#ff7300"/><stop offset="0.3535" stop-color="#ff5400"/><stop offset="0.3651" stop-color="#ff4100"/><stop offset="0.4349" stop-color="#ff3800"/><stop offset="0.4791" stop-color="#fb0300"/><stop offset="0.4953" stop-color="#cf2b00"/><stop offset="0.5093" stop-color="#9d5d00"/><stop offset="0.5372" stop-color="#827800"/><stop offset="0.5581" stop-color="#986200"/><stop offset="0.586" stop-color="#c73300"/><stop offset="0.614" stop-color="#d02a00"/><stop offset="0.6395" stop-color="#be3c00"/><stop offset="0.6558" stop-color="#9b5f00"/><stop offset="0.686" stop-color="#3dbd00"/><stop offset="0.7023" stop-color="#01fd00"/><stop offset="0.7279" stop-color="#00ff21"/><stop offset="0.7395" stop-color="#00ff45"/><stop offset="0.7581" stop-color="#00ffaa"/><stop offset="0.7674" stop-color="#00ffce"/><stop offset="0.793" stop-color="#00ffff"/><stop offset="0.8186" stop-color="#00b7ff"/><stop offset="0.8326" stop-color="#008eff"/><stop offset="0.8512" stop-color="#0077ff"/><stop offset="0.8977" stop-color="#0078ff"/><stop offset="0.9326" stop-color="#00a0ff"/><stop offset="1" stop-color="#00a1ff"/></linearGradient>
<linearGradient id="c68" x1="0" y1="0" x2="0" y2="1"><stop offset="0" stop-color="#00ff60"/><stop offset="0.08837" stop-color="#00ff66"/><stop offset="0.1395" stop-color="#00ff6d"/><stop offset="0.1558" stop-color="#00ff5f"/><stop offset="0.1767" stop-color="#00ff0d"/><stop offset="0.1814" stop-color="#05fa00"/><stop offset="0.1884" stop-color="#39c100"/><stop offset="0.1953" stop-color="#807a00"/><stop offset="0.2023" stop-color="#df1b00"/><stop offset="0.2047" stop-color="#f20a00"/><stop offset="0.207" stop-color="#ff0500"/><stop offset="0.214" stop-color="#ff2e00"/><stop offset="0.2302" stop-color="#ffb400"/><stop offset="0.2419" stop-color="#ffff02"/><stop offset="0.2535" stop-color="#ffff27"/><stop offset="0.2581" stop-color="#ffff47"/><stop offset="0.2651" stop-color="#ffff57"/><stop offset="0.307" stop-color="#ffff56"/><stop offset="0.3116" stop-color="#ffff4b"/><stop offset="0.3186" stop-color="#ffff24"/><stop offset="0.3279" stop-color="#ffff03"/><stop offset="0.3326" stop-color="#ffe200"/><stop offset="0.3488" stop-color="#ff7300"/><stop offset="0.3581" stop-color="#ff5000"/><stop offset="0.3698" stop-color="#ff4400"/><stop offset="0.4395" stop-color="#ff3f00"/><stop offset="0.4581" stop-color="#ff2500"/><stop offset="0.4814" stop-color="#fe0000"/><stop offset="0.493" stop-color="#d92100"/><stop offset="0.507" stop-color="#a05a00"/><stop offset="0.5256" stop-color="#847600"/><stop offset="0.5419" stop-color="#7d7d00"/><stop offset="0.5651" stop-color="#9c5e00"/><stop offset="0.586" stop-color="#c33700"/><stop offset="0.6116" stop-color="#ce2c00"/><stop offset="0.6372" stop-color="#bf3b00"/><stop offset="0.6558" stop-color="#9c5e00"/><stop offset="0.6884" stop-color="#38c200"/><stop offset="0.7047" stop-color="#00ff01"/><stop offset="0.7279" stop-color="#00ff21"/><stop offset="0.7395" stop-color="#00ff46"/><stop offset="0.7581" stop-color="#00ffac"/><stop offset="0.7674" stop-color="#00ffd1"/><stop offset="0.7907" stop-color="#00fffe"/><stop offset="0.814" stop-color="#00c2ff"/><stop offset="0.8302" stop-color="#008eff"/><stop offset="0.8488" stop-color="#0074ff"/><stop offset="0.9" stop-color="#0074ff"/><stop offset="0.9395" stop-color="#00a0ff"/><stop offset="1" stop-color="#00a1ff"/></linearGradient>
<linearGradient id="c69" x1="0" y1="0" x2="0" y2="1"><stop offset="0" stop-color="#00ff63"/><stop offset="0.08372" stop-color="#00ff69"/><stop offset="0.1395" stop-color="#00ff73"/><stop offset="0.1558" stop-color="#00ff62"/><stop offset="0.1767" stop-color="#00ff0f"/><stop offset="0.1814" stop-color="#00ff00"/><stop offset="0.1884" stop-color="#32c800"/><stop offset="0.1953" stop-color="#7d7d00"/><stop offset="0.2023" stop-color="#df1b00"/><stop offset="0.2047" stop-color="#f20a00"/><stop offset="0.207" stop-color="#ff0600"/><stop offset="0.2116" stop-color="#ff1e00"/><stop offset="0.2302" stop-color="#ffb600"/><stop offset="0.2395" stop-color="#fff500"/><stop offset="0.2419" stop-color="#ffff03"/><stop offset="0.2535" stop-color="#ffff2f"/><stop offset="0.2581" stop-color="#ffff50"/><stop offset="0.2651" stop-color="#ffff5f"/><stop offset="0.3093" stop-color="#ffff5c"/><stop offset="0.314" stop-color="#ffff4d"/><stop offset="0.3186" stop-color="#ffff2c"/><stop offset="0.3302" stop-color="#ffff01"/><stop offset="0.3488" stop-color="#ff7b00"/><stop offset="0.3581" stop-color="#ff5100"/><stop offset="0.3674" stop-color="#ff3d00"/><stop offset="0.4465" stop-color="#ff3500"/><stop offset="0.4814" stop-color="#ff0100"/><stop offset="0.4907" stop-color="#e21800"/><stop offset="0.507" stop-color="#9a6000"/><stop offset="0.5256" stop-color="#7c7e00"/><stop offset="0.5419" stop-color="#758500"/><stop offset="0.5628" stop-color="#8d6d00"/><stop offset="0.586" stop-color="#bc3e00"/><stop offset="0.6093" stop-color="#cb2f00"/><stop offset="0.6349" stop-color="#c23800"/><stop offset="0.6558" stop-color="#a35700"/><stop offset="0.6907" stop-color="#39c100"/><stop offset="0.707" stop-color="#00ff01"/><stop offset="0.7279" stop-color="#00ff1d"/><stop offset="0.7395" stop-color="#00ff41"/><stop offset="0.7581" stop-color="#00ffab"/><stop offset="0.7674" stop-color="#00ffd1"/><stop offset="0.786" stop-color="#00fff8"/><stop offset="0.793" stop-color="#00f9ff"/><stop offset="0.8302" stop-color="#008bff"/><stop offset="0.8488" stop-color="#006eff"/><stop offset="0.9047" stop-color="#006fff"/><stop offset="0.9442" stop-color="#00a1ff"/><stop offset="1" stop-color="#00a2ff"/></linearGradient>
<linearGradient id="c70" x1="0" y1="0" x2="0" y2="1"><stop offset="0" stop-color="#00ff5a"/><stop offset="0.09302" stop-color="#00ff5f"/><stop offset="0.1442" stop-color="#00ff62"/><stop offset="0.1535" stop-color="#00ff58"/><stop offset="0.1744" stop-color="#00ff0e"/><stop offset="0.1791" stop-color="#00ff01"/><stop offset="0.186" stop-color="#2bcf00"/><stop offset="0.1953" stop-color="#8a7000"/><stop offset="0.2" stop-color="#cd2d00"/><stop offset="0.2023" stop-color="#e61400"/><stop offset="0.2047" stop-color="#fa0400"/><stop offset="0.2116" stop-color="#ff2400"/><stop offset="0.2302" stop-color="#ffbd00"/><stop offset="0.2395" stop-color="#fffb00"/><stop offset="0.2512" stop-color="#ffff24"/><stop offset="0.2581" stop-color="#ffff4e"/><stop offset="0.2651" stop-color="#ffff5a"/><stop offset="0.3093" stop-color="#ffff58"/><stop offset="0.314" stop-color="#ffff4d"/><stop offset="0.3209" stop-color="#ffff24"/><stop offset="0.3302" stop-color="#ffff04"/><stop offset="0.3326" stop-color="#fff500"/><stop offset="0.3512" stop-color="#ff7000"/><stop offset="0.3628" stop-color="#ff3300"/><stop offset="0.3698" stop-color="#ff2300"/><stop offset="0.4581" stop-color="#ff1b00"/><stop offset="0.4814" stop-color="#fd0100"/><stop offset="0.493" stop-color="#d82200"/><stop offset="0.507" stop-color="#916900"/><stop offset="0.5209" stop-color="#778300"/><stop offset="0.5395" stop-color="#6c8e00"/><stop offset="0.5628" stop-color="#837700"/><stop offset="0.586" stop-color="#b34700"/><stop offset="0.6093" stop-color="#c93100"/><stop offset="0.6372" stop-color="#c63400"/><stop offset="0.6581" stop-color="#ad4d00"/><stop offset="0.6953" stop-color="#3dbd00"/><stop offset="0.7116" stop-color="#00ff00"/><stop offset="0.7326" stop-color="#00ff20"/><stop offset="0.7419" stop-color="#00ff3e"/><stop offset="0.7581" stop-color="#00ffa3"/><stop offset="0.7674" stop-color="#00ffcd"/><stop offset="0.786" stop-color="#00fff7"/><stop offset="0.793" stop-color="#00f9ff"/><stop offset="0.8302" stop-color="#008bff"/><stop offset="0.8535" stop-color="#0066ff"/><stop offset="0.907" stop-color="#0065ff"/><stop offset="0.9535" stop-color="#00a4ff"/><stop offset="1" stop-color="#00a5ff"/></linearGradient>
<linearGradient id="c71" x1="0" y1="0" x2="0" y2="1"><stop offset="0" stop-color="#00ff44"/><stop offset="0.09302" stop-color="#00ff45"/><stop offset="0.1488" stop-color="#00ff44"/><stop offset="0.1605" stop-color="#00ff2e"/><stop offset="0.1744" stop-color="#00ff06"/><stop offset="0.1767" stop-color="#00ff00"/><stop offset="0.186" stop-color="#39c100"/><stop offset="0.193" stop-color="#788200"/><stop offset="0.2" stop-color="#d42600"/><stop offset="0.2047" stop-color="#fd0200"/><stop offset="0.2116" stop-color="#ff2500"/><stop offset="0.2302" stop-color="#ffbd00"/><stop offset="0.2395" stop-color="#fffc00"/><stop offset="0.2535" stop-color="#ffff28"/><stop offset="0.2581" stop-color="#ffff42"/><stop offset="0.2674" stop-color="#ffff4e"/><stop offset="0.3116" stop-color="#ffff4a"/><stop offset="0.3302" stop-color="#ffff05"/><stop offset="0.3326" stop-color="#fff700"/><stop offset="0.3558" stop-color="#ff4c00"/><stop offset="0.3628" stop-color="#ff2100"/><stop offset="0.3744" stop-color="#ff1300"/><stop offset="0.4651" stop-color="#ff0e00"/><stop offset="0.4791" stop-color="#fd0200"/><stop offset="0.493" stop-color="#d62400"/><stop offset="0.507" stop-color="#8d6d00"/><stop offset="0.5186" stop-color="#748600"/><stop offset="0.5395" stop-color="#659500"/><stop offset="0.5628" stop-color="#7b7f00"/><stop offset="0.5907" stop-color="#b24800"/><stop offset="0.6186" stop-color="#cc2e00"/><stop offset="0.6512" stop-color="#c43600"/><stop offset="0.6698" stop-color="#a55500"/><stop offset="0.7023" stop-color="#3cbe00"/><stop offset="0.7186" stop-color="#00ff00"/><stop offset="0.7372" stop-color="#00ff1f"/><stop offset="0.7465" stop-color="#00ff41"/><stop offset="0.7605" stop-color="#00ffa2"/><stop offset="0.7698" stop-color="#00ffce"/><stop offset="0.7884" stop-color="#00fff9"/><stop offset="0.7953" stop-color="#00f5ff"/><stop offset="0.8302" stop-color="#008bff"/><stop offset="0.8535" stop-color="#0061ff"/><stop offset="0.8767" stop-color="#0058ff"/><stop offset="0.914" stop-color="#005dff"/><stop offset="0.9581" stop-color="#00a4ff"/><stop offset="1" stop-color="#00a6ff"/></linearGradient>
<linearGradient id="c72" x1="0" y1="0" x2="0" y2="1"><stop offset="0" stop-color="#00ff2c"/><stop offset="0.09302" stop-color="#00ff2c"/><stop offset="0.1535" stop-color="#00ff27"/><stop offset="0.1744" stop-color="#00ff00"/><stop offset="0.1837" stop-color="#2bcf00"/><stop offset="0.1953" stop-color="#857500"/><stop offset="0.2023" stop-color="#d92100"/><stop offset="0.207" stop-color="#fe0100"/><stop offset="0.214" stop-color="#ff2500"/><stop offset="0.2326" stop-color="#ffbe00"/><stop offset="0.2419" stop-color="#fffb00"/><stop offset="0.2651" stop-color="#ffff36"/><stop offset="0.3093" stop-color="#ffff35"/><stop offset="0.3256" stop-color="#ffff11"/><stop offset="0.3302" stop-color="#ffff01"/><stop offset="0.3605" stop-color="#ff2200"/><stop offset="0.3698" stop-color="#ff0f00"/><stop offset="0.4628" stop-color="#ff0b00"/><stop offset="0.4767" stop-color="#fe0100"/><stop offset="0.4953" stop-color="#ca3000"/><stop offset="0.5116" stop-color="#837700"/><stop offset="0.5302" stop-color="#699100"/><stop offset="0.5465" stop-color="#669400"/><stop offset="0.5674" stop-color="#7f7b00"/><stop offset="0.593" stop-color="#b24800"/><stop offset="0.6186" stop-color="#cd2d00"/><stop offset="0.6512" stop-color="#cd2d00"/><stop offset="0.6698" stop-color="#b84200"/><stop offset="0.6837" stop-color="#936700"/><stop offset="0.7116" stop-color="#3ac000"/><stop offset="0.7256" stop-color="#04fa00"/><stop offset="0.7395" stop-color="#00ff14"/><stop offset="0.7512" stop-color="#00ff3c"/><stop offset="0.7651" stop-color="#00ffa5"/><stop offset="0.7721" stop-color="#00ffcb"/><stop offset="0.7884" stop-color="#00fff5"/><stop offset="0.7953" stop-color="#00fcff"/><stop offset="0.8209" stop-color="#00aeff"/><stop offset="0.8349" stop-color="#0083ff"/><stop offset="0.8558" stop-color="#0056ff"/><stop offset="0.8791" stop-color="#004dff"/><stop offset="0.9186" stop-color="#0051ff"/><stop offset="0.9628" stop-color="#009fff"/><stop offset="1" stop-color="#00a2ff"/></linearGradient>
<linearGradient id="c73" x1="0" y1="0" x2="0" y2="1"><stop offset="0" stop-color="#00ff16"/><stop offset="0.09302" stop-color="#00ff16"/><stop offset="0.1558" stop-color="#00ff14"/><stop offset="0.1744" stop-color="#00ff00"/><stop offset="0.1884" stop-color="#38c200"/><stop offset="0.1977" stop-color="#708a00"/><stop offset="0.2023" stop-color="#9c5e00"/><stop offset="0.207" stop-color="#d32700"/><stop offset="0.2116" stop-color="#f80600"/><stop offset="0.214" stop-color="#ff0800"/><stop offset="0.2186" stop-color="#ff1e00"/><stop offset="0.2372" stop-color="#ffb700"/><stop offset="0.2488" stop-color="#ffff01"/><stop offset="0.2651" stop-color="#ffff22"/><stop offset="0.314" stop-color="#ffff22"/><stop offset="0.3256" stop-color="#ffff0e"/><stop offset="0.3302" stop-color="#ffff00"/><stop offset="0.3605" stop-color="#ff2100"/><stop offset="0.3698" stop-color="#ff0c00"/><stop offset="0.4628" stop-color="#ff0700"/><stop offset="0.4767" stop-color="#fe0100"/><stop offset="0.4977" stop-color="#c03a00"/><stop offset="0.514" stop-color="#867400"/><stop offset="0.5302" stop-color="#6d8d00"/><stop offset="0.5488" stop-color="#679300"/><stop offset="0.5698" stop-color="#807a00"/><stop offset="0.5977" stop-color="#b84200"/><stop offset="0.6256" stop-color="#d42600"/><stop offset="0.6581" stop-color="#d02a00"/><stop offset="0.6791" stop-color="#b84200"/><stop offset="0.6953" stop-color="#8a7000"/><stop offset="0.7209" stop-color="#38c200"/><stop offset="0.7349" stop-color="#02fd00"/><stop offset="0.7488" stop-color="#00ff18"/><stop offset="0.7581" stop-color="#00ff40"/><stop offset="0.7698" stop-color="#00ffa4"/><stop offset="0.7767" stop-color="#00ffcd"/><stop offset="0.7907" stop-color="#00fff3"/><stop offset="0.7977" stop-color="#00fdff"/><stop offset="0.8233" stop-color="#00aeff"/><stop offset="0.8488" stop-color="#005dff"/><stop offset="0.8628" stop-color="#0046ff"/><stop offset="0.9209" stop-color="#0045ff"/><stop offset="0.9419" stop-color="#0068ff"/><stop offset="0.9651" stop-color="#0097ff"/><stop offset="1" stop-color="#009cff"/></linearGradient>
<linearGradient id="c74" x1="0" y1="0" x2="0" y2="1"><stop offset="0" stop-color="#00ff0f"/><stop offset="0.09302" stop-color="#00ff0f"/><stop offset="0.1442" stop-color="#00ff18"/><stop offset="0.1651" stop-color="#00ff0d"/><stop offset="0.1767" stop-color="#00ff00"/><stop offset="0.1907" stop-color="#2fcb00"/><stop offset="0.2023" stop-color="#6e8c00"/><stop offset="0.207" stop-color="#946600"/><stop offset="0.214" stop-color="#df1b00"/><stop offset="0.2186" stop-color="#ff0000"/><stop offset="0.2256" stop-color="#ff2500"/><stop offset="0.2442" stop-color="#ffbd00"/><stop offset="0.2558" stop-color="#ffff01"/><stop offset="0.2698" stop-color="#ffff1b"/><stop offset="0.314" stop-color="#ffff1b"/><stop offset="0.3279" stop-color="#ffff06"/><stop offset="0.3302" stop-color="#ffff00"/><stop offset="0.3442" stop-color="#ffa000"/><stop offset="0.3558" stop-color="#ff4600"/><stop offset="0.3628" stop-color="#ff1d00"/><stop offset="0.3744" stop-color="#ff0700"/><stop offset="0.4419" stop-color="#fb0300"/><stop offset="0.4791" stop-color="#ee0d00"/><stop offset="0.4953" stop-color="#ce2c00"/><stop offset="0.5233" stop-color="#837700"/><stop offset="0.5442" stop-color="#6b8f00"/><stop offset="0.5651" stop-color="#758500"/><stop offset="0.607" stop-color="#c43600"/><stop offset="0.6349" stop-color="#d82200"/><stop offset="0.6674" stop-color="#d12900"/><stop offset="0.6884" stop-color="#b84200"/><stop offset="0.7279" stop-color="#40ba00"/><stop offset="0.7442" stop-color="#00ff01"/><stop offset="0.7558" stop-color="#00ff19"/><stop offset="0.7628" stop-color="#00ff39"/><stop offset="0.7767" stop-color="#00ffae"/><stop offset="0.7837" stop-color="#00ffd5"/><stop offset="0.7977" stop-color="#00fffb"/><stop offset="0.8047" stop-color="#00f1ff"/><stop offset="0.8535" stop-color="#004dff"/><stop offset="0.8674" stop-color="#0039ff"/><stop offset="0.9233" stop-color="#0039ff"/><stop offset="0.9442" stop-color="#005bff"/><stop offset="0.9674" stop-color="#0090ff"/><stop offset="0.9884" stop-color="#0097ff"/><stop offset="1" stop-color="#0097ff"/></linearGradient>
<linearGradient id="c75" x1="0" y1="0" x2="0" y2="1"><stop offset="0" stop-color="#00ff0d"/><stop offset="0.09302" stop-color="#00ff0d"/><stop offset="0.1116" stop-color="#00ff17"/><stop offset="0.1256" stop-color="#00ff25"/><stop offset="0.1581" stop-color="#00ff22"/><stop offset="0.1814" stop-color="#01fe00"/><stop offset="0.1953" stop-color="#31c900"/><stop offset="0.2093" stop-color="#7f7b00"/><stop offset="0.2186" stop-color="#da2000"/><stop offset="0.2233" stop-color="#fa0400"/><stop offset="0.2279" stop-color="#ff1400"/><stop offset="0.2326" stop-color="#ff3000"/><stop offset="0.2488" stop-color="#ffb600"/><stop offset="0.2605" stop-color="#fff900"/><stop offset="0.2674" stop-color="#ffff0c"/><stop offset="0.2814" stop-color="#ffff19"/><stop offset="0.3163" stop-color="#ffff15"/><stop offset="0.3302" stop-color="#fffc00"/><stop offset="0.3442" stop-color="#ffa500"/><stop offset="0.3605" stop-color="#ff2700"/><stop offset="0.3674" stop-color="#ff1200"/><stop offset="0.386" stop-color="#ff0300"/><stop offset="0.4116" stop-color="#f70600"/><stop offset="0.4907" stop-color="#d62400"/><stop offset="0.5093" stop-color="#ba4000"/><stop offset="0.5395" stop-color="#7c7e00"/><stop offset="0.5605" stop-color="#738700"/><stop offset="0.5744" stop-color="#807a00"/><stop offset="0.6093" stop-color="#c63400"/><stop offset="0.6349" stop-color="#db1f00"/><stop offset="0.6744" stop-color="#d42600"/><stop offset="0.6953" stop-color="#bb3f00"/><stop offset="0.7326" stop-color="#4cae00"/><stop offset="0.7512" stop-color="#00ff01"/><stop offset="0.7628" stop-color="#00ff1e"/><stop offset="0.7698" stop-color="#00ff40"/><stop offset="0.7814" stop-color="#00ffa8"/><stop offset="0.786" stop-color="#00ffc9"/><stop offset="0.7977" stop-color="#00fff3"/><stop offset="0.8047" stop-color="#00faff"/><stop offset="0.8558" stop-color="#0044ff"/><stop offset="0.8674" stop-color="#002fff"/><stop offset="0.9279" stop-color="#002fff"/><stop offset="0.9512" stop-color="#005aff"/><stop offset="0.9698" stop-color="#0089ff"/><stop offset="0.9837" stop-color="#0094ff"/><stop offset="1" stop-color="#0094ff"/></linearGradient>
<linearGradient id="c76" x1="0" y1="0" x2="0" y2="1"><stop offset="0" stop-color="#00ff13"/><stop offset="0.09302" stop-color="#00ff13"/><stop offset="0.1093" stop-color="#00ff1b"/><stop offset="0.1256" stop-color="#00ff2e"/><stop offset="0.1605" stop-color="#00ff2b"/><stop offset="0.186" stop-color="#04fb00"/><stop offset="0.2" stop-color="#36c400"/><stop offset="0.2116" stop-color="#728800"/><stop offset="0.2186" stop-color="#b04a00"/><stop offset="0.2233" stop-color="#de1c00"/><stop offset="0.2279" stop-color="#fc0200"/><stop offset="0.2349" stop-color="#ff1e00"/><stop offset="0.2535" stop-color="#ffb500"/><stop offset="0.2651" stop-color="#fff700"/><stop offset="0.2674" stop-color="#ffff01"/><stop offset="0.2814" stop-color="#ffff13"/><stop offset="0.3186" stop-color="#ffff10"/><stop offset="0.3279" stop-color="#ffff02"/><stop offset="0.3349" stop-color="#ffdf00"/><stop offset="0.3465" stop-color="#ff9300"/><stop offset="0.3628" stop-color="#ff1f00"/><stop offset="0.3744" stop-color="#ff0900"/><stop offset="0.407" stop-color="#fc0300"/><stop offset="0.4535" stop-color="#e41600"/><stop offset="0.5047" stop-color="#ce2c00"/><stop offset="0.5488" stop-color="#807a00"/><stop offset="0.5698" stop-color="#7e7c00"/><stop offset="0.586" stop-color="#9a6000"/><stop offset="0.614" stop-color="#cd2d00"/><stop offset="0.6395" stop-color="#de1c00"/><stop offset="0.6791" stop-color="#d72300"/><stop offset="0.7023" stop-color="#bb3f00"/><stop offset="0.7395" stop-color="#4baf00"/><stop offset="0.7535" stop-color="#0def00"/><stop offset="0.7558" stop-color="#02fc00"/><stop offset="0.7674" stop-color="#00ff1e"/><stop offset="0.7744" stop-color="#00ff41"/><stop offset="0.786" stop-color="#00ffab"/><stop offset="0.793" stop-color="#00ffd6"/><stop offset="0.8047" stop-color="#00fffb"/><stop offset="0.814" stop-color="#00e5ff"/><stop offset="0.8558" stop-color="#0042ff"/><stop offset="0.8674" stop-color="#0027ff"/><stop offset="0.914" stop-color="#0022ff"/><stop offset="0.9349" stop-color="#0029ff"/><stop offset="0.9535" stop-color="#0050ff"/><stop offset="0.9698" stop-color="#0080ff"/><stop offset="0.9837" stop-color="#0090ff"/><stop offset="1" stop-color="#0091ff"/></linearGradient>
<linearGradient id="c77" x1="0" y1="0" x2="0" y2="1"><stop offset="0" stop-color="#00ff24"/><stop offset="0.09302" stop-color="#00ff24"/><stop offset="0.1372" stop-color="#00ff33"/><stop offset="0.1605" stop-color="#00ff2f"/><stop offset="0.186" stop-color="#00ff02"/><stop offset="0.1907" stop-color="#09f400"/><stop offset="0.2023" stop-color="#30ca00"/><stop offset="0.2163" stop-color="#7b7f00"/><stop offset="0.2256" stop-color="#d52500"/><stop offset="0.2302" stop-color="#f50700"/><stop offset="0.2326" stop-color="#ff0500"/><stop offset="0.2395" stop-color="#ff2700"/><stop offset="0.2581" stop-color="#ffbc00"/><stop offset="0.2698" stop-color="#fff900"/><stop offset="0.2767" stop-color="#ffff09"/><stop offset="0.3" stop-color="#ffff11"/><stop offset="0.3209" stop-color="#ffff09"/><stop offset="0.3279" stop-color="#fffc00"/><stop offset="0.3419" stop-color="#ffb300"/><stop offset="0.3605" stop-color="#ff2d00"/><stop offset="0.3651" stop-color="#ff1a00"/><stop offset="0.3791" stop-color="#ff0900"/><stop offset="0.4279" stop-color="#fc0200"/><stop offset="0.4837" stop-color="#e41600"/><stop offset="0.507" stop-color="#d92100"/><stop offset="0.5535" stop-color="#8a7000"/><stop offset="0.5674" stop-color="#897100"/><stop offset="0.586" stop-color="#a15900"/><stop offset="0.614" stop-color="#d12900"/><stop offset="0.6349" stop-color="#e11900"/><stop offset="0.6791" stop-color="#dd1d00"/><stop offset="0.707" stop-color="#be3c00"/><stop offset="0.7233" stop-color="#906a00"/><stop offset="0.7465" stop-color="#43b700"/><stop offset="0.7605" stop-color="#00ff01"/><stop offset="0.7721" stop-color="#00ff24"/><stop offset="0.7767" stop-color="#00ff3c"/><stop offset="0.7907" stop-color="#00ffb6"/><stop offset="0.7953" stop-color="#00ffd3"/><stop offset="0.807" stop-color="#00fffa"/><stop offset="0.8116" stop-color="#00f7ff"/><stop offset="0.8302" stop-color="#00afff"/><stop offset="0.8581" stop-color="#003bff"/><stop offset="0.8721" stop-color="#001bff"/><stop offset="0.9349" stop-color="#001bff"/><stop offset="0.9512" stop-color="#003bff"/><stop offset="0.9721" stop-color="#007eff"/><stop offset="0.986" stop-color="#008bff"/><stop offset="1" stop-color="#008cff"/></linearGradient>
<linearGradient id="c78" x1="0" y1="0" x2="0" y2="1"><stop offset="0" stop-color="#00ff37"/><stop offset="0.09302" stop-color="#00ff3a"/><stop offset="0.1605" stop-color="#00ff35"/><stop offset="0.1837" stop-color="#00ff09"/><stop offset="0.193" stop-color="#04fa00"/><stop offset="0.207" stop-color="#35c500"/><stop offset="0.2186" stop-color="#748600"/><stop offset="0.2256" stop-color="#b54500"/><stop offset="0.2302" stop-color="#e21800"/><stop offset="0.2349" stop-color="#ff0100"/><stop offset="0.2419" stop-color="#ff2200"/><stop offset="0.2605" stop-color="#ffb700"/><stop offset="0.2744" stop-color="#fffd00"/><stop offset="0.2907" stop-color="#ffff0d"/><stop offset="0.3209" stop-color="#ffff06"/><stop offset="0.3256" stop-color="#fffd00"/><stop offset="0.3395" stop-color="#ffba00"/><stop offset="0.3628" stop-color="#ff2000"/><stop offset="0.3744" stop-color="#ff0e00"/><stop offset="0.4581" stop-color="#fc0300"/><stop offset="0.5116" stop-color="#e01a00"/><stop offset="0.5581" stop-color="#956500"/><stop offset="0.5698" stop-color="#946600"/><stop offset="0.6209" stop-color="#e11900"/><stop offset="0.6721" stop-color="#e51500"/><stop offset="0.6977" stop-color="#d12900"/><stop offset="0.7163" stop-color="#b34700"/><stop offset="0.7488" stop-color="#47b300"/><stop offset="0.7628" stop-color="#00ff01"/><stop offset="0.7744" stop-color="#00ff23"/><stop offset="0.7814" stop-color="#00ff4b"/><stop offset="0.793" stop-color="#00ffb3"/><stop offset="0.7977" stop-color="#00ffd1"/><stop offset="0.8093" stop-color="#00fff9"/><stop offset="0.814" stop-color="#00f8ff"/><stop offset="0.8302" stop-color="#00b9ff"/><stop offset="0.8581" stop-color="#003aff"/><stop offset="0.8721" stop-color="#0016ff"/><stop offset="0.9372" stop-color="#0013ff"/><stop offset="0.9488" stop-color="#0026ff"/><stop offset="0.9744" stop-color="#007bff"/><stop offset="0.9884" stop-color="#0086ff"/><stop offset="1" stop-color="#0086ff"/></linearGradient>
<linearGradient id="c79" x1="0" y1="0" x2="0" y2="1"><stop offset="0" stop-color="#00ff47"/><stop offset="0.07209" stop-color="#00ff49"/><stop offset="0.0907" stop-color="#00ff5e"/><stop offset="0.1233" stop-color="#00ff47"/><stop offset="0.1581" stop-color="#00ff42"/><stop offset="0.186" stop-color="#00ff0d"/><stop offset="0.1977" stop-color="#02fd00"/><stop offset="0.2116" stop-color="#35c500"/><stop offset="0.2233" stop-color="#788200"/><stop offset="0.2326" stop-color="#d92100"/><stop offset="0.2372" stop-color="#fb0300"/><stop offset="0.2442" stop-color="#ff1e00"/><stop offset="0.2628" stop-color="#ffb000"/><stop offset="0.2744" stop-color="#ffec00"/><stop offset="0.2791" stop-color="#fffd00"/><stop offset="0.3023" stop-color="#ffff08"/><stop offset="0.3233" stop-color="#fffb00"/><stop offset="0.3349" stop-color="#ffcd00"/><stop offset="0.3442" stop-color="#ff9500"/><stop offset="0.3605" stop-color="#ff2c00"/><stop offset="0.3651" stop-color="#ff1b00"/><stop offset="0.3791" stop-color="#ff0e00"/><stop offset="0.4721" stop-color="#ff0100"/><stop offset="0.5023" stop-color="#f30900"/><stop offset="0.5372" stop-color="#c43600"/><stop offset="0.5651" stop-color="#9f5b00"/><stop offset="0.5767" stop-color="#a55500"/><stop offset="0.6163" stop-color="#e31700"/><stop offset="0.6372" stop-color="#f60700"/><stop offset="0.6721" stop-color="#f10a00"/><stop offset="0.7093" stop-color="#c53500"/><stop offset="0.7279" stop-color="#986200"/><stop offset="0.7488" stop-color="#4fab00"/><stop offset="0.7628" stop-color="#03fb00"/><stop offset="0.7744" stop-color="#00ff1b"/><stop offset="0.7837" stop-color="#00ff49"/><stop offset="0.7953" stop-color="#00ffaf"/><stop offset="0.8023" stop-color="#00ffd9"/><stop offset="0.814" stop-color="#00fffd"/><stop offset="0.8302" stop-color="#00c2ff"/><stop offset="0.8558" stop-color="#0041ff"/><stop offset="0.8674" stop-color="#0019ff"/><stop offset="0.8814" stop-color="#000dff"/><stop offset="0.9419" stop-color="#0010ff"/><stop offset="0.9535" stop-color="#0026ff"/><stop offset="0.9767" stop-color="#0073ff"/><stop offset="0.9907" stop-color="#0081ff"/><stop offset="1" stop-color="#0081ff"/></linearGradient>
<linearGradient id="c80" x1="0" y1="0" x2="0" y2="1"><stop offset="0" stop-color="#00ff5b"/><stop offset="0.07442" stop-color="#00ff5e"/><stop offset="0.0907" stop-color="#00ff7b"/><stop offset="0.1256" stop-color="#00ff5b"/><stop offset="0.1581" stop-color="#00ff57"/><stop offset="0.186" stop-color="#00ff14"/><stop offset="0.2023" stop-color="#00ff00"/><stop offset="0.2163" stop-color="#34c600"/><stop offset="0.2279" stop-color="#7e7c00"/><stop offset="0.2372" stop-color="#e31700"/><stop offset="0.2395" stop-color="#f30900"/><stop offset="0.2419" stop-color="#ff0400"/><stop offset="0.2488" stop-color="#ff2800"/><stop offset="0.2674" stop-color="#ffb500"/><stop offset="0.2791" stop-color="#ffec00"/><stop offset="0.286" stop-color="#fffe00"/><stop offset="0.3163" stop-color="#fffe00"/><stop offset="0.3302" stop-color="#ffd800"/><stop offset="0.3419" stop-color="#ffa000"/><stop offset="0.3605" stop-color="#ff2b00"/><stop offset="0.3651" stop-color="#ff1b00"/><stop offset="0.3814" stop-color="#ff0f00"/><stop offset="0.4744" stop-color="#ff0600"/><stop offset="0.5047" stop-color="#fc0200"/><stop offset="0.5581" stop-color="#b44600"/><stop offset="0.5744" stop-color="#ab4f00"/><stop offset="0.6" stop-color="#d22800"/><stop offset="0.6256" stop-color="#ff0100"/><stop offset="0.6767" stop-color="#fc0300"/><stop offset="0.7186" stop-color="#b44600"/><stop offset="0.7349" stop-color="#857500"/><stop offset="0.7512" stop-color="#4ab000"/><stop offset="0.7628" stop-color="#0af300"/><stop offset="0.7651" stop-color="#00ff01"/><stop offset="0.7791" stop-color="#00ff25"/><stop offset="0.786" stop-color="#00ff45"/><stop offset="0.8" stop-color="#00ffbc"/><stop offset="0.807" stop-color="#00ffe0"/><stop offset="0.8163" stop-color="#00fffc"/><stop offset="0.8279" stop-color="#00d3ff"/><stop offset="0.8581" stop-color="#0036ff"/><stop offset="0.8698" stop-color="#0012ff"/><stop offset="0.886" stop-color="#0009ff"/><stop offset="0.9442" stop-color="#000cff"/><stop offset="0.9558" stop-color="#0023ff"/><stop offset="0.9791" stop-color="#006cff"/><stop offset="0.9907" stop-color="#007aff"/><stop offset="1" stop-color="#007bff"/></linearGradient>
<linearGradient id="c81" x1="0" y1="0" x2="0" y2="1"><stop offset="0" stop-color="#00ff68"/><stop offset="0.07907" stop-color="#00ff6c"/><stop offset="0.09535" stop-color="#00ff7e"/><stop offset="0.1302" stop-color="#00ff68"/><stop offset="0.1581" stop-color="#00ff65"/><stop offset="0.1651" stop-color="#00ff55"/><stop offset="0.1721" stop-color="#00ff3a"/><stop offset="0.1884" stop-color="#00ff15"/><stop offset="0.2047" stop-color="#00ff01"/><stop offset="0.2186" stop-color="#31c900"/><stop offset="0.2302" stop-color="#7c7e00"/><stop offset="0.2395" stop-color="#e11900"/><stop offset="0.2442" stop-color="#ff0200"/><stop offset="0.2512" stop-color="#ff2400"/><stop offset="0.2698" stop-color="#ffae00"/><stop offset="0.2814" stop-color="#ffe300"/><stop offset="0.2907" stop-color="#fff500"/><stop offset="0.3116" stop-color="#fff400"/><stop offset="0.3256" stop-color="#ffd800"/><stop offset="0.3395" stop-color="#ffa300"/><stop offset="0.3628" stop-color="#ff2100"/><stop offset="0.3744" stop-color="#ff1200"/><stop offset="0.4651" stop-color="#ff1100"/><stop offset="0.5093" stop-color="#fd0100"/><stop offset="0.5326" stop-color="#d92100"/><stop offset="0.5721" stop-color="#b44600"/><stop offset="0.5837" stop-color="#bb3f00"/><stop offset="0.6116" stop-color="#f00c00"/><stop offset="0.6163" stop-color="#fd0200"/><stop offset="0.6372" stop-color="#ff1000"/><stop offset="0.6698" stop-color="#ff0a00"/><stop offset="0.6814" stop-color="#fc0200"/><stop offset="0.7209" stop-color="#af4b00"/><stop offset="0.7512" stop-color="#50aa00"/><stop offset="0.7674" stop-color="#00ff00"/><stop offset="0.7814" stop-color="#00ff20"/><stop offset="0.7884" stop-color="#00ff3d"/><stop offset="0.8023" stop-color="#00ffb5"/><stop offset="0.807" stop-color="#00ffd2"/><stop offset="0.8186" stop-color="#00fffb"/><stop offset="0.8256" stop-color="#00e6ff"/><stop offset="0.8581" stop-color="#0037ff"/><stop offset="0.8698" stop-color="#0012ff"/><stop offset="0.8814" stop-color="#0007ff"/><stop offset="0.9465" stop-color="#000cff"/><stop offset="0.9605" stop-color="#002aff"/><stop offset="0.9791" stop-color="#0062ff"/><stop offset="0.993" stop-color="#006fff"/><stop offset="1" stop-color="#006fff"/></linearGradient>
<linearGradient id="c82" x1="0" y1="0" x2="0" y2="1"><stop offset="0" stop-color="#00ff71"/><stop offset="0.08837" stop-color="#00ff75"/><stop offset="0.1581" stop-color="#00ff6e"/><stop offset="0.1651" stop-color="#00ff5d"/><stop offset="0.1744" stop-color="#00ff37"/><stop offset="0.1907" stop-color="#00ff13"/><stop offset="0.207" stop-color="#02fd00"/><stop offset="0.2209" stop-color="#39c100"/><stop offset="0.2302" stop-color="#738700"/><stop offset="0.2349" stop-color="#9f5b00"/><stop offset="0.2395" stop-color="#d42600"/><stop offset="0.2442" stop-color="#f70600"/><stop offset="0.2465" stop-color="#ff0600"/><stop offset="0.2535" stop-color="#ff2a00"/><stop offset="0.2721" stop-color="#ffad00"/><stop offset="0.2837" stop-color="#ffde00"/><stop offset="0.2953" stop-color="#ffeb00"/><stop offset="0.314" stop-color="#ffe300"/><stop offset="0.3302" stop-color="#ffb800"/><stop offset="0.3419" stop-color="#ff8600"/><stop offset="0.3628" stop-color="#ff2000"/><stop offset="0.3744" stop-color="#ff1300"/><stop offset="0.4186" stop-color="#ff1700"/><stop offset="0.4488" stop-color="#ff1f00"/><stop offset="0.5047" stop-color="#ff0600"/><stop offset="0.514" stop-color="#fa0400"/><stop offset="0.5326" stop-color="#dc1e00"/><stop offset="0.5674" stop-color="#be3c00"/><stop offset="0.5837" stop-color="#bf3b00"/><stop offset="0.6093" stop-color="#ee0d00"/><stop offset="0.6163" stop-color="#ff0300"/><stop offset="0.6326" stop-color="#ff1900"/><stop offset="0.6651" stop-color="#ff1500"/><stop offset="0.6837" stop-color="#fc0200"/><stop offset="0.7209" stop-color="#ae4c00"/><stop offset="0.7535" stop-color="#48b200"/><stop offset="0.7698" stop-color="#01fe00"/><stop offset="0.7837" stop-color="#00ff1c"/><stop offset="0.7907" stop-color="#00ff3b"/><stop offset="0.807" stop-color="#00ffc5"/><stop offset="0.8186" stop-color="#00fff5"/><stop offset="0.8233" stop-color="#00f8ff"/><stop offset="0.8349" stop-color="#00bbff"/><stop offset="0.8442" stop-color="#0082ff"/><stop offset="0.8581" stop-color="#0039ff"/><stop offset="0.8698" stop-color="#0013ff"/><stop offset="0.8814" stop-color="#0006ff"/><stop offset="0.9465" stop-color="#000aff"/><stop offset="0.9605" stop-color="#0027ff"/><stop offset="0.9791" stop-color="#005bff"/><stop offset="0.9953" stop-color="#0064ff"/><stop offset="1" stop-color="#0064ff"/></linearGradient>
<linearGradient id="c83" x1="0" y1="0" x2="0" y2="1"><stop offset="0" stop-color="#00ff74"/><stop offset="0.09302" stop-color="#00ff74"/><stop offset="0.1581" stop-color="#00ff71"/><stop offset="0.1651" stop-color="#00ff5e"/><stop offset="0.1744" stop-color="#00ff38"/><stop offset="0.1907" stop-color="#00ff13"/><stop offset="0.207" stop-color="#02fd00"/><stop offset="0.2209" stop-color="#39c100"/><stop offset="0.2302" stop-color="#728800"/><stop offset="0.2419" stop-color="#e51500"/><stop offset="0.2442" stop-color="#f50800"/><stop offset="0.2465" stop-color="#ff0400"/><stop offset="0.2535" stop-color="#ff2600"/><stop offset="0.2721" stop-color="#ffa900"/><stop offset="0.2837" stop-color="#ffda00"/><stop offset="0.293" stop-color="#ffe600"/><stop offset="0.3116" stop-color="#ffe200"/><stop offset="0.3256" stop-color="#ffc100"/><stop offset="0.3395" stop-color="#ff8a00"/><stop offset="0.3628" stop-color="#ff2000"/><stop offset="0.3744" stop-color="#ff1400"/><stop offset="0.4163" stop-color="#ff1700"/><stop offset="0.4419" stop-color="#ff2400"/><stop offset="0.4698" stop-color="#ff1c00"/><stop offset="0.514" stop-color="#fc0200"/><stop offset="0.5302" stop-color="#e11900"/><stop offset="0.5628" stop-color="#c33700"/><stop offset="0.5814" stop-color="#bf3b00"/><stop offset="0.6047" stop-color="#e41600"/><stop offset="0.614" stop-color="#fd0200"/><stop offset="0.6349" stop-color="#ff1d00"/><stop offset="0.6651" stop-color="#ff1900"/><stop offset="0.6837" stop-color="#ff0000"/><stop offset="0.7233" stop-color="#a85200"/><stop offset="0.7558" stop-color="#3fbb00"/><stop offset="0.7721" stop-color="#00ff01"/><stop offset="0.786" stop-color="#00ff20"/><stop offset="0.793" stop-color="#00ff41"/><stop offset="0.8047" stop-color="#00ffab"/><stop offset="0.8116" stop-color="#00ffd7"/><stop offset="0.8233" stop-color="#00fbff"/><stop offset="0.8372" stop-color="#00aeff"/><stop offset="0.8558" stop-color="#0045ff"/><stop offset="0.8674" stop-color="#0019ff"/><stop offset="0.8791" stop-color="#0007ff"/><stop offset="0.9465" stop-color="#0009ff"/><stop offset="0.9605" stop-color="#0025ff"/><stop offset="0.9791" stop-color="#0059ff"/><stop offset="0.9977" stop-color="#0060ff"/><stop offset="1" stop-color="#0060ff"/></linearGradient>
<linearGradient id="c84" x1="0" y1="0" x2="0" y2="1"><stop offset="0" stop-color="#00ff74"/><stop offset="0.09302" stop-color="#00ff74"/><stop offset="0.1581" stop-color="#00ff71"/><stop offset="0.1651" stop-color="#00ff5f"/><stop offset="0.1744" stop-color="#00ff38"/><stop offset="0.1907" stop-color="#00ff13"/><stop offset="0.207" stop-color="#02fd00"/><stop offset="0.2209" stop-color="#39c100"/><stop offset="0.2302" stop-color="#728800"/><stop offset="0.2419" stop-color="#e51500"/><stop offset="0.2442" stop-color="#f40800"/><stop offset="0.2465" stop-color="#ff0400"/><stop offset="0.2535" stop-color="#ff2600"/><stop offset="0.2721" stop-color="#ffa900"/><stop offset="0.2837" stop-color="#ffd900"/><stop offset="0.293" stop-color="#ffe500"/><stop offset="0.3116" stop-color="#ffe100"/><stop offset="0.3256" stop-color="#ffc000"/><stop offset="0.3395" stop-color="#ff8a00"/><stop offset="0.3628" stop-color="#ff2000"/><stop offset="0.3744" stop-color="#ff1400"/><stop offset="0.4186" stop-color="#ff1900"/><stop offset="0.4419" stop-color="#ff2500"/><stop offset="0.4674" stop-color="#ff1e00"/><stop offset="0.514" stop-color="#fd0200"/><stop offset="0.5302" stop-color="#e11900"/><stop offset="0.5628" stop-color="#c33700"/><stop offset="0.5837" stop-color="#c13900"/><stop offset="0.607" stop-color="#e81200"/><stop offset="0.614" stop-color="#fc0200"/><stop offset="0.6349" stop-color="#ff1d00"/><stop offset="0.6651" stop-color="#ff1a00"/><stop offset="0.6837" stop-color="#ff0000"/><stop offset="0.7233" stop-color="#a85200"/><stop offset="0.7558" stop-color="#40ba00"/><stop offset="0.7721" stop-color="#00ff01"/><stop offset="0.786" stop-color="#00ff1f"/><stop offset="0.793" stop-color="#00ff40"/><stop offset="0.8047" stop-color="#00ffa9"/><stop offset="0.8116" stop-color="#00ffd6"/><stop offset="0.8233" stop-color="#00fcff"/><stop offset="0.8372" stop-color="#00afff"/><stop offset="0.8558" stop-color="#0046ff"/><stop offset="0.8674" stop-color="#0019ff"/><stop offset="0.8791" stop-color="#0007ff"/><stop offset="0.9465" stop-color="#0009ff"/><stop offset="0.9605" stop-color="#0025ff"/><stop offset="0.9791" stop-color="#0059ff"/><stop offset="0.9977" stop-color="#0060ff"/><stop offset="1" stop-color="#0060ff"/></linearGradient>
<linearGradient id="cb" x1="0" y1="0" x2="0" y2="1"><stop offset="0.0000" stop-color="#FFFF28"/><stop offset="0.0624" stop-color="#FFFF00"/><stop offset="0.0952" stop-color="#FFD000"/><stop offset="0.1212" stop-color="#FFA800"/><stop offset="0.1432" stop-color="#FF8000"/><stop offset="0.1648" stop-color="#FF6000"/><stop offset="0.1868" stop-color="#FF4000"/><stop offset="0.2084" stop-color="#FF2000"/><stop offset="0.2520" stop-color="#FF0000"/><stop offset="0.2740" stop-color="#E81000"/><stop offset="0.2868" stop-color="#D01800"/><stop offset="0.3088" stop-color="#B03000"/><stop offset="0.3308" stop-color="#885000"/><stop offset="0.3528" stop-color="#687000"/><stop offset="0.3744" stop-color="#488800"/><stop offset="0.3960" stop-color="#28B000"/><stop offset="0.4180" stop-color="#18D800"/><stop offset="0.4400" stop-color="#00FF00"/><stop offset="0.4836" stop-color="#00FF18"/><stop offset="0.5276" stop-color="#00FF40"/><stop offset="0.5712" stop-color="#00FF90"/><stop offset="0.6036" stop-color="#00FFC8"/><stop offset="0.6236" stop-color="#00FFE0"/><stop offset="0.6512" stop-color="#00FFFF"/><stop offset="0.6732" stop-color="#00E0FF"/><stop offset="0.6952" stop-color="#00C0FF"/><stop offset="0.7168" stop-color="#0098FF"/><stop offset="0.7388" stop-color="#0078FF"/><stop offset="0.7608" stop-color="#0050FF"/><stop offset="0.7824" stop-color="#0030FF"/><stop offset="0.8040" stop-color="#0018FF"/><stop offset="0.8260" stop-color="#0008FF"/><stop offset="0.8480" stop-color="#0000FF"/><stop offset="1.0000" stop-color="#0000FF"/></linearGradient>
<clipPath id="hm"><polygon points="150,408 208,408 213,421 359,421 372,430 439,430 451,422 638,422 648,408 702,408 707,415 712,423 722,427 730,430 737,432 874,432 889,443 1177,443 1190,452 1374,452.7 1387,443 1579,443 1589,452.7 1840,452.7 1840,1240.7 1769,1240.7 1759,1248 1751.5,1250 1744,1248 1734,1240.7 1665,1240.7 1655,1230 1604.6,1230 1594,1218.7 1564,1218.7 1554,1208.5 1526,1208.5 1516,1199 1445,1199 1435,1188.8 1051,1188.5 1041,1198.4 889,1198.4 877,1188.5 767,1188.5 757,1177 727,1177 715,1166 687,1166 675,1153.6 650,1153.6 643,1145 491,1145 478,1157 212,1157 205,1166 150,1166"/></clipPath>
<clipPath id="frame"><rect x="185" y="414.4" width="1616.5" height="1072.6"/></clipPath>
<clipPath id="plot"><rect x="185" y="243" width="1616.5" height="1244"/></clipPath>
<filter id="bl" x="-5%%" y="-5%%" width="110%%" height="110%%" color-interpolation-filters="sRGB"><feGaussianBlur stdDeviation="9 2.5"/></filter>
</defs>
<rect width="2211" height="1539" fill="#fff"/>
<g clip-path="url(#frame)"><g clip-path="url(#hm)">
<g filter="url(#bl)">
<rect x="145" y="400" width="20.5" height="860" fill="url(#c0)"/>
<rect x="165" y="400" width="20.5" height="860" fill="url(#c1)"/>
<rect x="185" y="400" width="20.5" height="860" fill="url(#c2)"/>
<rect x="205" y="400" width="20.5" height="860" fill="url(#c3)"/>
<rect x="225" y="400" width="20.5" height="860" fill="url(#c4)"/>
<rect x="245" y="400" width="20.5" height="860" fill="url(#c5)"/>
<rect x="265" y="400" width="20.5" height="860" fill="url(#c6)"/>
<rect x="285" y="400" width="20.5" height="860" fill="url(#c7)"/>
<rect x="305" y="400" width="20.5" height="860" fill="url(#c8)"/>
<rect x="325" y="400" width="20.5" height="860" fill="url(#c9)"/>
<rect x="345" y="400" width="20.5" height="860" fill="url(#c10)"/>
<rect x="365" y="400" width="20.5" height="860" fill="url(#c11)"/>
<rect x="385" y="400" width="20.5" height="860" fill="url(#c12)"/>
<rect x="405" y="400" width="20.5" height="860" fill="url(#c13)"/>
<rect x="425" y="400" width="20.5" height="860" fill="url(#c14)"/>
<rect x="445" y="400" width="20.5" height="860" fill="url(#c15)"/>
<rect x="465" y="400" width="20.5" height="860" fill="url(#c16)"/>
<rect x="485" y="400" width="20.5" height="860" fill="url(#c17)"/>
<rect x="505" y="400" width="20.5" height="860" fill="url(#c18)"/>
<rect x="525" y="400" width="20.5" height="860" fill="url(#c19)"/>
<rect x="545" y="400" width="20.5" height="860" fill="url(#c20)"/>
<rect x="565" y="400" width="20.5" height="860" fill="url(#c21)"/>
<rect x="585" y="400" width="20.5" height="860" fill="url(#c22)"/>
<rect x="605" y="400" width="20.5" height="860" fill="url(#c23)"/>
<rect x="625" y="400" width="20.5" height="860" fill="url(#c24)"/>
<rect x="645" y="400" width="20.5" height="860" fill="url(#c25)"/>
<rect x="665" y="400" width="20.5" height="860" fill="url(#c26)"/>
<rect x="685" y="400" width="20.5" height="860" fill="url(#c27)"/>
<rect x="705" y="400" width="20.5" height="860" fill="url(#c28)"/>
<rect x="725" y="400" width="20.5" height="860" fill="url(#c29)"/>
<rect x="745" y="400" width="20.5" height="860" fill="url(#c30)"/>
<rect x="765" y="400" width="20.5" height="860" fill="url(#c31)"/>
<rect x="785" y="400" width="20.5" height="860" fill="url(#c32)"/>
<rect x="805" y="400" width="20.5" height="860" fill="url(#c33)"/>
<rect x="825" y="400" width="20.5" height="860" fill="url(#c34)"/>
<rect x="845" y="400" width="20.5" height="860" fill="url(#c35)"/>
<rect x="865" y="400" width="20.5" height="860" fill="url(#c36)"/>
<rect x="885" y="400" width="20.5" height="860" fill="url(#c37)"/>
<rect x="905" y="400" width="20.5" height="860" fill="url(#c38)"/>
<rect x="925" y="400" width="20.5" height="860" fill="url(#c39)"/>
<rect x="945" y="400" width="20.5" height="860" fill="url(#c40)"/>
<rect x="965" y="400" width="20.5" height="860" fill="url(#c41)"/>
<rect x="985" y="400" width="20.5" height="860" fill="url(#c42)"/>
<rect x="1005" y="400" width="20.5" height="860" fill="url(#c43)"/>
<rect x="1025" y="400" width="20.5" height="860" fill="url(#c44)"/>
<rect x="1045" y="400" width="20.5" height="860" fill="url(#c45)"/>
<rect x="1065" y="400" width="20.5" height="860" fill="url(#c46)"/>
<rect x="1085" y="400" width="20.5" height="860" fill="url(#c47)"/>
<rect x="1105" y="400" width="20.5" height="860" fill="url(#c48)"/>
<rect x="1125" y="400" width="20.5" height="860" fill="url(#c49)"/>
<rect x="1145" y="400" width="20.5" height="860" fill="url(#c50)"/>
<rect x="1165" y="400" width="20.5" height="860" fill="url(#c51)"/>
<rect x="1185" y="400" width="20.5" height="860" fill="url(#c52)"/>
<rect x="1205" y="400" width="20.5" height="860" fill="url(#c53)"/>
<rect x="1225" y="400" width="20.5" height="860" fill="url(#c54)"/>
<rect x="1245" y="400" width="20.5" height="860" fill="url(#c55)"/>
<rect x="1265" y="400" width="20.5" height="860" fill="url(#c56)"/>
<rect x="1285" y="400" width="20.5" height="860" fill="url(#c57)"/>
<rect x="1305" y="400" width="20.5" height="860" fill="url(#c58)"/>
<rect x="1325" y="400" width="20.5" height="860" fill="url(#c59)"/>
<rect x="1345" y="400" width="20.5" height="860" fill="url(#c60)"/>
<rect x="1365" y="400" width="20.5" height="860" fill="url(#c61)"/>
<rect x="1385" y="400" width="20.5" height="860" fill="url(#c62)"/>
<rect x="1405" y="400" width="20.5" height="860" fill="url(#c63)"/>
<rect x="1425" y="400" width="20.5" height="860" fill="url(#c64)"/>
<rect x="1445" y="400" width="20.5" height="860" fill="url(#c65)"/>
<rect x="1465" y="400" width="20.5" height="860" fill="url(#c66)"/>
<rect x="1485" y="400" width="20.5" height="860" fill="url(#c67)"/>
<rect x="1505" y="400" width="20.5" height="860" fill="url(#c68)"/>
<rect x="1525" y="400" width="20.5" height="860" fill="url(#c69)"/>
<rect x="1545" y="400" width="20.5" height="860" fill="url(#c70)"/>
<rect x="1565" y="400" width="20.5" height="860" fill="url(#c71)"/>
<rect x="1585" y="400" width="20.5" height="860" fill="url(#c72)"/>
<rect x="1605" y="400" width="20.5" height="860" fill="url(#c73)"/>
<rect x="1625" y="400" width="20.5" height="860" fill="url(#c74)"/>
<rect x="1645" y="400" width="20.5" height="860" fill="url(#c75)"/>
<rect x="1665" y="400" width="20.5" height="860" fill="url(#c76)"/>
<rect x="1685" y="400" width="20.5" height="860" fill="url(#c77)"/>
<rect x="1705" y="400" width="20.5" height="860" fill="url(#c78)"/>
<rect x="1725" y="400" width="20.5" height="860" fill="url(#c79)"/>
<rect x="1745" y="400" width="20.5" height="860" fill="url(#c80)"/>
<rect x="1765" y="400" width="20.5" height="860" fill="url(#c81)"/>
<rect x="1785" y="400" width="20.5" height="860" fill="url(#c82)"/>
<rect x="1805" y="400" width="20.5" height="860" fill="url(#c83)"/>
<rect x="1825" y="400" width="20.5" height="860" fill="url(#c84)"/>
</g>
<polyline points="150,408 208,408 213,421 359,421 372,430 439,430 451,422 638,422 648,408 702,408 707,415 712,423 722,427 730,430 737,432 874,432 889,443 1177,443 1190,452 1374,452.7 1387,443 1579,443 1589,452.7 1840,452.7" fill="none" stroke="#5a1a00" stroke-width="13" stroke-linejoin="round"/>
<polyline points="150,408 208,408 213,421 359,421 372,430 439,430 451,422 638,422 648,408 702,408 707,415 712,423 722,427 730,430 737,432 874,432 889,443 1177,443 1190,452 1374,452.7 1387,443 1579,443 1589,452.7 1840,452.7" fill="none" stroke="#e01000" stroke-width="10" stroke-linejoin="round"/>
<polyline points="150,408 208,408 213,421 359,421 372,430 439,430 451,422 638,422 648,408 702,408 707,415 712,423 722,427 730,430 737,432 874,432 889,443 1177,443 1190,452 1374,452.7 1387,443 1579,443 1589,452.7 1840,452.7" fill="none" stroke="#ff9000" stroke-width="7" stroke-linejoin="round"/>
<polyline points="150,408 208,408 213,421 359,421 372,430 439,430 451,422 638,422 648,408 702,408 707,415 712,423 722,427 730,430 737,432 874,432 889,443 1177,443 1190,452 1374,452.7 1387,443 1579,443 1589,452.7 1840,452.7" fill="none" stroke="#ffee20" stroke-width="4" stroke-linejoin="round"/>
<polyline points="150,1166 205,1166 212,1157 478,1157 491,1145 643,1145 650,1153.6 675,1153.6 687,1166 715,1166 727,1177 757,1177 767,1188.5 877,1188.5 889,1198.4 1041,1198.4 1051,1188.5 1435,1188.8 1445,1199 1516,1199 1526,1208.5 1554,1208.5 1564,1218.7 1594,1218.7 1604.6,1230 1655,1230 1665,1240.7 1734,1240.7 1744,1248 1751.5,1250 1759,1248 1769,1240.7 1840,1240.7" fill="none" stroke="#00e070" stroke-width="18" stroke-linejoin="round"/>
<polyline points="150,1166 205,1166 212,1157 478,1157 491,1145 643,1145 650,1153.6 675,1153.6 687,1166 715,1166 727,1177 757,1177 767,1188.5 877,1188.5 889,1198.4 1041,1198.4 1051,1188.5 1435,1188.8 1445,1199 1516,1199 1526,1208.5 1554,1208.5 1564,1218.7 1594,1218.7 1604.6,1230 1655,1230 1665,1240.7 1734,1240.7 1744,1248 1751.5,1250 1759,1248 1769,1240.7 1840,1240.7" fill="none" stroke="#2a9a00" stroke-width="13" stroke-linejoin="round"/>
<polyline points="150,1166 205,1166 212,1157 478,1157 491,1145 643,1145 650,1153.6 675,1153.6 687,1166 715,1166 727,1177 757,1177 767,1188.5 877,1188.5 889,1198.4 1041,1198.4 1051,1188.5 1435,1188.8 1445,1199 1516,1199 1526,1208.5 1554,1208.5 1564,1218.7 1594,1218.7 1604.6,1230 1655,1230 1665,1240.7 1734,1240.7 1744,1248 1751.5,1250 1759,1248 1769,1240.7 1840,1240.7" fill="none" stroke="#e01000" stroke-width="10.5" stroke-linejoin="round"/>
<polyline points="150,1166 205,1166 212,1157 478,1157 491,1145 643,1145 650,1153.6 675,1153.6 687,1166 715,1166 727,1177 757,1177 767,1188.5 877,1188.5 889,1198.4 1041,1198.4 1051,1188.5 1435,1188.8 1445,1199 1516,1199 1526,1208.5 1554,1208.5 1564,1218.7 1594,1218.7 1604.6,1230 1655,1230 1665,1240.7 1734,1240.7 1744,1248 1751.5,1250 1759,1248 1769,1240.7 1840,1240.7" fill="none" stroke="#ff9000" stroke-width="7" stroke-linejoin="round"/>
<polyline points="150,1166 205,1166 212,1157 478,1157 491,1145 643,1145 650,1153.6 675,1153.6 687,1166 715,1166 727,1177 757,1177 767,1188.5 877,1188.5 889,1198.4 1041,1198.4 1051,1188.5 1435,1188.8 1445,1199 1516,1199 1526,1208.5 1554,1208.5 1564,1218.7 1594,1218.7 1604.6,1230 1655,1230 1665,1240.7 1734,1240.7 1744,1248 1751.5,1250 1759,1248 1769,1240.7 1840,1240.7" fill="none" stroke="#ffee20" stroke-width="4" stroke-linejoin="round"/>
</g></g>
<line x1="190" y1="444.3" x2="1798" y2="444.3" stroke="#666666" stroke-opacity="0.8" stroke-width="2.6" stroke-dasharray="6.6 6.3"/>
<line x1="190" y1="653" x2="1798" y2="653" stroke="#666666" stroke-opacity="0.8" stroke-width="2.6" stroke-dasharray="6.6 6.3"/>
<line x1="190" y1="862" x2="1798" y2="862" stroke="#666666" stroke-opacity="0.8" stroke-width="2.6" stroke-dasharray="6.6 6.3"/>
<line x1="190" y1="1071" x2="1798" y2="1071" stroke="#666666" stroke-opacity="0.8" stroke-width="2.6" stroke-dasharray="6.6 6.3"/>
<line x1="190" y1="1277" x2="1798" y2="1277" stroke="#666666" stroke-opacity="0.8" stroke-width="2.6" stroke-dasharray="6.6 6.3"/>
<g clip-path="url(#plot)" fill="none" stroke="#0c0c0c" stroke-width="2.7" stroke-linejoin="miter">
<polyline points="184,424.5 211,424.5 211,427.7 252,427.7 252,430.9 311,430.9 311,434 377,434 377,437.2 432,437.2 432,434 457,434 457,430.9 482,430.9 482,427.7 545,427.7 545,430.9 570,430.9 570,434 604,434 604,430.9 624,430.9 624,427.7 644,427.7 644,424.5 669,424.5 669,421.4 679,421.4 679,424.5 708,424.5 708,427.7 716,427.7 716,430.9 722,430.9 722,434 728,434 728,437.2 831,437.2 831,440.4 881,440.4 881,443.6 884,443.6 884,446.7 908,446.7 908,449.9 940,449.9 940,446.7 1045,446.7 1045,449.9 1082,449.9 1082,453.1 1162,453.1 1162,456.2 1242,456.2 1242,459.4 1348,459.4 1348,456.2 1386,456.2 1386,453.1 1429,453.1 1429,449.9 1538,449.9 1538,453.1 1568,453.1 1568,456.2 1579,456.2 1579,459.4 1619,459.4 1619,462.6 1664,462.6 1664,459.4 1756,459.4 1756,462.6 1770,462.6 1770,465.7 1802,465.7"/>
<polyline points="184,560.8 198,560.8 198,564 257,564 257,560.8 330,560.8 330,557.7 382,557.7 382,554.5 444,554.5 444,557.7 462,557.7 462,554.5 592,554.5 592,557.7 609,557.7 609,560.8 720,560.8 720,564 850,564 850,567.2 884,567.2 884,570.4 916,570.4 916,573.5 942,573.5 942,576.7 983,576.7 983,579.9 1038,579.9 1038,576.7 1071,576.7 1071,573.5 1078,573.5 1078,576.7 1110,576.7 1110,579.9 1120,579.9 1120,583 1132,583 1132,586.2 1145,586.2 1145,589.4 1160,589.4 1160,592.5 1248,592.5 1248,589.4 1345,589.4 1345,586.2 1417,586.2 1417,583 1443,583 1443,579.9 1459,579.9 1459,576.7 1563,576.7 1563,573.5 1617,573.5 1617,576.7 1625,576.7 1625,579.9 1635,579.9 1635,583 1645,583 1645,586.2 1654,586.2 1654,589.4 1667,589.4 1667,592.5 1681,592.5 1681,595.7 1705,595.7 1705,598.9 1726,598.9 1726,602 1742,602 1742,605.2 1763,605.2 1763,608.4 1802,608.4"/>
<polyline points="184,798.6 206,798.6 206,801.8 233,801.8 233,804.9 254,804.9 254,808.1 261,808.1 261,804.9 327,804.9 327,801.8 473,801.8 473,804.9 531,804.9 531,808.1 702,808.1 702,811.3 722,811.3 722,814.4 729,814.4 729,817.6 741,817.6 741,820.8 754,820.8 754,824 768,824 768,827.1 782,827.1 782,830.3 800,830.3 800,833.5 850,833.5 850,836.6 906,836.6 906,833.5 942,833.5 942,836.6 965,836.6 965,839.8 984,839.8 984,843 998,843 998,846.1 1011,846.1 1011,849.3 1044,849.3 1044,852.5 1066,852.5 1066,849.3 1103,849.3 1103,846.1 1133,846.1 1133,843 1189,843 1189,846.1 1211,846.1 1211,849.3 1221,849.3 1221,852.5 1252,852.5 1252,849.3 1256,849.3 1256,852.5 1319,852.5 1319,849.3 1348,849.3 1348,846.1 1389,846.1 1389,843 1471,843 1471,846.1 1567,846.1 1567,849.3 1599,849.3 1599,852.5 1614,852.5 1614,855.6 1629,855.6 1629,858.8 1645,858.8 1645,862 1661,862 1661,865.2 1675,865.2 1675,868.3 1689,868.3 1689,871.5 1705,871.5 1705,874.7 1721,874.7 1721,877.8 1736,877.8 1736,881 1750,881 1750,884.2 1763,884.2 1763,887.4 1783,887.4 1783,890.5 1802,890.5"/>
<polyline points="184,1153.6 211,1153.6 211,1150.5 242,1150.5 242,1147.3 442,1147.3 442,1144.1 482,1144.1 482,1140.9 527,1140.9 527,1137.8 630,1137.8 630,1140.9 650,1140.9 650,1144.1 668,1144.1 668,1147.3 685,1147.3 685,1150.5 694,1150.5 694,1153.6 704,1153.6 704,1156.8 715,1156.8 715,1160 721,1160 721,1163.1 729,1163.1 729,1166.3 740,1166.3 740,1169.5 753,1169.5 753,1172.6 767,1172.6 767,1175.8 783,1175.8 783,1179 860,1179 860,1182.2 925,1182.2 925,1185.3 926,1185.3 926,1188.5 965,1188.5 965,1182.2 1111,1182.2 1111,1179 1113,1179 1113,1175.8 1186,1175.8 1186,1179 1187,1179 1187,1182.2 1314,1182.2 1314,1179 1380,1179 1380,1182.2 1456,1182.2 1456,1185.3 1474,1185.3 1474,1188.5 1486,1188.5 1486,1191.7 1508,1191.7 1508,1194.8 1527,1194.8 1527,1198 1541,1198 1541,1201.2 1555,1201.2 1555,1204.4 1569,1204.4 1569,1207.5 1584,1207.5 1584,1210.7 1599,1210.7 1599,1213.9 1614,1213.9 1614,1217 1629,1217 1629,1220.2 1644,1220.2 1644,1223.4 1659,1223.4 1659,1226.5 1677,1226.5 1677,1229.7 1707,1229.7 1707,1232.9 1773,1232.9 1773,1236 1802,1236"/>
</g>
<g clip-path="url(#plot)" font-family="'DejaVu Sans', sans-serif" font-size="46.5" letter-spacing="1" fill="#141414">
<text x="625.7" y="469.8">T022</text>
<text x="504" y="600.5">T023</text>
<text x="244.3" y="839.7" text-anchor="end">T03</text>
<text x="542" y="1183.4">T031</text>
</g>
<line x1="1015" y1="344.5" x2="1015" y2="1480" stroke="#bb00bb" stroke-width="6.6" stroke-dasharray="6.4 6.3"/>
<rect x="184.9" y="242.7" width="1616.0" height="1244.1" fill="none" stroke="#352d2b" stroke-width="5.6"/>
<g font-family="'Liberation Sans', Arial, sans-serif" fill="#352d2b">
<g font-size="36.5" text-anchor="middle" letter-spacing="3.6">
<rect x="183.15" y="224.5" width="3.5" height="16" fill="#352d2b"/>
<text x="186.3" y="176.5">249</text><text x="186.1" y="219">454</text>
<rect x="362.7" y="224.5" width="3.5" height="16" fill="#352d2b"/>
<text x="365.85" y="176.5">250</text><text x="365.65" y="219">463</text>
<rect x="542.25" y="224.5" width="3.5" height="16" fill="#352d2b"/>
<text x="545.4" y="176.5">250</text><text x="545.2" y="219">472</text>
<rect x="721.8" y="224.5" width="3.5" height="16" fill="#352d2b"/>
<text x="723.25" y="176.5">251</text><text x="724.75" y="219">481</text>
<rect x="901.35" y="224.5" width="3.5" height="16" fill="#352d2b"/>
<text x="902.8" y="176.5">251</text><text x="904.3" y="219">490</text>
<rect x="1080.9" y="224.5" width="3.5" height="16" fill="#352d2b"/>
<text x="1082.35" y="176.5">251</text><text x="1083.85" y="219">499</text>
<rect x="1260.45" y="224.5" width="3.5" height="16" fill="#352d2b"/>
<text x="1263.6" y="176.5">252</text><text x="1263.4" y="219">508</text>
<rect x="1440" y="224.5" width="3.5" height="16" fill="#352d2b"/>
<text x="1443.15" y="176.5">252</text><text x="1442.95" y="219">517</text>
<rect x="1619.55" y="224.5" width="3.5" height="16" fill="#352d2b"/>
<text x="1622.7" y="176.5">252</text><text x="1622.5" y="219">526</text>
<rect x="1799.1" y="224.5" width="3.5" height="16" fill="#352d2b"/>
<text x="1802.25" y="176.5">253</text><text x="1802.05" y="219">535</text>
</g>
<g font-size="36.5" text-anchor="end" letter-spacing="3">
<rect x="166.7" y="240.95" width="16" height="3.5" fill="#352d2b"/>
<text x="167.7" y="257.5">360</text>
<rect x="166.7" y="444.75" width="16" height="3.5" fill="#352d2b"/>
<text x="167.7" y="461.3">380</text>
<rect x="166.7" y="654.75" width="16" height="3.5" fill="#352d2b"/>
<text x="167.7" y="671.3">400</text>
<rect x="166.7" y="862.95" width="16" height="3.5" fill="#352d2b"/>
<text x="167.7" y="879.5">420</text>
<rect x="166.7" y="1071.15" width="16" height="3.5" fill="#352d2b"/>
<text x="167.7" y="1087.7">440</text>
<rect x="166.7" y="1277.85" width="16" height="3.5" fill="#352d2b"/>
<text x="167.7" y="1294.4">460</text>
<rect x="166.7" y="1484.95" width="16" height="3.5" fill="#352d2b"/>
<text x="167.7" y="1501.5">480</text>
</g>
<text x="992.8" y="64" font-size="48.5" text-anchor="middle" letter-spacing="3.15">Line number</text>
<text x="993.5" y="121.4" font-size="48.5" text-anchor="middle" letter-spacing="2.95">Trace number</text>
<text x="1004" y="322" font-size="50" text-anchor="middle" letter-spacing="2">Well Su16</text>
<text transform="translate(58.5,862.3) rotate(-90)" font-size="49.5" text-anchor="middle" letter-spacing="3.1">Time(ms)</text>
<rect x="1906.6" y="242.8" width="66.1" height="1247.4" fill="url(#cb)" stroke="#352d2b" stroke-width="5"/>
<g font-size="37" letter-spacing="2.6">
<rect x="1975" y="240.25" width="13.7" height="3.5" fill="#352d2b"/>
<text x="1998" y="255.4">6500</text>
<rect x="1975" y="489.87" width="13.7" height="3.5" fill="#352d2b"/>
<text x="1998" y="505.02">6000</text>
<rect x="1975" y="739.49" width="13.7" height="3.5" fill="#352d2b"/>
<text x="1998" y="754.64">5500</text>
<rect x="1975" y="989.11" width="13.7" height="3.5" fill="#352d2b"/>
<text x="1998" y="1004.26">5000</text>
<rect x="1975" y="1238.73" width="13.7" height="3.5" fill="#352d2b"/>
<text x="1998" y="1253.88">4500</text>
<rect x="1975" y="1488.35" width="13.7" height="3.5" fill="#352d2b"/>
<text x="1998" y="1503.5">4000</text>
</g>
<text transform="translate(2142.3,867) rotate(90)" font-size="50.5" text-anchor="middle" letter-spacing="2.28">P-impedance [(g/cm<tspan font-size="27" dy="-25" dx="-3">3</tspan><tspan dy="25">)·(m/s)]</tspan></text>
</g>
</svg>
</body></html>
